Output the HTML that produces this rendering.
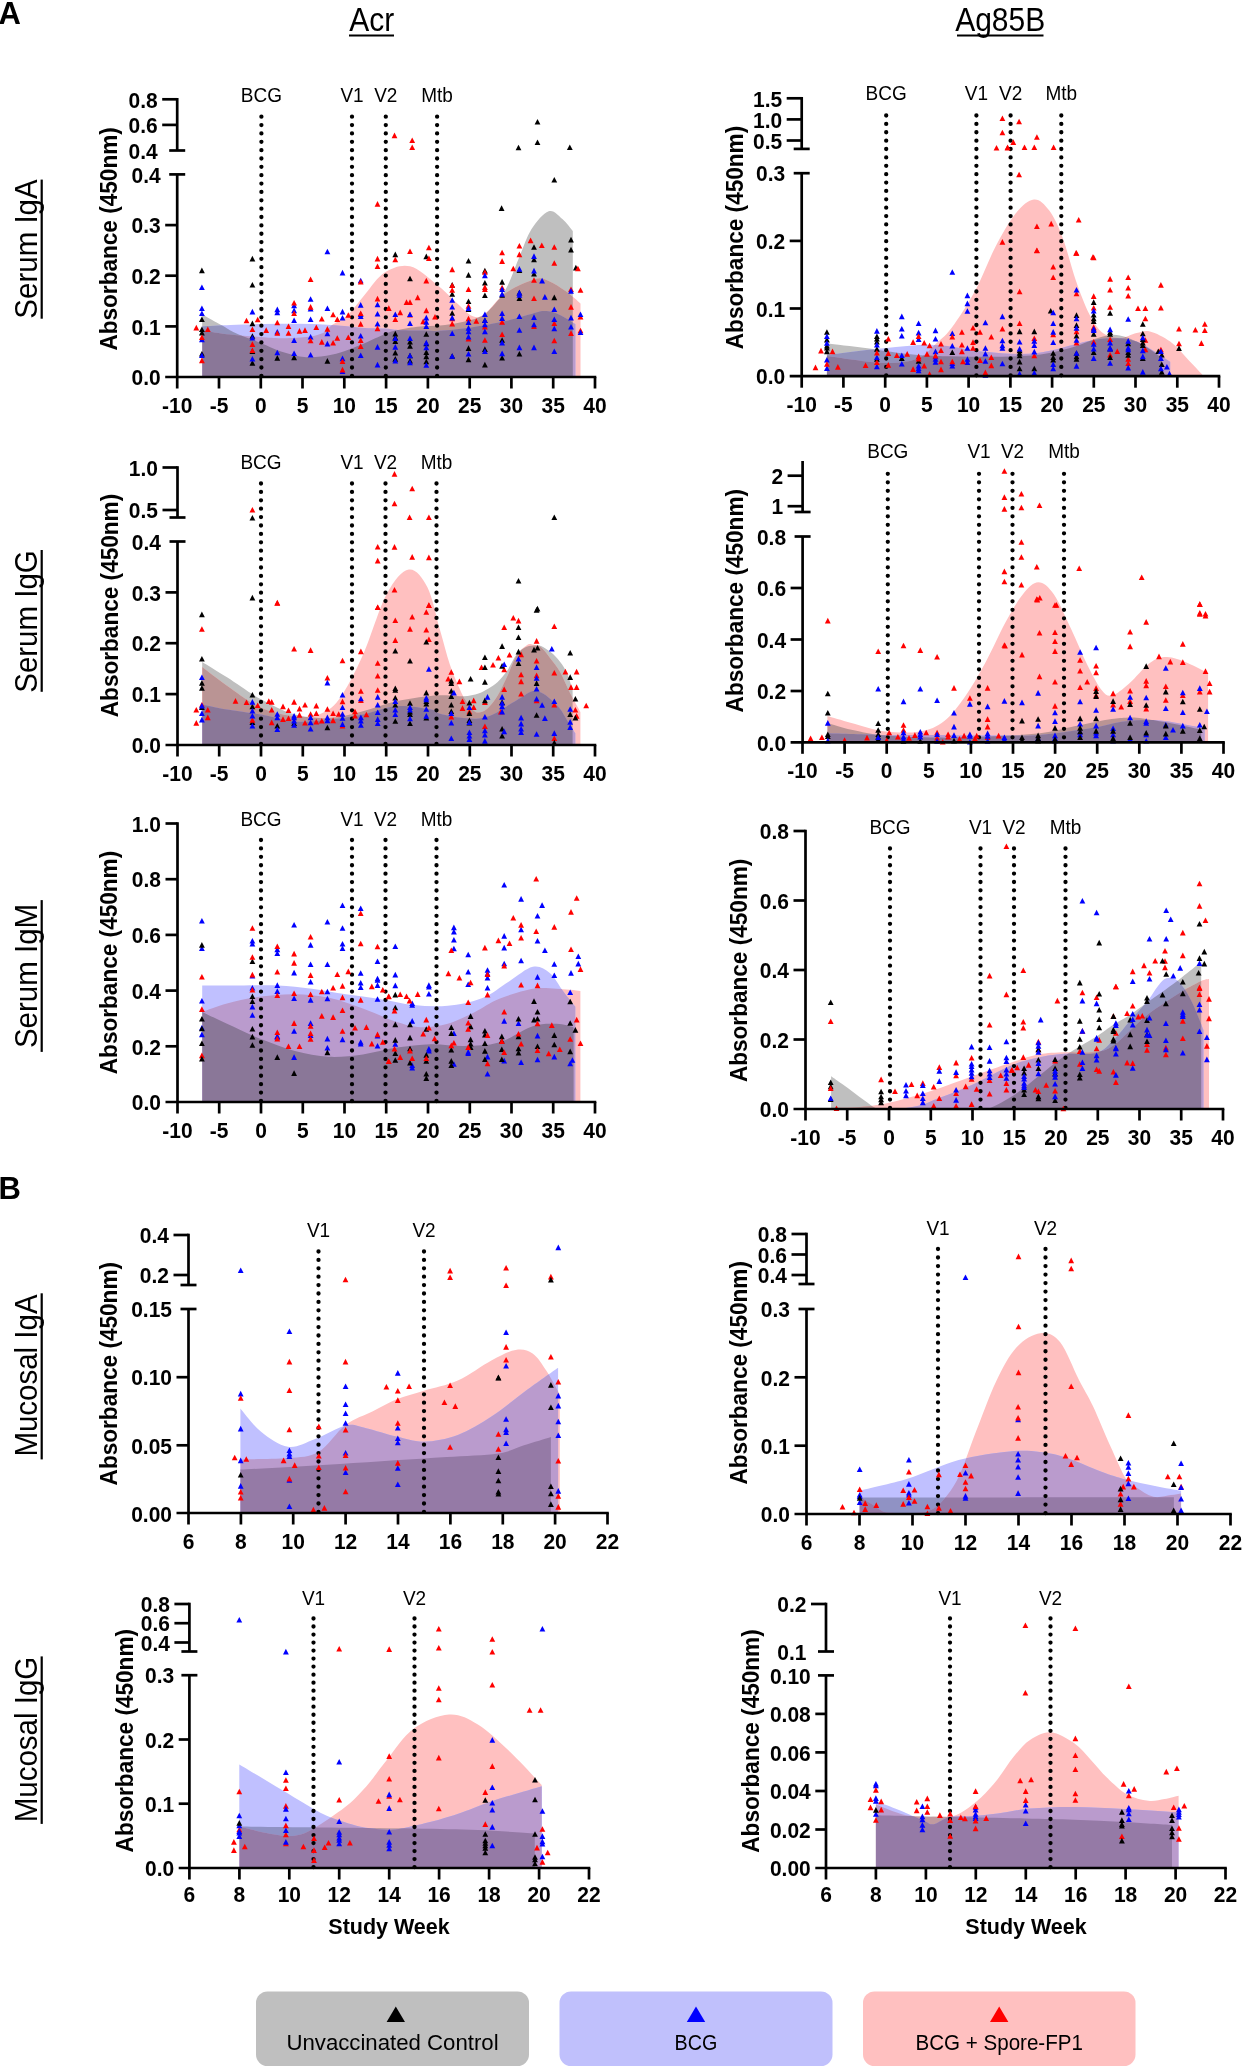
<!DOCTYPE html>
<html><head><meta charset="utf-8"><style>
html,body{margin:0;padding:0;background:#fff;}
svg{display:block;font-family:"Liberation Sans", sans-serif;will-change:transform;}
</style></head><body>
<svg width="1248" height="2072" viewBox="0 0 1248 2072">
<defs><clipPath id="cA1LG"><path d="M202.2,376.0 L202.2,314.4 C205.5,316.2 216.5,322.3 222.1,325.4 C227.7,328.5 229.1,330.0 235.5,332.9 C241.9,335.8 253.2,339.9 260.8,343.0 C268.4,346.1 273.4,349.0 281.0,351.4 C288.6,353.8 297.8,356.7 306.2,357.3 C314.6,357.9 324.4,356.1 331.4,354.8 C338.4,353.6 342.7,351.8 348.3,349.8 C353.9,347.8 359.0,345.6 365.1,343.0 C371.2,340.4 379.5,336.2 385.0,334.0 C390.5,331.8 392.2,331.2 398.0,330.0 C403.8,328.8 413.0,327.2 420.0,326.5 C427.0,325.8 433.3,326.3 440.0,325.6 C446.7,324.9 453.6,323.9 460.0,322.5 C466.4,321.1 473.8,319.4 478.5,317.5 C483.2,315.6 483.9,315.6 488.4,311.0 C492.9,306.4 500.4,298.6 505.6,289.6 C510.8,280.6 515.1,266.9 519.4,256.8 C523.7,246.8 526.5,236.9 531.4,229.3 C536.3,221.7 543.5,212.9 548.7,211.2 C553.9,209.5 558.4,215.7 562.4,219.0 C566.4,222.3 571.1,229.0 572.8,231.0 L572.8,376.0 Z"/></clipPath>
<clipPath id="cA1LB"><path d="M202.2,376.0 L202.2,326.2 C206.9,326.0 220.2,325.3 230.5,324.9 C240.8,324.5 252.9,324.2 264.1,324.0 C275.3,323.8 286.6,323.6 297.8,323.7 C309.0,323.8 320.2,324.2 331.4,324.9 C342.6,325.6 356.2,327.3 365.1,327.9 C374.0,328.5 379.5,328.1 385.0,328.5 C390.5,328.9 392.2,329.6 398.0,330.0 C403.8,330.4 413.0,330.5 420.0,330.6 C427.0,330.7 431.5,331.3 440.0,330.8 C448.5,330.3 460.2,329.1 471.1,327.5 C482.0,325.9 495.6,323.2 505.6,321.0 C515.6,318.8 525.1,315.6 531.4,314.0 C537.7,312.4 539.2,311.2 543.5,311.1 C547.8,311.1 552.0,311.6 557.3,313.7 C562.6,315.8 572.4,322.3 575.4,324.0 L575.4,376.0 Z"/></clipPath>
<clipPath id="cA1LR"><path d="M202.2,376.0 L202.2,330.4 C206.9,331.1 220.7,333.5 230.5,334.6 C240.3,335.7 252.4,336.5 260.8,337.1 C269.2,337.7 273.4,338.3 281.0,338.3 C288.6,338.3 299.2,338.0 306.2,337.1 C313.2,336.2 318.8,334.8 323.0,332.9 C327.2,330.9 327.2,328.5 331.4,325.4 C335.6,322.3 342.7,319.6 348.3,314.4 C353.9,309.2 359.0,301.2 365.1,294.2 C371.2,287.2 377.5,276.9 385.0,272.3 C392.5,267.7 401.4,264.3 410.0,266.3 C418.6,268.3 428.8,278.2 436.7,284.4 C444.6,290.6 451.3,298.1 457.3,303.4 C463.3,308.7 468.3,314.6 472.9,316.3 C477.5,318.0 479.4,317.6 484.9,313.7 C490.3,309.8 497.3,298.8 505.6,293.0 C513.9,287.2 527.7,281.2 534.9,279.2 C542.1,277.2 543.5,279.0 548.7,281.0 C553.9,283.0 560.6,287.6 565.9,291.3 C571.2,295.0 578.1,301.4 580.5,303.4 L580.5,376.0 Z"/></clipPath>
<clipPath id="cA1RG"><path d="M826.9,375.2 L826.9,343.2 C833.6,344.1 852.1,346.3 867.3,348.3 C882.4,350.3 898.2,353.6 917.8,355.0 C937.4,356.4 965.5,356.7 985.1,356.7 C1004.7,356.7 1021.6,356.4 1035.6,355.0 C1049.6,353.6 1058.1,351.4 1069.3,348.3 C1080.5,345.2 1094.5,338.6 1102.9,336.5 C1111.3,334.4 1114.2,334.6 1119.8,335.5 C1125.4,336.4 1131.0,338.9 1136.6,341.6 C1142.2,344.3 1149.2,348.9 1153.4,351.7 C1157.6,354.5 1160.4,357.3 1161.8,358.4 L1161.8,375.2 Z"/></clipPath>
<clipPath id="cA1RB"><path d="M826.9,375.2 L826.9,355.0 C836.4,353.9 866.1,350.0 884.1,348.3 C902.1,346.6 917.8,344.3 934.6,344.9 C951.4,345.5 968.3,350.3 985.1,351.7 C1001.9,353.1 1018.8,355.0 1035.6,353.3 C1052.4,351.6 1073.8,344.1 1086.1,341.6 C1098.4,339.1 1101.3,338.2 1109.7,338.2 C1118.1,338.2 1126.5,337.7 1136.6,341.6 C1146.7,345.5 1164.6,358.4 1170.2,361.8 L1170.2,375.2 Z"/></clipPath>
<clipPath id="cA1RR"><path d="M826.9,375.2 L826.9,356.0 C836.4,357.2 869.0,362.6 884.1,363.0 C899.2,363.4 909.4,361.4 917.8,358.4 C926.2,355.4 929.0,349.9 934.6,344.9 C940.2,339.8 944.8,337.1 951.5,328.1 C958.2,319.1 967.7,304.6 975.0,291.1 C982.3,277.6 988.5,260.2 995.2,247.3 C1001.9,234.4 1008.9,221.7 1015.4,213.7 C1021.9,205.7 1028.3,200.1 1033.9,199.5 C1039.5,198.9 1044.3,204.0 1049.1,210.3 C1053.9,216.6 1058.0,225.4 1062.5,237.2 C1067.0,249.0 1071.5,268.1 1076.0,281.0 C1080.5,293.9 1085.0,305.9 1089.5,314.6 C1094.0,323.3 1097.9,329.2 1102.9,333.1 C1108.0,337.0 1114.2,338.2 1119.8,338.2 C1125.4,338.2 1131.6,334.2 1136.6,333.1 C1141.6,332.0 1144.4,330.1 1150.0,331.5 C1155.6,332.9 1164.0,337.1 1170.2,341.6 C1176.4,346.1 1181.8,352.9 1187.1,358.4 C1192.4,363.9 1199.7,371.8 1202.2,374.5 L1202.2,375.2 Z"/></clipPath>
<clipPath id="cA2LG"><path d="M202.2,744.0 L202.2,661.9 C206.3,664.5 217.2,671.0 227.0,677.2 C236.8,683.4 249.7,693.1 261.0,699.3 C272.3,705.5 283.6,711.5 294.9,714.6 C306.2,717.7 317.6,718.6 328.9,718.0 C340.2,717.4 351.6,714.0 362.9,711.2 C374.2,708.4 385.6,703.5 396.9,701.0 C408.2,698.5 421.9,696.8 430.8,695.9 C439.7,695.0 444.5,695.4 450.0,695.5 C455.5,695.6 459.2,696.6 464.0,696.3 C468.8,696.0 474.5,694.8 478.5,693.5 C482.5,692.2 484.9,690.6 488.1,688.7 C491.3,686.8 494.5,685.0 497.7,681.9 C500.9,678.8 504.1,675.0 507.3,670.4 C510.5,665.8 513.7,657.9 516.9,654.0 C520.1,650.1 523.3,648.2 526.5,646.8 C529.7,645.4 533.8,645.5 536.2,645.4 C538.6,645.2 538.6,644.8 541.0,645.9 C543.4,647.0 547.4,649.5 550.6,652.1 C553.8,654.7 557.3,658.2 560.0,661.7 C562.7,665.2 564.9,668.3 567.0,673.0 C569.1,677.7 571.7,687.2 572.6,690.0 L572.6,744.0 Z"/></clipPath>
<clipPath id="cA2LR"><path d="M202.2,744.0 L202.2,667.0 C206.3,670.1 217.2,678.9 227.0,685.7 C236.8,692.5 249.7,702.7 261.0,707.8 C272.3,712.9 285.3,715.2 294.9,716.3 C304.5,717.4 311.3,717.4 318.7,714.6 C326.1,711.8 331.7,709.2 339.1,699.3 C346.5,689.4 355.0,672.6 362.9,655.1 C370.8,637.6 379.0,608.3 386.7,594.0 C394.4,579.7 402.0,570.6 408.8,569.5 C415.6,568.4 422.2,577.1 427.4,587.2 C432.6,597.3 436.3,617.2 440.0,630.0 C443.7,642.8 446.4,654.1 449.6,663.7 C452.8,673.3 456.6,681.8 459.2,687.7 C461.8,693.6 462.6,695.4 465.0,699.2 C467.4,703.1 471.1,708.6 473.7,710.8 C476.3,713.0 478.0,712.7 480.4,712.2 C482.8,711.7 485.2,710.7 488.1,707.9 C491.0,705.1 494.5,700.7 497.7,695.4 C500.9,690.1 504.1,682.9 507.3,676.2 C510.5,669.5 513.7,660.1 516.9,655.0 C520.1,649.9 523.9,647.2 526.5,645.4 C529.1,643.6 529.9,644.1 532.3,644.4 C534.7,644.7 538.0,644.9 541.0,647.3 C544.0,649.7 547.4,654.7 550.6,658.8 C553.8,662.9 556.8,666.1 560.0,671.8 C563.2,677.5 566.6,686.3 570.0,693.0 C573.4,699.7 578.7,708.8 580.4,712.0 L580.4,744.0 Z"/></clipPath>
<clipPath id="cA2LB"><path d="M202.2,744.0 L202.2,704.4 C206.3,705.2 217.2,707.8 227.0,709.5 C236.8,711.2 249.7,712.6 261.0,714.6 C272.3,716.6 283.6,720.5 294.9,721.4 C306.2,722.2 317.6,720.8 328.9,719.7 C340.2,718.6 351.6,716.9 362.9,714.6 C374.2,712.3 385.6,707.0 396.9,706.1 C408.2,705.2 423.6,708.2 430.8,709.5 C438.0,710.8 435.3,712.4 440.0,713.7 C444.7,715.0 452.8,716.7 459.2,717.5 C465.6,718.3 472.9,719.0 478.5,718.5 C484.1,718.0 488.1,716.7 492.9,714.6 C497.7,712.5 502.5,708.9 507.3,706.0 C512.1,703.1 517.7,699.7 521.7,697.3 C525.7,694.9 528.1,692.3 531.3,691.5 C534.5,690.7 537.8,691.2 541.0,692.5 C544.2,693.8 547.4,696.5 550.6,699.2 C553.8,701.9 557.3,705.4 560.0,708.8 C562.7,712.2 564.2,715.6 566.8,719.7 C569.3,723.8 573.9,731.0 575.3,733.3 L575.3,744.0 Z"/></clipPath>
<clipPath id="cA2RR"><path d="M827.4,741.3 L827.4,716.0 C831.4,717.1 841.7,720.3 851.4,722.9 C861.1,725.5 874.3,730.1 885.7,731.5 C897.1,732.9 910.3,733.2 920.0,731.5 C929.7,729.8 936.6,726.9 944.0,721.2 C951.4,715.5 957.7,706.9 964.6,697.2 C971.5,687.5 978.3,675.5 985.2,662.9 C992.1,650.3 999.5,633.1 1005.8,621.7 C1012.1,610.3 1017.5,600.9 1022.9,594.3 C1028.3,587.7 1033.1,582.3 1038.3,582.3 C1043.5,582.3 1048.4,586.6 1053.8,594.3 C1059.2,602.0 1065.2,616.6 1070.9,628.6 C1076.6,640.6 1082.8,656.0 1088.0,666.3 C1093.2,676.6 1097.8,685.4 1101.8,690.3 C1105.8,695.2 1107.5,696.6 1112.1,695.5 C1116.7,694.4 1122.9,688.9 1129.2,683.5 C1135.5,678.1 1143.5,667.3 1149.8,662.9 C1156.1,658.5 1160.6,657.0 1166.9,657.0 C1173.2,657.0 1180.6,660.2 1187.5,662.9 C1194.4,665.6 1204.7,671.5 1208.1,673.2 L1208.1,741.3 Z"/></clipPath>
<clipPath id="cA2RG"><path d="M827.4,741.3 L827.4,722.9 C831.4,724.0 841.7,727.7 851.4,729.8 C861.1,731.9 871.4,734.3 885.7,735.6 C900.0,736.9 920.1,737.4 937.2,737.6 C954.4,737.8 971.5,737.3 988.6,736.6 C1005.7,735.9 1025.7,734.9 1040.0,733.2 C1054.3,731.5 1062.9,728.6 1074.3,726.3 C1085.7,724.0 1100.0,720.9 1108.6,719.5 C1117.2,718.1 1120.1,717.9 1125.8,717.7 C1131.5,717.5 1134.3,717.2 1142.9,718.4 C1151.5,719.5 1167.5,722.7 1177.2,724.6 C1186.9,726.5 1197.2,728.9 1201.2,729.8 L1201.2,741.3 Z"/></clipPath>
<clipPath id="cA2RB"><path d="M827.4,741.3 L827.4,733.2 C837.1,733.5 867.4,734.6 885.7,734.9 C904.0,735.2 920.1,734.8 937.2,734.9 C954.4,735.0 971.5,735.6 988.6,735.6 C1005.7,735.6 1022.9,736.2 1040.0,734.9 C1057.2,733.6 1077.2,730.3 1091.5,728.0 C1105.8,725.7 1114.4,722.5 1125.8,721.2 C1137.2,720.0 1148.7,719.6 1160.1,720.5 C1171.5,721.4 1187.0,725.0 1194.4,726.3 C1201.8,727.5 1203.0,727.7 1204.7,728.0 L1204.7,741.3 Z"/></clipPath>
<clipPath id="cA3LB"><path d="M202.2,1101.0 L202.2,985.4 C209.2,985.4 231.4,985.4 244.0,985.4 C256.6,985.4 266.6,984.8 277.9,985.4 C289.2,986.0 300.6,987.3 311.9,988.8 C323.2,990.3 334.6,992.6 345.9,994.3 C357.2,996.0 368.6,997.2 379.9,999.0 C391.2,1000.8 402.6,1004.0 413.9,1005.1 C425.2,1006.2 436.5,1006.9 447.8,1005.8 C459.1,1004.7 471.6,1002.4 481.8,998.3 C492.0,994.2 500.5,986.7 509.0,981.4 C517.5,976.1 526.0,968.1 532.8,966.7 C539.6,965.3 544.7,968.8 549.8,972.9 C554.9,977.0 559.1,985.9 563.4,991.5 C567.6,997.1 573.3,1004.2 575.3,1006.8 L575.3,1101.0 Z"/></clipPath>
<clipPath id="cA3LR"><path d="M202.2,1101.0 L202.2,1011.9 C206.3,1010.5 217.2,1005.9 227.0,1003.4 C236.8,1000.9 249.7,998.1 261.0,996.6 C272.3,995.1 283.6,994.1 294.9,994.3 C306.2,994.5 317.6,995.3 328.9,997.7 C340.2,1000.1 351.6,1004.4 362.9,1008.5 C374.2,1012.6 387.3,1019.0 396.9,1022.1 C406.5,1025.2 412.1,1026.9 420.6,1027.2 C429.1,1027.5 438.7,1026.3 447.8,1023.8 C456.9,1021.2 466.5,1016.0 475.0,1011.9 C483.5,1007.8 489.2,1002.9 498.8,999.0 C508.4,995.1 523.2,990.5 532.8,988.8 C542.4,987.1 548.7,988.4 556.6,988.8 C564.5,989.1 576.4,990.5 580.4,990.9 L580.4,1101.0 Z"/></clipPath>
<clipPath id="cA3LG"><path d="M202.2,1101.0 L202.2,1011.9 C206.3,1013.9 217.2,1019.3 227.0,1023.8 C236.8,1028.3 249.7,1034.6 261.0,1039.1 C272.3,1043.6 283.6,1048.0 294.9,1051.0 C306.2,1054.0 317.6,1056.2 328.9,1056.8 C340.2,1057.4 351.6,1055.9 362.9,1054.4 C374.2,1052.9 385.6,1049.3 396.9,1047.6 C408.2,1045.9 419.5,1044.5 430.8,1044.2 C442.1,1043.9 453.5,1046.2 464.8,1045.9 C476.1,1045.6 487.5,1045.8 498.8,1042.5 C510.1,1039.2 523.2,1029.3 532.8,1026.2 C542.4,1023.1 549.8,1023.6 556.6,1023.8 C563.4,1024.0 570.8,1026.6 573.6,1027.2 L573.6,1101.0 Z"/></clipPath>
<clipPath id="cA3RG"><path d="M831.1,1108.0 L831.1,1076.2 C833.0,1077.5 838.5,1081.4 842.2,1084.1 C845.9,1086.8 849.7,1089.5 853.4,1092.2 C857.1,1094.9 860.8,1097.8 864.5,1100.4 C868.2,1103.0 872.3,1106.7 875.7,1108.0 C879.1,1108.0 867.6,1108.0 885.0,1108.0 C902.4,1108.0 962.5,1108.0 980.0,1108.0 C997.5,1108.0 984.2,1108.0 990.0,1108.0 C995.8,1105.7 1006.7,1099.9 1015.0,1094.4 C1023.3,1088.9 1031.7,1081.4 1040.0,1075.0 C1048.3,1068.6 1055.7,1062.2 1065.0,1055.8 C1074.3,1049.4 1087.9,1042.0 1096.0,1036.8 C1104.1,1031.6 1107.6,1028.5 1113.4,1024.8 C1119.2,1021.1 1124.9,1018.3 1130.6,1014.5 C1136.3,1010.7 1142.1,1006.1 1147.8,1002.0 C1153.5,997.9 1159.2,994.2 1165.0,990.0 C1170.8,985.8 1176.3,981.7 1182.3,977.0 C1188.3,972.3 1198.0,964.5 1201.2,962.0 L1201.2,1108.0 Z"/></clipPath>
<clipPath id="cA3RR"><path d="M831.0,1108.0 L831.0,1108.0 C835.8,1107.8 850.3,1107.9 860.0,1107.0 C869.7,1106.1 877.2,1105.5 889.0,1102.8 C900.8,1100.1 917.0,1095.5 931.0,1091.0 C945.0,1086.5 959.8,1080.7 973.0,1076.0 C986.2,1071.3 999.5,1066.5 1010.0,1063.0 C1020.5,1059.5 1027.2,1056.8 1035.8,1055.0 C1044.4,1053.2 1051.7,1052.8 1061.7,1052.3 C1071.7,1051.8 1087.4,1053.1 1096.0,1052.0 C1104.6,1050.9 1107.6,1049.2 1113.4,1045.5 C1119.2,1041.8 1124.9,1035.2 1130.6,1030.0 C1136.3,1024.8 1142.1,1019.1 1147.8,1014.5 C1153.5,1009.9 1159.2,1006.3 1165.0,1002.4 C1170.8,998.5 1176.3,994.8 1182.3,991.2 C1188.3,987.6 1196.8,983.0 1201.2,981.0 C1205.7,979.0 1207.7,979.3 1209.0,979.0 L1209.0,1108.0 Z"/></clipPath>
<clipPath id="cA3RB"><path d="M831.0,1108.0 L831.0,1108.0 C843.5,1108.0 887.9,1108.0 906.0,1107.9 C924.1,1106.2 928.4,1101.7 939.6,1097.8 C950.8,1093.9 961.6,1089.6 973.3,1084.3 C985.0,1079.0 999.6,1070.4 1010.0,1066.0 C1020.4,1061.6 1027.2,1060.0 1035.8,1058.0 C1044.4,1056.0 1051.7,1054.8 1061.7,1054.0 C1071.7,1053.2 1087.4,1055.3 1096.0,1053.0 C1104.6,1050.7 1107.6,1045.5 1113.4,1040.0 C1119.2,1034.5 1124.9,1026.5 1130.6,1020.0 C1136.3,1013.5 1143.2,1006.4 1147.8,1000.7 C1152.4,995.0 1154.9,989.7 1158.0,986.0 C1161.1,982.3 1163.2,979.1 1166.5,978.3 C1169.8,977.5 1173.9,977.4 1178.0,981.0 C1182.1,984.6 1186.7,991.8 1190.9,1000.0 C1195.2,1008.2 1201.4,1025.0 1203.5,1030.0 L1203.5,1108.0 Z"/></clipPath>
<clipPath id="cB1LG"><path d="M240.4,1512.0 L240.4,1469.6 C248.7,1469.2 273.4,1467.9 290.0,1467.0 C306.6,1466.1 322.5,1465.1 340.0,1464.0 C357.5,1462.9 377.2,1461.5 395.0,1460.3 C412.8,1459.1 429.8,1458.2 447.0,1457.0 C464.2,1455.8 485.6,1455.4 498.4,1453.4 C511.2,1451.5 515.2,1448.0 524.0,1445.3 C532.8,1442.6 546.4,1438.4 550.9,1437.0 L550.9,1512.0 Z"/></clipPath>
<clipPath id="cB1LB"><path d="M240.4,1512.0 L240.4,1408.4 C243.8,1412.2 252.9,1425.1 260.8,1431.5 C268.7,1437.9 278.9,1445.5 288.0,1446.8 C297.1,1448.0 305.5,1442.6 315.1,1439.0 C324.7,1435.4 337.2,1427.2 345.7,1425.4 C354.2,1423.6 357.6,1426.3 366.1,1428.2 C374.6,1430.1 387.1,1434.3 396.7,1436.6 C406.3,1438.8 413.7,1442.0 423.9,1441.7 C434.1,1441.4 446.5,1439.1 457.8,1434.9 C469.1,1430.7 480.5,1423.7 491.8,1416.3 C503.1,1408.9 514.8,1398.9 525.8,1390.8 C536.8,1382.7 552.7,1371.5 558.1,1367.7 L558.1,1512.0 Z"/></clipPath>
<clipPath id="cB1LR"><path d="M240.4,1512.0 L240.4,1459.4 C248.3,1459.2 275.0,1459.3 288.0,1458.1 C301.0,1456.9 308.9,1457.5 318.5,1452.0 C328.1,1446.5 336.6,1431.6 345.7,1424.8 C354.8,1418.0 364.4,1415.5 372.9,1411.2 C381.4,1407.0 388.2,1402.7 396.7,1399.3 C405.2,1395.9 413.7,1393.9 423.9,1390.8 C434.1,1387.7 446.5,1385.7 457.8,1380.6 C469.1,1375.5 482.2,1365.3 491.8,1360.2 C501.4,1355.1 508.8,1351.1 515.6,1350.0 C522.4,1348.9 527.5,1350.0 532.6,1353.4 C537.7,1356.8 541.7,1363.6 546.2,1370.4 C550.7,1377.2 557.5,1390.2 559.8,1394.2 L559.8,1512.0 Z"/></clipPath>
<clipPath id="cB1RG"><path d="M859.6,1513.0 L859.6,1497.5 C883.0,1497.5 947.6,1497.4 1000.0,1497.4 C1052.4,1497.4 1144.9,1497.3 1173.9,1497.3 L1173.9,1513.0 Z"/></clipPath>
<clipPath id="cB1RB"><path d="M859.6,1513.0 L859.6,1490.6 C867.6,1488.6 890.9,1483.8 907.4,1478.7 C923.9,1473.6 941.5,1464.5 958.6,1459.9 C975.7,1455.4 996.2,1452.7 1009.8,1451.4 C1023.4,1450.1 1030.5,1450.9 1040.0,1452.0 C1049.5,1453.1 1056.7,1454.6 1066.9,1457.9 C1077.2,1461.2 1091.7,1468.1 1101.5,1471.7 C1111.3,1475.3 1116.9,1477.1 1125.8,1479.5 C1134.7,1481.9 1145.8,1484.1 1155.0,1486.0 C1164.2,1487.9 1176.8,1490.0 1181.1,1490.8 L1181.1,1513.0 Z"/></clipPath>
<clipPath id="cB1RR"><path d="M859.6,1513.0 L859.6,1496.6 C861.8,1498.0 868.5,1502.3 873.0,1505.0 C877.5,1507.7 880.4,1511.2 886.6,1512.5 C892.8,1513.0 903.4,1513.0 910.0,1513.0 C916.6,1512.9 920.8,1513.0 926.0,1512.0 C931.2,1510.2 936.1,1507.8 941.5,1502.0 C946.9,1496.2 952.9,1488.6 958.6,1477.0 C964.3,1465.4 969.4,1448.5 975.6,1432.6 C981.9,1416.7 989.3,1395.6 996.1,1381.4 C1002.9,1367.2 1009.2,1355.3 1016.6,1347.3 C1024.0,1339.3 1033.1,1334.2 1040.3,1333.3 C1047.5,1332.4 1053.5,1334.2 1060.0,1342.0 C1066.5,1349.8 1073.5,1369.3 1079.0,1380.0 C1084.5,1390.7 1087.7,1395.0 1092.9,1406.0 C1098.1,1417.0 1104.7,1433.7 1110.2,1445.8 C1115.7,1457.9 1121.5,1471.7 1125.8,1478.6 C1130.1,1485.5 1131.5,1484.3 1136.1,1487.3 C1140.7,1490.3 1147.7,1495.5 1153.5,1496.8 C1159.3,1498.1 1166.2,1495.7 1170.8,1495.1 C1175.4,1494.5 1179.4,1493.7 1181.1,1493.4 L1181.1,1513.0 Z"/></clipPath>
<clipPath id="cB2LG"><path d="M239.5,1867.0 L239.5,1826.6 C252.4,1826.8 287.9,1827.2 316.9,1827.5 C345.9,1827.8 386.7,1828.1 413.5,1828.5 C440.3,1828.9 457.7,1829.3 477.9,1830.1 C498.1,1830.9 525.3,1832.9 534.8,1833.4 L534.8,1867.0 Z"/></clipPath>
<clipPath id="cB2LR"><path d="M239.3,1867.0 L239.3,1826.6 C243.3,1827.6 255.2,1830.8 263.3,1832.4 C271.4,1834.0 281.1,1835.9 288.0,1836.0 C294.9,1836.1 299.1,1835.2 304.6,1833.2 C310.1,1831.2 315.5,1827.5 321.0,1824.1 C326.5,1820.7 332.1,1816.7 337.6,1812.6 C343.1,1808.5 348.5,1804.6 354.0,1799.4 C359.5,1794.2 365.1,1787.8 370.6,1781.2 C376.1,1774.6 379.9,1768.5 387.0,1759.8 C394.1,1751.0 403.2,1736.2 413.5,1728.7 C423.8,1721.2 438.3,1715.2 449.0,1714.5 C459.7,1713.8 467.7,1718.2 477.9,1724.4 C488.1,1730.7 499.6,1741.9 510.2,1752.0 C520.8,1762.1 536.5,1779.5 541.7,1785.0 L541.7,1867.0 Z"/></clipPath>
<clipPath id="cB2LB"><path d="M239.3,1867.0 L239.3,1764.4 C243.3,1766.8 255.2,1773.8 263.3,1778.7 C271.4,1783.6 279.8,1788.6 288.0,1793.6 C296.2,1798.6 305.6,1804.5 312.8,1808.5 C320.0,1812.5 324.1,1814.8 331.0,1817.5 C337.9,1820.2 347.4,1823.2 354.0,1825.0 C360.6,1826.8 363.8,1827.6 370.6,1828.3 C377.4,1829.0 385.1,1830.5 395.0,1829.4 C404.9,1828.4 418.9,1824.8 430.0,1822.0 C441.1,1819.2 451.1,1816.0 461.8,1812.4 C472.5,1808.8 480.6,1804.9 494.0,1800.5 C507.4,1796.1 533.9,1788.6 541.9,1786.2 L541.9,1867.0 Z"/></clipPath>
<clipPath id="cB2RG"><path d="M875.8,1867.0 L875.8,1815.2 C888.8,1815.5 928.6,1816.5 953.5,1817.0 C978.4,1817.5 1004.9,1818.0 1025.0,1818.5 C1045.1,1819.0 1057.9,1819.1 1074.3,1819.7 C1090.7,1820.3 1107.3,1821.2 1123.6,1822.1 C1139.9,1823.0 1163.9,1824.6 1172.0,1825.1 L1172.0,1867.0 Z"/></clipPath>
<clipPath id="cB2RB"><path d="M875.9,1867.0 L875.9,1801.3 C879.9,1802.8 891.6,1807.0 899.6,1810.3 C907.6,1813.6 918.4,1818.6 924.1,1820.9 C929.8,1823.2 929.5,1824.9 933.9,1824.2 C938.2,1823.5 943.7,1818.2 950.2,1816.8 C956.7,1815.4 965.2,1816.5 973.1,1816.0 C981.0,1815.5 988.1,1814.8 997.6,1813.6 C1007.1,1812.4 1017.2,1809.7 1030.0,1808.6 C1042.8,1807.5 1058.7,1806.9 1074.3,1807.0 C1089.9,1807.1 1106.2,1808.1 1123.6,1809.0 C1141.0,1809.9 1169.4,1811.8 1178.6,1812.3 L1178.6,1867.0 Z"/></clipPath>
<clipPath id="cB2RR"><path d="M875.9,1867.0 L875.9,1804.6 C879.9,1806.1 892.9,1811.6 899.6,1813.6 C906.3,1815.6 909.1,1816.0 915.9,1816.5 C922.7,1817.0 934.1,1816.9 940.4,1816.8 C946.7,1816.7 949.4,1817.1 953.5,1816.0 C957.6,1814.9 960.3,1813.4 964.9,1810.3 C969.5,1807.2 975.8,1802.4 981.3,1797.2 C986.8,1792.0 992.1,1786.0 997.6,1779.2 C1003.1,1772.4 1008.6,1762.8 1014.0,1756.3 C1019.4,1749.8 1023.9,1744.0 1030.0,1740.0 C1036.1,1736.0 1043.2,1731.8 1050.6,1732.3 C1058.0,1732.8 1067.6,1738.7 1074.3,1743.3 C1081.0,1747.9 1085.2,1754.0 1090.7,1759.7 C1096.2,1765.5 1101.1,1772.0 1107.1,1777.8 C1113.1,1783.5 1119.9,1790.4 1126.8,1794.2 C1133.7,1798.0 1141.9,1800.0 1148.2,1800.8 C1154.5,1801.6 1159.5,1799.9 1164.6,1799.1 C1169.7,1798.3 1176.3,1796.3 1178.6,1795.8 L1178.6,1867.0 Z"/></clipPath></defs>
<text transform="translate(-1.5,24.4) scale(1,1.000)" font-size="31.0" text-anchor="start" font-weight="bold">A</text>
<text transform="translate(-1.5,1199.2) scale(1,1.000)" font-size="31.0" text-anchor="start" font-weight="bold">B</text>
<text transform="translate(371.8,30.8) scale(1,1.080)" font-size="30.0" text-anchor="middle">Acr</text>
<rect x="349" y="34.5" width="45" height="2"/>
<text transform="translate(1000.2,30.8) scale(1,1.080)" font-size="30.0" text-anchor="middle">Ag85B</text>
<rect x="957" y="34.5" width="86.5" height="2"/>
<text transform="translate(389.0,1933.5) scale(1,1.050)" font-size="21.5" text-anchor="middle" font-weight="bold">Study Week</text>
<text transform="translate(1026.0,1933.5) scale(1,1.050)" font-size="21.5" text-anchor="middle" font-weight="bold">Study Week</text>
<text transform="translate(37,249.0) rotate(-90) scale(1,1.06)" font-size="29.5" text-anchor="middle">Serum IgA</text>
<rect x="40.6" y="179.6" width="2.2" height="139.1"/>
<text transform="translate(37,621.5) rotate(-90) scale(1,1.06)" font-size="29.5" text-anchor="middle">Serum IgG</text>
<rect x="40.6" y="550.0" width="2.2" height="141.8"/>
<text transform="translate(37,976.0) rotate(-90) scale(1,1.06)" font-size="29.5" text-anchor="middle">Serum IgM</text>
<rect x="40.6" y="900.1" width="2.2" height="151.8"/>
<text transform="translate(37,1375.5) rotate(-90) scale(1,1.06)" font-size="29.5" text-anchor="middle">Mucosal IgA</text>
<rect x="40.6" y="1293.3" width="2.2" height="166.1"/>
<text transform="translate(37,1739.5) rotate(-90) scale(1,1.06)" font-size="29.5" text-anchor="middle">Mucosal IgG</text>
<rect x="40.6" y="1656.4" width="2.2" height="167.5"/>
<rect x="256.0" y="1991.5" width="273.0" height="74.5" rx="11.5" fill="#bfbfbf"/>
<path d="M395.8,2006.5l9.2,15.5h-18.4z" fill="#000"/>
<text transform="translate(392.5,2050) scale(1.000,1)" font-size="22.2" text-anchor="middle">Unvaccinated Control</text>
<rect x="559.5" y="1991.5" width="273.0" height="74.5" rx="11.5" fill="#c0c0fc"/>
<path d="M696.0,2006.5l9.2,15.5h-18.4z" fill="#0000ff"/>
<text transform="translate(696.0,2050) scale(0.890,1)" font-size="22.2" text-anchor="middle">BCG</text>
<rect x="863.0" y="1991.5" width="272.5" height="74.5" rx="11.5" fill="#ffc0c0"/>
<path d="M999.2,2006.5l9.2,15.5h-18.4z" fill="#ff0000"/>
<text transform="translate(999.2,2050) scale(0.927,1)" font-size="22.2" text-anchor="middle">BCG + Spore-FP1</text>
<path d="M202.2,376.0 L202.2,314.4 C205.5,316.2 216.5,322.3 222.1,325.4 C227.7,328.5 229.1,330.0 235.5,332.9 C241.9,335.8 253.2,339.9 260.8,343.0 C268.4,346.1 273.4,349.0 281.0,351.4 C288.6,353.8 297.8,356.7 306.2,357.3 C314.6,357.9 324.4,356.1 331.4,354.8 C338.4,353.6 342.7,351.8 348.3,349.8 C353.9,347.8 359.0,345.6 365.1,343.0 C371.2,340.4 379.5,336.2 385.0,334.0 C390.5,331.8 392.2,331.2 398.0,330.0 C403.8,328.8 413.0,327.2 420.0,326.5 C427.0,325.8 433.3,326.3 440.0,325.6 C446.7,324.9 453.6,323.9 460.0,322.5 C466.4,321.1 473.8,319.4 478.5,317.5 C483.2,315.6 483.9,315.6 488.4,311.0 C492.9,306.4 500.4,298.6 505.6,289.6 C510.8,280.6 515.1,266.9 519.4,256.8 C523.7,246.8 526.5,236.9 531.4,229.3 C536.3,221.7 543.5,212.9 548.7,211.2 C553.9,209.5 558.4,215.7 562.4,219.0 C566.4,222.3 571.1,229.0 572.8,231.0 L572.8,376.0 Z" fill="#bfbfbf"/>
<path d="M202.2,376.0 L202.2,330.4 C206.9,331.1 220.7,333.5 230.5,334.6 C240.3,335.7 252.4,336.5 260.8,337.1 C269.2,337.7 273.4,338.3 281.0,338.3 C288.6,338.3 299.2,338.0 306.2,337.1 C313.2,336.2 318.8,334.8 323.0,332.9 C327.2,330.9 327.2,328.5 331.4,325.4 C335.6,322.3 342.7,319.6 348.3,314.4 C353.9,309.2 359.0,301.2 365.1,294.2 C371.2,287.2 377.5,276.9 385.0,272.3 C392.5,267.7 401.4,264.3 410.0,266.3 C418.6,268.3 428.8,278.2 436.7,284.4 C444.6,290.6 451.3,298.1 457.3,303.4 C463.3,308.7 468.3,314.6 472.9,316.3 C477.5,318.0 479.4,317.6 484.9,313.7 C490.3,309.8 497.3,298.8 505.6,293.0 C513.9,287.2 527.7,281.2 534.9,279.2 C542.1,277.2 543.5,279.0 548.7,281.0 C553.9,283.0 560.6,287.6 565.9,291.3 C571.2,295.0 578.1,301.4 580.5,303.4 L580.5,376.0 Z" fill="#ffc0c0"/>
<path d="M202.2,376.0 L202.2,326.2 C206.9,326.0 220.2,325.3 230.5,324.9 C240.8,324.5 252.9,324.2 264.1,324.0 C275.3,323.8 286.6,323.6 297.8,323.7 C309.0,323.8 320.2,324.2 331.4,324.9 C342.6,325.6 356.2,327.3 365.1,327.9 C374.0,328.5 379.5,328.1 385.0,328.5 C390.5,328.9 392.2,329.6 398.0,330.0 C403.8,330.4 413.0,330.5 420.0,330.6 C427.0,330.7 431.5,331.3 440.0,330.8 C448.5,330.3 460.2,329.1 471.1,327.5 C482.0,325.9 495.6,323.2 505.6,321.0 C515.6,318.8 525.1,315.6 531.4,314.0 C537.7,312.4 539.2,311.2 543.5,311.1 C547.8,311.1 552.0,311.6 557.3,313.7 C562.6,315.8 572.4,322.3 575.4,324.0 L575.4,376.0 Z" fill="#c0c0ff"/>
<path d="M202.2,376.0 L202.2,314.4 C205.5,316.2 216.5,322.3 222.1,325.4 C227.7,328.5 229.1,330.0 235.5,332.9 C241.9,335.8 253.2,339.9 260.8,343.0 C268.4,346.1 273.4,349.0 281.0,351.4 C288.6,353.8 297.8,356.7 306.2,357.3 C314.6,357.9 324.4,356.1 331.4,354.8 C338.4,353.6 342.7,351.8 348.3,349.8 C353.9,347.8 359.0,345.6 365.1,343.0 C371.2,340.4 379.5,336.2 385.0,334.0 C390.5,331.8 392.2,331.2 398.0,330.0 C403.8,328.8 413.0,327.2 420.0,326.5 C427.0,325.8 433.3,326.3 440.0,325.6 C446.7,324.9 453.6,323.9 460.0,322.5 C466.4,321.1 473.8,319.4 478.5,317.5 C483.2,315.6 483.9,315.6 488.4,311.0 C492.9,306.4 500.4,298.6 505.6,289.6 C510.8,280.6 515.1,266.9 519.4,256.8 C523.7,246.8 526.5,236.9 531.4,229.3 C536.3,221.7 543.5,212.9 548.7,211.2 C553.9,209.5 558.4,215.7 562.4,219.0 C566.4,222.3 571.1,229.0 572.8,231.0 L572.8,376.0 Z" fill="#ba9494" clip-path="url(#cA1LR)"/>
<path d="M202.2,376.0 L202.2,314.4 C205.5,316.2 216.5,322.3 222.1,325.4 C227.7,328.5 229.1,330.0 235.5,332.9 C241.9,335.8 253.2,339.9 260.8,343.0 C268.4,346.1 273.4,349.0 281.0,351.4 C288.6,353.8 297.8,356.7 306.2,357.3 C314.6,357.9 324.4,356.1 331.4,354.8 C338.4,353.6 342.7,351.8 348.3,349.8 C353.9,347.8 359.0,345.6 365.1,343.0 C371.2,340.4 379.5,336.2 385.0,334.0 C390.5,331.8 392.2,331.2 398.0,330.0 C403.8,328.8 413.0,327.2 420.0,326.5 C427.0,325.8 433.3,326.3 440.0,325.6 C446.7,324.9 453.6,323.9 460.0,322.5 C466.4,321.1 473.8,319.4 478.5,317.5 C483.2,315.6 483.9,315.6 488.4,311.0 C492.9,306.4 500.4,298.6 505.6,289.6 C510.8,280.6 515.1,266.9 519.4,256.8 C523.7,246.8 526.5,236.9 531.4,229.3 C536.3,221.7 543.5,212.9 548.7,211.2 C553.9,209.5 558.4,215.7 562.4,219.0 C566.4,222.3 571.1,229.0 572.8,231.0 L572.8,376.0 Z" fill="#9292ba" clip-path="url(#cA1LB)"/>
<path d="M202.2,376.0 L202.2,330.4 C206.9,331.1 220.7,333.5 230.5,334.6 C240.3,335.7 252.4,336.5 260.8,337.1 C269.2,337.7 273.4,338.3 281.0,338.3 C288.6,338.3 299.2,338.0 306.2,337.1 C313.2,336.2 318.8,334.8 323.0,332.9 C327.2,330.9 327.2,328.5 331.4,325.4 C335.6,322.3 342.7,319.6 348.3,314.4 C353.9,309.2 359.0,301.2 365.1,294.2 C371.2,287.2 377.5,276.9 385.0,272.3 C392.5,267.7 401.4,264.3 410.0,266.3 C418.6,268.3 428.8,278.2 436.7,284.4 C444.6,290.6 451.3,298.1 457.3,303.4 C463.3,308.7 468.3,314.6 472.9,316.3 C477.5,318.0 479.4,317.6 484.9,313.7 C490.3,309.8 497.3,298.8 505.6,293.0 C513.9,287.2 527.7,281.2 534.9,279.2 C542.1,277.2 543.5,279.0 548.7,281.0 C553.9,283.0 560.6,287.6 565.9,291.3 C571.2,295.0 578.1,301.4 580.5,303.4 L580.5,376.0 Z" fill="#ba9bcd" clip-path="url(#cA1LB)"/>
<g clip-path="url(#cA1LR)"><path d="M202.2,376.0 L202.2,314.4 C205.5,316.2 216.5,322.3 222.1,325.4 C227.7,328.5 229.1,330.0 235.5,332.9 C241.9,335.8 253.2,339.9 260.8,343.0 C268.4,346.1 273.4,349.0 281.0,351.4 C288.6,353.8 297.8,356.7 306.2,357.3 C314.6,357.9 324.4,356.1 331.4,354.8 C338.4,353.6 342.7,351.8 348.3,349.8 C353.9,347.8 359.0,345.6 365.1,343.0 C371.2,340.4 379.5,336.2 385.0,334.0 C390.5,331.8 392.2,331.2 398.0,330.0 C403.8,328.8 413.0,327.2 420.0,326.5 C427.0,325.8 433.3,326.3 440.0,325.6 C446.7,324.9 453.6,323.9 460.0,322.5 C466.4,321.1 473.8,319.4 478.5,317.5 C483.2,315.6 483.9,315.6 488.4,311.0 C492.9,306.4 500.4,298.6 505.6,289.6 C510.8,280.6 515.1,266.9 519.4,256.8 C523.7,246.8 526.5,236.9 531.4,229.3 C536.3,221.7 543.5,212.9 548.7,211.2 C553.9,209.5 558.4,215.7 562.4,219.0 C566.4,222.3 571.1,229.0 572.8,231.0 L572.8,376.0 Z" fill="#8a7798" clip-path="url(#cA1LB)"/></g>
<line x1="261.4" y1="116.7" x2="261.4" y2="377.0" stroke="#000" stroke-width="4.3" stroke-linecap="round" stroke-dasharray="0 8.36"/>
<text transform="translate(261.4,101.5) scale(1,1.080)" font-size="19.0" text-anchor="middle">BCG</text>
<line x1="352.0" y1="116.7" x2="352.0" y2="377.0" stroke="#000" stroke-width="4.3" stroke-linecap="round" stroke-dasharray="0 8.36"/>
<text transform="translate(352.0,101.5) scale(1,1.080)" font-size="19.0" text-anchor="middle">V1</text>
<line x1="385.8" y1="116.7" x2="385.8" y2="377.0" stroke="#000" stroke-width="4.3" stroke-linecap="round" stroke-dasharray="0 8.36"/>
<text transform="translate(385.8,101.5) scale(1,1.080)" font-size="19.0" text-anchor="middle">V2</text>
<line x1="437.1" y1="116.7" x2="437.1" y2="377.0" stroke="#000" stroke-width="4.3" stroke-linecap="round" stroke-dasharray="0 8.36"/>
<text transform="translate(437.1,101.5) scale(1,1.080)" font-size="19.0" text-anchor="middle">Mtb</text>
<path d="M201.9,267.6l2.9,5.6h-5.8z" fill="#000000"/>
<path d="M201.9,316.4l2.9,5.6h-5.8z" fill="#000000"/>
<path d="M201.9,326.5l2.9,5.6h-5.8z" fill="#000000"/>
<path d="M201.9,329.8l2.9,5.6h-5.8z" fill="#000000"/>
<path d="M201.9,350.9l2.9,5.6h-5.8z" fill="#000000"/>
<path d="M252.4,255.8l2.9,5.6h-5.8z" fill="#000000"/>
<path d="M252.4,281.9l2.9,5.6h-5.8z" fill="#000000"/>
<path d="M252.4,320.6l2.9,5.6h-5.8z" fill="#000000"/>
<path d="M252.4,333.2l2.9,5.6h-5.8z" fill="#000000"/>
<path d="M252.4,348.3l2.9,5.6h-5.8z" fill="#000000"/>
<path d="M252.4,360.1l2.9,5.6h-5.8z" fill="#000000"/>
<path d="M277.3,355.1l2.9,5.6h-5.8z" fill="#000000"/>
<path d="M294.1,354.6l2.9,5.6h-5.8z" fill="#000000"/>
<path d="M327.4,358.1l2.9,5.6h-5.8z" fill="#000000"/>
<path d="M201.9,284.4l2.9,5.6h-5.8z" fill="#0000ff"/>
<path d="M201.9,305.4l2.9,5.6h-5.8z" fill="#0000ff"/>
<path d="M201.9,310.5l2.9,5.6h-5.8z" fill="#0000ff"/>
<path d="M201.9,336.6l2.9,5.6h-5.8z" fill="#0000ff"/>
<path d="M201.9,352.5l2.9,5.6h-5.8z" fill="#0000ff"/>
<path d="M252.4,308.8l2.9,5.6h-5.8z" fill="#0000ff"/>
<path d="M252.4,334.9l2.9,5.6h-5.8z" fill="#0000ff"/>
<path d="M252.4,355.9l2.9,5.6h-5.8z" fill="#0000ff"/>
<path d="M277.3,306.6l2.9,5.6h-5.8z" fill="#0000ff"/>
<path d="M277.3,309.6l2.9,5.6h-5.8z" fill="#0000ff"/>
<path d="M277.3,329.0l2.9,5.6h-5.8z" fill="#0000ff"/>
<path d="M277.3,349.7l2.9,5.6h-5.8z" fill="#0000ff"/>
<path d="M294.1,302.6l2.9,5.6h-5.8z" fill="#0000ff"/>
<path d="M294.1,307.6l2.9,5.6h-5.8z" fill="#0000ff"/>
<path d="M294.1,317.5l2.9,5.6h-5.8z" fill="#0000ff"/>
<path d="M294.1,337.4l2.9,5.6h-5.8z" fill="#0000ff"/>
<path d="M294.1,350.5l2.9,5.6h-5.8z" fill="#0000ff"/>
<path d="M310.6,296.2l2.9,5.6h-5.8z" fill="#0000ff"/>
<path d="M310.6,305.8l2.9,5.6h-5.8z" fill="#0000ff"/>
<path d="M310.6,316.4l2.9,5.6h-5.8z" fill="#0000ff"/>
<path d="M310.6,334.0l2.9,5.6h-5.8z" fill="#0000ff"/>
<path d="M310.6,352.0l2.9,5.6h-5.8z" fill="#0000ff"/>
<path d="M327.4,248.7l2.9,5.6h-5.8z" fill="#0000ff"/>
<path d="M327.4,305.4l2.9,5.6h-5.8z" fill="#0000ff"/>
<path d="M327.4,330.7l2.9,5.6h-5.8z" fill="#0000ff"/>
<path d="M327.4,340.8l2.9,5.6h-5.8z" fill="#0000ff"/>
<path d="M342.5,269.8l2.9,5.6h-5.8z" fill="#0000ff"/>
<path d="M342.5,308.8l2.9,5.6h-5.8z" fill="#0000ff"/>
<path d="M342.5,315.0l2.9,5.6h-5.8z" fill="#0000ff"/>
<path d="M342.5,355.6l2.9,5.6h-5.8z" fill="#0000ff"/>
<path d="M342.5,368.5l2.9,5.6h-5.8z" fill="#0000ff"/>
<path d="M360.7,277.7l2.9,5.6h-5.8z" fill="#0000ff"/>
<path d="M360.7,302.1l2.9,5.6h-5.8z" fill="#0000ff"/>
<path d="M360.7,311.3l2.9,5.6h-5.8z" fill="#0000ff"/>
<path d="M360.7,313.3l2.9,5.6h-5.8z" fill="#0000ff"/>
<path d="M360.7,332.9l2.9,5.6h-5.8z" fill="#0000ff"/>
<path d="M360.7,352.5l2.9,5.6h-5.8z" fill="#0000ff"/>
<path d="M377.5,301.7l2.9,5.6h-5.8z" fill="#0000ff"/>
<path d="M377.5,311.0l2.9,5.6h-5.8z" fill="#0000ff"/>
<path d="M377.5,320.9l2.9,5.6h-5.8z" fill="#0000ff"/>
<path d="M377.5,344.1l2.9,5.6h-5.8z" fill="#0000ff"/>
<path d="M377.5,361.8l2.9,5.6h-5.8z" fill="#0000ff"/>
<path d="M196.3,324.8l2.9,5.6h-5.8z" fill="#ff0000"/>
<path d="M207.8,326.5l2.9,5.6h-5.8z" fill="#ff0000"/>
<path d="M201.9,334.5l2.9,5.6h-5.8z" fill="#ff0000"/>
<path d="M201.9,357.6l2.9,5.6h-5.8z" fill="#ff0000"/>
<path d="M246.5,317.7l2.9,5.6h-5.8z" fill="#ff0000"/>
<path d="M257.7,316.7l2.9,5.6h-5.8z" fill="#ff0000"/>
<path d="M252.4,326.5l2.9,5.6h-5.8z" fill="#ff0000"/>
<path d="M252.4,341.3l2.9,5.6h-5.8z" fill="#ff0000"/>
<path d="M252.4,347.5l2.9,5.6h-5.8z" fill="#ff0000"/>
<path d="M266.2,327.3l2.9,5.6h-5.8z" fill="#ff0000"/>
<path d="M277.3,319.7l2.9,5.6h-5.8z" fill="#ff0000"/>
<path d="M277.3,330.2l2.9,5.6h-5.8z" fill="#ff0000"/>
<path d="M288.5,323.4l2.9,5.6h-5.8z" fill="#ff0000"/>
<path d="M288.5,330.2l2.9,5.6h-5.8z" fill="#ff0000"/>
<path d="M294.1,299.9l2.9,5.6h-5.8z" fill="#ff0000"/>
<path d="M294.1,310.5l2.9,5.6h-5.8z" fill="#ff0000"/>
<path d="M299.5,328.1l2.9,5.6h-5.8z" fill="#ff0000"/>
<path d="M305.0,327.3l2.9,5.6h-5.8z" fill="#ff0000"/>
<path d="M310.6,276.5l2.9,5.6h-5.8z" fill="#ff0000"/>
<path d="M310.6,304.1l2.9,5.6h-5.8z" fill="#ff0000"/>
<path d="M310.6,337.7l2.9,5.6h-5.8z" fill="#ff0000"/>
<path d="M316.3,324.4l2.9,5.6h-5.8z" fill="#ff0000"/>
<path d="M321.8,316.0l2.9,5.6h-5.8z" fill="#ff0000"/>
<path d="M321.8,339.1l2.9,5.6h-5.8z" fill="#ff0000"/>
<path d="M327.4,326.1l2.9,5.6h-5.8z" fill="#ff0000"/>
<path d="M333.1,311.7l2.9,5.6h-5.8z" fill="#ff0000"/>
<path d="M333.1,339.9l2.9,5.6h-5.8z" fill="#ff0000"/>
<path d="M337.3,316.4l2.9,5.6h-5.8z" fill="#ff0000"/>
<path d="M337.3,335.2l2.9,5.6h-5.8z" fill="#ff0000"/>
<path d="M348.3,312.2l2.9,5.6h-5.8z" fill="#ff0000"/>
<path d="M348.3,334.5l2.9,5.6h-5.8z" fill="#ff0000"/>
<path d="M342.5,358.4l2.9,5.6h-5.8z" fill="#ff0000"/>
<path d="M342.5,366.8l2.9,5.6h-5.8z" fill="#ff0000"/>
<path d="M360.7,279.0l2.9,5.6h-5.8z" fill="#ff0000"/>
<path d="M360.7,310.5l2.9,5.6h-5.8z" fill="#ff0000"/>
<path d="M360.7,321.1l2.9,5.6h-5.8z" fill="#ff0000"/>
<path d="M360.7,337.4l2.9,5.6h-5.8z" fill="#ff0000"/>
<path d="M360.7,343.3l2.9,5.6h-5.8z" fill="#ff0000"/>
<path d="M377.5,201.1l2.9,5.6h-5.8z" fill="#ff0000"/>
<path d="M377.5,255.8l2.9,5.6h-5.8z" fill="#ff0000"/>
<path d="M377.5,263.4l2.9,5.6h-5.8z" fill="#ff0000"/>
<path d="M377.5,295.8l2.9,5.6h-5.8z" fill="#ff0000"/>
<path d="M377.5,325.6l2.9,5.6h-5.8z" fill="#ff0000"/>
<path d="M394.5,132.6l2.9,5.6h-5.8z" fill="#ff0000"/>
<path d="M412.2,137.5l2.9,5.6h-5.8z" fill="#ff0000"/>
<path d="M412.2,144.4l2.9,5.6h-5.8z" fill="#ff0000"/>
<path d="M537.5,118.9l2.9,5.6h-5.8z" fill="#000000"/>
<path d="M537.5,139.5l2.9,5.6h-5.8z" fill="#000000"/>
<path d="M518.5,144.7l2.9,5.6h-5.8z" fill="#000000"/>
<path d="M569.8,144.4l2.9,5.6h-5.8z" fill="#000000"/>
<path d="M554.3,176.9l2.9,5.6h-5.8z" fill="#000000"/>
<path d="M501.6,205.3l2.9,5.6h-5.8z" fill="#000000"/>
<path d="M395.3,251.6l2.9,5.6h-5.8z" fill="#000000"/>
<path d="M395.3,330.8l2.9,5.6h-5.8z" fill="#000000"/>
<path d="M395.3,334.6l2.9,5.6h-5.8z" fill="#000000"/>
<path d="M395.3,338.4l2.9,5.6h-5.8z" fill="#000000"/>
<path d="M395.3,349.8l2.9,5.6h-5.8z" fill="#000000"/>
<path d="M395.3,356.1l2.9,5.6h-5.8z" fill="#000000"/>
<path d="M410.0,275.7l2.9,5.6h-5.8z" fill="#000000"/>
<path d="M410.0,338.9l2.9,5.6h-5.8z" fill="#000000"/>
<path d="M410.0,343.2l2.9,5.6h-5.8z" fill="#000000"/>
<path d="M410.0,352.7l2.9,5.6h-5.8z" fill="#000000"/>
<path d="M410.0,357.9l2.9,5.6h-5.8z" fill="#000000"/>
<path d="M426.3,253.6l2.9,5.6h-5.8z" fill="#000000"/>
<path d="M426.3,331.2l2.9,5.6h-5.8z" fill="#000000"/>
<path d="M426.3,340.6l2.9,5.6h-5.8z" fill="#000000"/>
<path d="M426.3,349.3l2.9,5.6h-5.8z" fill="#000000"/>
<path d="M426.3,353.6l2.9,5.6h-5.8z" fill="#000000"/>
<path d="M426.3,358.7l2.9,5.6h-5.8z" fill="#000000"/>
<path d="M452.2,282.1l2.9,5.6h-5.8z" fill="#000000"/>
<path d="M452.2,291.2l2.9,5.6h-5.8z" fill="#000000"/>
<path d="M452.2,310.2l2.9,5.6h-5.8z" fill="#000000"/>
<path d="M452.2,353.2l2.9,5.6h-5.8z" fill="#000000"/>
<path d="M468.5,258.0l2.9,5.6h-5.8z" fill="#000000"/>
<path d="M468.5,272.1l2.9,5.6h-5.8z" fill="#000000"/>
<path d="M468.5,298.4l2.9,5.6h-5.8z" fill="#000000"/>
<path d="M468.5,306.5l2.9,5.6h-5.8z" fill="#000000"/>
<path d="M468.5,345.3l2.9,5.6h-5.8z" fill="#000000"/>
<path d="M468.5,356.7l2.9,5.6h-5.8z" fill="#000000"/>
<path d="M484.9,267.8l2.9,5.6h-5.8z" fill="#000000"/>
<path d="M484.9,280.0l2.9,5.6h-5.8z" fill="#000000"/>
<path d="M484.9,292.4l2.9,5.6h-5.8z" fill="#000000"/>
<path d="M484.9,317.4l2.9,5.6h-5.8z" fill="#000000"/>
<path d="M484.9,346.3l2.9,5.6h-5.8z" fill="#000000"/>
<path d="M484.9,361.8l2.9,5.6h-5.8z" fill="#000000"/>
<path d="M502.1,279.1l2.9,5.6h-5.8z" fill="#000000"/>
<path d="M502.1,292.1l2.9,5.6h-5.8z" fill="#000000"/>
<path d="M502.1,337.2l2.9,5.6h-5.8z" fill="#000000"/>
<path d="M502.1,354.9l2.9,5.6h-5.8z" fill="#000000"/>
<path d="M519.4,267.4l2.9,5.6h-5.8z" fill="#000000"/>
<path d="M519.4,289.8l2.9,5.6h-5.8z" fill="#000000"/>
<path d="M519.4,295.3l2.9,5.6h-5.8z" fill="#000000"/>
<path d="M519.4,351.0l2.9,5.6h-5.8z" fill="#000000"/>
<path d="M534.0,244.2l2.9,5.6h-5.8z" fill="#000000"/>
<path d="M534.0,256.6l2.9,5.6h-5.8z" fill="#000000"/>
<path d="M534.0,270.9l2.9,5.6h-5.8z" fill="#000000"/>
<path d="M554.3,294.6l2.9,5.6h-5.8z" fill="#000000"/>
<path d="M571.0,236.8l2.9,5.6h-5.8z" fill="#000000"/>
<path d="M571.0,246.8l2.9,5.6h-5.8z" fill="#000000"/>
<path d="M575.9,264.8l2.9,5.6h-5.8z" fill="#000000"/>
<path d="M395.3,256.7l2.9,5.6h-5.8z" fill="#ff0000"/>
<path d="M395.3,316.5l2.9,5.6h-5.8z" fill="#ff0000"/>
<path d="M388.8,305.3l2.9,5.6h-5.8z" fill="#ff0000"/>
<path d="M400.2,309.6l2.9,5.6h-5.8z" fill="#ff0000"/>
<path d="M410.0,248.5l2.9,5.6h-5.8z" fill="#ff0000"/>
<path d="M410.0,299.3l2.9,5.6h-5.8z" fill="#ff0000"/>
<path d="M410.0,311.9l2.9,5.6h-5.8z" fill="#ff0000"/>
<path d="M406.5,299.3l2.9,5.6h-5.8z" fill="#ff0000"/>
<path d="M417.7,294.6l2.9,5.6h-5.8z" fill="#ff0000"/>
<path d="M426.3,277.8l2.9,5.6h-5.8z" fill="#ff0000"/>
<path d="M426.3,307.6l2.9,5.6h-5.8z" fill="#ff0000"/>
<path d="M428.9,244.7l2.9,5.6h-5.8z" fill="#ff0000"/>
<path d="M428.9,255.4l2.9,5.6h-5.8z" fill="#ff0000"/>
<path d="M423.2,318.6l2.9,5.6h-5.8z" fill="#ff0000"/>
<path d="M435.0,313.9l2.9,5.6h-5.8z" fill="#ff0000"/>
<path d="M452.2,266.6l2.9,5.6h-5.8z" fill="#ff0000"/>
<path d="M452.2,282.4l2.9,5.6h-5.8z" fill="#ff0000"/>
<path d="M452.2,287.2l2.9,5.6h-5.8z" fill="#ff0000"/>
<path d="M452.2,315.7l2.9,5.6h-5.8z" fill="#ff0000"/>
<path d="M452.2,320.8l2.9,5.6h-5.8z" fill="#ff0000"/>
<path d="M468.5,286.4l2.9,5.6h-5.8z" fill="#ff0000"/>
<path d="M468.5,303.1l2.9,5.6h-5.8z" fill="#ff0000"/>
<path d="M468.5,315.7l2.9,5.6h-5.8z" fill="#ff0000"/>
<path d="M468.5,319.5l2.9,5.6h-5.8z" fill="#ff0000"/>
<path d="M468.5,336.0l2.9,5.6h-5.8z" fill="#ff0000"/>
<path d="M476.3,318.2l2.9,5.6h-5.8z" fill="#ff0000"/>
<path d="M484.9,269.2l2.9,5.6h-5.8z" fill="#ff0000"/>
<path d="M484.9,284.3l2.9,5.6h-5.8z" fill="#ff0000"/>
<path d="M484.9,286.4l2.9,5.6h-5.8z" fill="#ff0000"/>
<path d="M484.9,323.9l2.9,5.6h-5.8z" fill="#ff0000"/>
<path d="M484.9,337.2l2.9,5.6h-5.8z" fill="#ff0000"/>
<path d="M502.1,249.7l2.9,5.6h-5.8z" fill="#ff0000"/>
<path d="M502.1,258.3l2.9,5.6h-5.8z" fill="#ff0000"/>
<path d="M502.1,284.7l2.9,5.6h-5.8z" fill="#ff0000"/>
<path d="M502.1,319.1l2.9,5.6h-5.8z" fill="#ff0000"/>
<path d="M502.1,331.5l2.9,5.6h-5.8z" fill="#ff0000"/>
<path d="M513.3,265.7l2.9,5.6h-5.8z" fill="#ff0000"/>
<path d="M519.4,243.0l2.9,5.6h-5.8z" fill="#ff0000"/>
<path d="M519.4,251.6l2.9,5.6h-5.8z" fill="#ff0000"/>
<path d="M534.0,277.2l2.9,5.6h-5.8z" fill="#ff0000"/>
<path d="M534.0,295.5l2.9,5.6h-5.8z" fill="#ff0000"/>
<path d="M534.0,323.4l2.9,5.6h-5.8z" fill="#ff0000"/>
<path d="M530.6,237.6l2.9,5.6h-5.8z" fill="#ff0000"/>
<path d="M541.8,242.5l2.9,5.6h-5.8z" fill="#ff0000"/>
<path d="M554.3,244.2l2.9,5.6h-5.8z" fill="#ff0000"/>
<path d="M554.3,260.2l2.9,5.6h-5.8z" fill="#ff0000"/>
<path d="M554.3,320.5l2.9,5.6h-5.8z" fill="#ff0000"/>
<path d="M554.3,337.7l2.9,5.6h-5.8z" fill="#ff0000"/>
<path d="M571.0,286.4l2.9,5.6h-5.8z" fill="#ff0000"/>
<path d="M571.0,304.1l2.9,5.6h-5.8z" fill="#ff0000"/>
<path d="M571.0,330.3l2.9,5.6h-5.8z" fill="#ff0000"/>
<path d="M577.9,265.7l2.9,5.6h-5.8z" fill="#ff0000"/>
<path d="M580.5,287.2l2.9,5.6h-5.8z" fill="#ff0000"/>
<path d="M580.5,313.9l2.9,5.6h-5.8z" fill="#ff0000"/>
<path d="M580.5,327.7l2.9,5.6h-5.8z" fill="#ff0000"/>
<path d="M395.3,311.4l2.9,5.6h-5.8z" fill="#0000ff"/>
<path d="M395.3,335.5l2.9,5.6h-5.8z" fill="#0000ff"/>
<path d="M395.3,344.1l2.9,5.6h-5.8z" fill="#0000ff"/>
<path d="M395.3,357.9l2.9,5.6h-5.8z" fill="#0000ff"/>
<path d="M410.0,311.4l2.9,5.6h-5.8z" fill="#0000ff"/>
<path d="M410.0,320.5l2.9,5.6h-5.8z" fill="#0000ff"/>
<path d="M410.0,335.5l2.9,5.6h-5.8z" fill="#0000ff"/>
<path d="M410.0,352.7l2.9,5.6h-5.8z" fill="#0000ff"/>
<path d="M410.0,359.6l2.9,5.6h-5.8z" fill="#0000ff"/>
<path d="M426.3,314.8l2.9,5.6h-5.8z" fill="#0000ff"/>
<path d="M426.3,319.1l2.9,5.6h-5.8z" fill="#0000ff"/>
<path d="M426.3,323.4l2.9,5.6h-5.8z" fill="#0000ff"/>
<path d="M426.3,339.8l2.9,5.6h-5.8z" fill="#0000ff"/>
<path d="M426.3,344.6l2.9,5.6h-5.8z" fill="#0000ff"/>
<path d="M426.3,362.2l2.9,5.6h-5.8z" fill="#0000ff"/>
<path d="M452.2,297.2l2.9,5.6h-5.8z" fill="#0000ff"/>
<path d="M452.2,303.9l2.9,5.6h-5.8z" fill="#0000ff"/>
<path d="M452.2,314.8l2.9,5.6h-5.8z" fill="#0000ff"/>
<path d="M452.2,330.5l2.9,5.6h-5.8z" fill="#0000ff"/>
<path d="M452.2,353.2l2.9,5.6h-5.8z" fill="#0000ff"/>
<path d="M468.5,305.3l2.9,5.6h-5.8z" fill="#0000ff"/>
<path d="M468.5,319.5l2.9,5.6h-5.8z" fill="#0000ff"/>
<path d="M468.5,325.1l2.9,5.6h-5.8z" fill="#0000ff"/>
<path d="M468.5,328.6l2.9,5.6h-5.8z" fill="#0000ff"/>
<path d="M468.5,333.8l2.9,5.6h-5.8z" fill="#0000ff"/>
<path d="M468.5,351.0l2.9,5.6h-5.8z" fill="#0000ff"/>
<path d="M484.9,272.6l2.9,5.6h-5.8z" fill="#0000ff"/>
<path d="M484.9,311.4l2.9,5.6h-5.8z" fill="#0000ff"/>
<path d="M484.9,317.4l2.9,5.6h-5.8z" fill="#0000ff"/>
<path d="M484.9,321.7l2.9,5.6h-5.8z" fill="#0000ff"/>
<path d="M484.9,328.6l2.9,5.6h-5.8z" fill="#0000ff"/>
<path d="M484.9,348.4l2.9,5.6h-5.8z" fill="#0000ff"/>
<path d="M502.1,286.4l2.9,5.6h-5.8z" fill="#0000ff"/>
<path d="M502.1,291.2l2.9,5.6h-5.8z" fill="#0000ff"/>
<path d="M502.1,310.5l2.9,5.6h-5.8z" fill="#0000ff"/>
<path d="M502.1,315.3l2.9,5.6h-5.8z" fill="#0000ff"/>
<path d="M502.1,339.8l2.9,5.6h-5.8z" fill="#0000ff"/>
<path d="M502.1,350.6l2.9,5.6h-5.8z" fill="#0000ff"/>
<path d="M519.4,266.1l2.9,5.6h-5.8z" fill="#0000ff"/>
<path d="M519.4,289.8l2.9,5.6h-5.8z" fill="#0000ff"/>
<path d="M519.4,292.1l2.9,5.6h-5.8z" fill="#0000ff"/>
<path d="M519.4,313.4l2.9,5.6h-5.8z" fill="#0000ff"/>
<path d="M519.4,327.2l2.9,5.6h-5.8z" fill="#0000ff"/>
<path d="M519.4,344.6l2.9,5.6h-5.8z" fill="#0000ff"/>
<path d="M534.0,253.3l2.9,5.6h-5.8z" fill="#0000ff"/>
<path d="M534.0,267.8l2.9,5.6h-5.8z" fill="#0000ff"/>
<path d="M534.0,314.3l2.9,5.6h-5.8z" fill="#0000ff"/>
<path d="M534.0,321.7l2.9,5.6h-5.8z" fill="#0000ff"/>
<path d="M534.0,344.6l2.9,5.6h-5.8z" fill="#0000ff"/>
<path d="M542.1,277.8l2.9,5.6h-5.8z" fill="#0000ff"/>
<path d="M544.9,294.1l2.9,5.6h-5.8z" fill="#0000ff"/>
<path d="M554.3,306.5l2.9,5.6h-5.8z" fill="#0000ff"/>
<path d="M554.3,316.5l2.9,5.6h-5.8z" fill="#0000ff"/>
<path d="M554.3,325.7l2.9,5.6h-5.8z" fill="#0000ff"/>
<path d="M554.3,348.4l2.9,5.6h-5.8z" fill="#0000ff"/>
<path d="M571.0,288.1l2.9,5.6h-5.8z" fill="#0000ff"/>
<path d="M571.0,314.8l2.9,5.6h-5.8z" fill="#0000ff"/>
<path d="M571.0,323.9l2.9,5.6h-5.8z" fill="#0000ff"/>
<path d="M580.5,311.4l2.9,5.6h-5.8z" fill="#0000ff"/>
<path d="M580.5,329.4l2.9,5.6h-5.8z" fill="#0000ff"/>
<g stroke="#000" stroke-width="2.7" fill="none">
<path d="M165.2,377.0H596.3"/>
<path d="M177.2,377.0V388.5"/>
<path d="M219.0,377.0V388.5"/>
<path d="M260.8,377.0V388.5"/>
<path d="M302.5,377.0V388.5"/>
<path d="M344.3,377.0V388.5"/>
<path d="M386.1,377.0V388.5"/>
<path d="M427.9,377.0V388.5"/>
<path d="M469.7,377.0V388.5"/>
<path d="M511.4,377.0V388.5"/>
<path d="M553.2,377.0V388.5"/>
<path d="M595.0,377.0V388.5"/>
<path d="M177.2,377.0V174.4"/>
<path d="M165.2,326.4H177.2"/>
<path d="M165.2,275.7H177.2"/>
<path d="M165.2,225.1H177.2"/>
<path d="M169.2,174.4H185.2"/>
<path d="M177.2,150.5V98.0"/>
<path d="M169.2,150.5H185.2"/>
<path d="M162.2,124.9H177.2"/>
<path d="M162.2,99.3H177.2"/>
</g>
<text transform="translate(160.7,385.2) scale(1,1.090)" font-size="21.0" text-anchor="end" font-weight="bold">0.0</text>
<text transform="translate(160.7,334.5) scale(1,1.090)" font-size="21.0" text-anchor="end" font-weight="bold">0.1</text>
<text transform="translate(160.7,283.9) scale(1,1.090)" font-size="21.0" text-anchor="end" font-weight="bold">0.2</text>
<text transform="translate(160.7,233.2) scale(1,1.090)" font-size="21.0" text-anchor="end" font-weight="bold">0.3</text>
<text transform="translate(160.7,182.6) scale(1,1.090)" font-size="21.0" text-anchor="end" font-weight="bold">0.4</text>
<text transform="translate(157.7,158.7) scale(1,1.090)" font-size="21.0" text-anchor="end" font-weight="bold">0.4</text>
<text transform="translate(157.7,133.1) scale(1,1.090)" font-size="21.0" text-anchor="end" font-weight="bold">0.6</text>
<text transform="translate(157.7,107.5) scale(1,1.090)" font-size="21.0" text-anchor="end" font-weight="bold">0.8</text>
<text transform="translate(177.2,412.8) scale(1,1.090)" font-size="21.0" text-anchor="middle" font-weight="bold">-10</text>
<text transform="translate(219.0,412.8) scale(1,1.090)" font-size="21.0" text-anchor="middle" font-weight="bold">-5</text>
<text transform="translate(260.8,412.8) scale(1,1.090)" font-size="21.0" text-anchor="middle" font-weight="bold">0</text>
<text transform="translate(302.5,412.8) scale(1,1.090)" font-size="21.0" text-anchor="middle" font-weight="bold">5</text>
<text transform="translate(344.3,412.8) scale(1,1.090)" font-size="21.0" text-anchor="middle" font-weight="bold">10</text>
<text transform="translate(386.1,412.8) scale(1,1.090)" font-size="21.0" text-anchor="middle" font-weight="bold">15</text>
<text transform="translate(427.9,412.8) scale(1,1.090)" font-size="21.0" text-anchor="middle" font-weight="bold">20</text>
<text transform="translate(469.7,412.8) scale(1,1.090)" font-size="21.0" text-anchor="middle" font-weight="bold">25</text>
<text transform="translate(511.4,412.8) scale(1,1.090)" font-size="21.0" text-anchor="middle" font-weight="bold">30</text>
<text transform="translate(553.2,412.8) scale(1,1.090)" font-size="21.0" text-anchor="middle" font-weight="bold">35</text>
<text transform="translate(595.0,412.8) scale(1,1.090)" font-size="21.0" text-anchor="middle" font-weight="bold">40</text>
<text transform="translate(117.2,238.9) rotate(-90) scale(1,1.035)" font-size="22.6" font-weight="bold" text-anchor="middle">Absorbance (450nm)</text>
<path d="M826.9,375.2 L826.9,343.2 C833.6,344.1 852.1,346.3 867.3,348.3 C882.4,350.3 898.2,353.6 917.8,355.0 C937.4,356.4 965.5,356.7 985.1,356.7 C1004.7,356.7 1021.6,356.4 1035.6,355.0 C1049.6,353.6 1058.1,351.4 1069.3,348.3 C1080.5,345.2 1094.5,338.6 1102.9,336.5 C1111.3,334.4 1114.2,334.6 1119.8,335.5 C1125.4,336.4 1131.0,338.9 1136.6,341.6 C1142.2,344.3 1149.2,348.9 1153.4,351.7 C1157.6,354.5 1160.4,357.3 1161.8,358.4 L1161.8,375.2 Z" fill="#bfbfbf"/>
<path d="M826.9,375.2 L826.9,356.0 C836.4,357.2 869.0,362.6 884.1,363.0 C899.2,363.4 909.4,361.4 917.8,358.4 C926.2,355.4 929.0,349.9 934.6,344.9 C940.2,339.8 944.8,337.1 951.5,328.1 C958.2,319.1 967.7,304.6 975.0,291.1 C982.3,277.6 988.5,260.2 995.2,247.3 C1001.9,234.4 1008.9,221.7 1015.4,213.7 C1021.9,205.7 1028.3,200.1 1033.9,199.5 C1039.5,198.9 1044.3,204.0 1049.1,210.3 C1053.9,216.6 1058.0,225.4 1062.5,237.2 C1067.0,249.0 1071.5,268.1 1076.0,281.0 C1080.5,293.9 1085.0,305.9 1089.5,314.6 C1094.0,323.3 1097.9,329.2 1102.9,333.1 C1108.0,337.0 1114.2,338.2 1119.8,338.2 C1125.4,338.2 1131.6,334.2 1136.6,333.1 C1141.6,332.0 1144.4,330.1 1150.0,331.5 C1155.6,332.9 1164.0,337.1 1170.2,341.6 C1176.4,346.1 1181.8,352.9 1187.1,358.4 C1192.4,363.9 1199.7,371.8 1202.2,374.5 L1202.2,375.2 Z" fill="#ffc0c0"/>
<path d="M826.9,375.2 L826.9,355.0 C836.4,353.9 866.1,350.0 884.1,348.3 C902.1,346.6 917.8,344.3 934.6,344.9 C951.4,345.5 968.3,350.3 985.1,351.7 C1001.9,353.1 1018.8,355.0 1035.6,353.3 C1052.4,351.6 1073.8,344.1 1086.1,341.6 C1098.4,339.1 1101.3,338.2 1109.7,338.2 C1118.1,338.2 1126.5,337.7 1136.6,341.6 C1146.7,345.5 1164.6,358.4 1170.2,361.8 L1170.2,375.2 Z" fill="#c0c0ff"/>
<path d="M826.9,375.2 L826.9,343.2 C833.6,344.1 852.1,346.3 867.3,348.3 C882.4,350.3 898.2,353.6 917.8,355.0 C937.4,356.4 965.5,356.7 985.1,356.7 C1004.7,356.7 1021.6,356.4 1035.6,355.0 C1049.6,353.6 1058.1,351.4 1069.3,348.3 C1080.5,345.2 1094.5,338.6 1102.9,336.5 C1111.3,334.4 1114.2,334.6 1119.8,335.5 C1125.4,336.4 1131.0,338.9 1136.6,341.6 C1142.2,344.3 1149.2,348.9 1153.4,351.7 C1157.6,354.5 1160.4,357.3 1161.8,358.4 L1161.8,375.2 Z" fill="#ba9494" clip-path="url(#cA1RR)"/>
<path d="M826.9,375.2 L826.9,343.2 C833.6,344.1 852.1,346.3 867.3,348.3 C882.4,350.3 898.2,353.6 917.8,355.0 C937.4,356.4 965.5,356.7 985.1,356.7 C1004.7,356.7 1021.6,356.4 1035.6,355.0 C1049.6,353.6 1058.1,351.4 1069.3,348.3 C1080.5,345.2 1094.5,338.6 1102.9,336.5 C1111.3,334.4 1114.2,334.6 1119.8,335.5 C1125.4,336.4 1131.0,338.9 1136.6,341.6 C1142.2,344.3 1149.2,348.9 1153.4,351.7 C1157.6,354.5 1160.4,357.3 1161.8,358.4 L1161.8,375.2 Z" fill="#9292ba" clip-path="url(#cA1RB)"/>
<path d="M826.9,375.2 L826.9,356.0 C836.4,357.2 869.0,362.6 884.1,363.0 C899.2,363.4 909.4,361.4 917.8,358.4 C926.2,355.4 929.0,349.9 934.6,344.9 C940.2,339.8 944.8,337.1 951.5,328.1 C958.2,319.1 967.7,304.6 975.0,291.1 C982.3,277.6 988.5,260.2 995.2,247.3 C1001.9,234.4 1008.9,221.7 1015.4,213.7 C1021.9,205.7 1028.3,200.1 1033.9,199.5 C1039.5,198.9 1044.3,204.0 1049.1,210.3 C1053.9,216.6 1058.0,225.4 1062.5,237.2 C1067.0,249.0 1071.5,268.1 1076.0,281.0 C1080.5,293.9 1085.0,305.9 1089.5,314.6 C1094.0,323.3 1097.9,329.2 1102.9,333.1 C1108.0,337.0 1114.2,338.2 1119.8,338.2 C1125.4,338.2 1131.6,334.2 1136.6,333.1 C1141.6,332.0 1144.4,330.1 1150.0,331.5 C1155.6,332.9 1164.0,337.1 1170.2,341.6 C1176.4,346.1 1181.8,352.9 1187.1,358.4 C1192.4,363.9 1199.7,371.8 1202.2,374.5 L1202.2,375.2 Z" fill="#ba9bcd" clip-path="url(#cA1RB)"/>
<g clip-path="url(#cA1RR)"><path d="M826.9,375.2 L826.9,343.2 C833.6,344.1 852.1,346.3 867.3,348.3 C882.4,350.3 898.2,353.6 917.8,355.0 C937.4,356.4 965.5,356.7 985.1,356.7 C1004.7,356.7 1021.6,356.4 1035.6,355.0 C1049.6,353.6 1058.1,351.4 1069.3,348.3 C1080.5,345.2 1094.5,338.6 1102.9,336.5 C1111.3,334.4 1114.2,334.6 1119.8,335.5 C1125.4,336.4 1131.0,338.9 1136.6,341.6 C1142.2,344.3 1149.2,348.9 1153.4,351.7 C1157.6,354.5 1160.4,357.3 1161.8,358.4 L1161.8,375.2 Z" fill="#8a7798" clip-path="url(#cA1RB)"/></g>
<line x1="886.2" y1="115.5" x2="886.2" y2="376.2" stroke="#000" stroke-width="4.3" stroke-linecap="round" stroke-dasharray="0 8.38"/>
<text transform="translate(886.2,99.5) scale(1,1.080)" font-size="19.0" text-anchor="middle">BCG</text>
<line x1="976.4" y1="115.5" x2="976.4" y2="376.2" stroke="#000" stroke-width="4.3" stroke-linecap="round" stroke-dasharray="0 8.38"/>
<text transform="translate(976.4,99.5) scale(1,1.080)" font-size="19.0" text-anchor="middle">V1</text>
<line x1="1010.6" y1="115.5" x2="1010.6" y2="376.2" stroke="#000" stroke-width="4.3" stroke-linecap="round" stroke-dasharray="0 8.38"/>
<text transform="translate(1010.6,99.5) scale(1,1.080)" font-size="19.0" text-anchor="middle">V2</text>
<line x1="1061.3" y1="115.5" x2="1061.3" y2="376.2" stroke="#000" stroke-width="4.3" stroke-linecap="round" stroke-dasharray="0 8.38"/>
<text transform="translate(1061.3,99.5) scale(1,1.080)" font-size="19.0" text-anchor="middle">Mtb</text>
<path d="M826.9,329.2l2.9,5.6h-5.8z" fill="#000000"/>
<path d="M826.9,336.8l2.9,5.6h-5.8z" fill="#000000"/>
<path d="M826.9,343.0l2.9,5.6h-5.8z" fill="#000000"/>
<path d="M826.9,344.9l2.9,5.6h-5.8z" fill="#000000"/>
<path d="M826.9,348.6l2.9,5.6h-5.8z" fill="#000000"/>
<path d="M876.9,333.5l2.9,5.6h-5.8z" fill="#000000"/>
<path d="M876.9,336.0l2.9,5.6h-5.8z" fill="#000000"/>
<path d="M876.9,339.0l2.9,5.6h-5.8z" fill="#000000"/>
<path d="M876.9,346.1l2.9,5.6h-5.8z" fill="#000000"/>
<path d="M876.9,356.2l2.9,5.6h-5.8z" fill="#000000"/>
<path d="M901.8,355.3l2.9,5.6h-5.8z" fill="#000000"/>
<path d="M918.6,358.2l2.9,5.6h-5.8z" fill="#000000"/>
<path d="M952.3,349.4l2.9,5.6h-5.8z" fill="#000000"/>
<path d="M826.9,333.5l2.9,5.6h-5.8z" fill="#0000ff"/>
<path d="M826.9,340.2l2.9,5.6h-5.8z" fill="#0000ff"/>
<path d="M826.9,357.0l2.9,5.6h-5.8z" fill="#0000ff"/>
<path d="M826.9,365.4l2.9,5.6h-5.8z" fill="#0000ff"/>
<path d="M876.9,328.1l2.9,5.6h-5.8z" fill="#0000ff"/>
<path d="M876.9,341.9l2.9,5.6h-5.8z" fill="#0000ff"/>
<path d="M876.9,354.5l2.9,5.6h-5.8z" fill="#0000ff"/>
<path d="M876.9,363.7l2.9,5.6h-5.8z" fill="#0000ff"/>
<path d="M901.8,313.6l2.9,5.6h-5.8z" fill="#0000ff"/>
<path d="M901.8,325.9l2.9,5.6h-5.8z" fill="#0000ff"/>
<path d="M901.8,333.0l2.9,5.6h-5.8z" fill="#0000ff"/>
<path d="M901.8,352.5l2.9,5.6h-5.8z" fill="#0000ff"/>
<path d="M901.8,360.9l2.9,5.6h-5.8z" fill="#0000ff"/>
<path d="M918.6,320.5l2.9,5.6h-5.8z" fill="#0000ff"/>
<path d="M918.6,329.8l2.9,5.6h-5.8z" fill="#0000ff"/>
<path d="M918.6,336.5l2.9,5.6h-5.8z" fill="#0000ff"/>
<path d="M918.6,362.9l2.9,5.6h-5.8z" fill="#0000ff"/>
<path d="M918.6,365.4l2.9,5.6h-5.8z" fill="#0000ff"/>
<path d="M918.6,367.6l2.9,5.6h-5.8z" fill="#0000ff"/>
<path d="M935.5,327.6l2.9,5.6h-5.8z" fill="#0000ff"/>
<path d="M935.5,336.0l2.9,5.6h-5.8z" fill="#0000ff"/>
<path d="M935.5,348.6l2.9,5.6h-5.8z" fill="#0000ff"/>
<path d="M935.5,353.6l2.9,5.6h-5.8z" fill="#0000ff"/>
<path d="M935.5,356.2l2.9,5.6h-5.8z" fill="#0000ff"/>
<path d="M935.5,359.2l2.9,5.6h-5.8z" fill="#0000ff"/>
<path d="M952.3,269.2l2.9,5.6h-5.8z" fill="#0000ff"/>
<path d="M952.3,330.4l2.9,5.6h-5.8z" fill="#0000ff"/>
<path d="M952.3,343.0l2.9,5.6h-5.8z" fill="#0000ff"/>
<path d="M952.3,360.4l2.9,5.6h-5.8z" fill="#0000ff"/>
<path d="M952.3,362.9l2.9,5.6h-5.8z" fill="#0000ff"/>
<path d="M967.4,292.6l2.9,5.6h-5.8z" fill="#0000ff"/>
<path d="M967.4,300.6l2.9,5.6h-5.8z" fill="#0000ff"/>
<path d="M967.4,308.2l2.9,5.6h-5.8z" fill="#0000ff"/>
<path d="M967.4,345.2l2.9,5.6h-5.8z" fill="#0000ff"/>
<path d="M967.4,356.2l2.9,5.6h-5.8z" fill="#0000ff"/>
<path d="M967.4,359.5l2.9,5.6h-5.8z" fill="#0000ff"/>
<path d="M985.4,319.7l2.9,5.6h-5.8z" fill="#0000ff"/>
<path d="M985.4,345.2l2.9,5.6h-5.8z" fill="#0000ff"/>
<path d="M985.4,350.8l2.9,5.6h-5.8z" fill="#0000ff"/>
<path d="M985.4,358.2l2.9,5.6h-5.8z" fill="#0000ff"/>
<path d="M985.4,372.2l2.9,5.6h-5.8z" fill="#0000ff"/>
<path d="M1002.4,313.6l2.9,5.6h-5.8z" fill="#0000ff"/>
<path d="M1002.4,337.7l2.9,5.6h-5.8z" fill="#0000ff"/>
<path d="M1002.4,342.7l2.9,5.6h-5.8z" fill="#0000ff"/>
<path d="M1002.4,345.2l2.9,5.6h-5.8z" fill="#0000ff"/>
<path d="M1002.4,360.7l2.9,5.6h-5.8z" fill="#0000ff"/>
<path d="M821.0,347.8l2.9,5.6h-5.8z" fill="#ff0000"/>
<path d="M832.5,348.6l2.9,5.6h-5.8z" fill="#ff0000"/>
<path d="M826.9,361.2l2.9,5.6h-5.8z" fill="#ff0000"/>
<path d="M815.5,364.6l2.9,5.6h-5.8z" fill="#ff0000"/>
<path d="M837.9,364.1l2.9,5.6h-5.8z" fill="#ff0000"/>
<path d="M865.6,362.4l2.9,5.6h-5.8z" fill="#ff0000"/>
<path d="M876.9,349.8l2.9,5.6h-5.8z" fill="#ff0000"/>
<path d="M876.9,359.5l2.9,5.6h-5.8z" fill="#ff0000"/>
<path d="M888.3,336.0l2.9,5.6h-5.8z" fill="#ff0000"/>
<path d="M888.3,350.3l2.9,5.6h-5.8z" fill="#ff0000"/>
<path d="M888.3,362.1l2.9,5.6h-5.8z" fill="#ff0000"/>
<path d="M896.8,352.5l2.9,5.6h-5.8z" fill="#ff0000"/>
<path d="M907.2,351.1l2.9,5.6h-5.8z" fill="#ff0000"/>
<path d="M918.6,333.5l2.9,5.6h-5.8z" fill="#ff0000"/>
<path d="M918.6,353.6l2.9,5.6h-5.8z" fill="#ff0000"/>
<path d="M918.6,355.8l2.9,5.6h-5.8z" fill="#ff0000"/>
<path d="M913.1,339.3l2.9,5.6h-5.8z" fill="#ff0000"/>
<path d="M913.1,366.3l2.9,5.6h-5.8z" fill="#ff0000"/>
<path d="M924.2,339.9l2.9,5.6h-5.8z" fill="#ff0000"/>
<path d="M924.2,362.9l2.9,5.6h-5.8z" fill="#ff0000"/>
<path d="M929.6,342.7l2.9,5.6h-5.8z" fill="#ff0000"/>
<path d="M929.6,371.3l2.9,5.6h-5.8z" fill="#ff0000"/>
<path d="M927.0,351.1l2.9,5.6h-5.8z" fill="#ff0000"/>
<path d="M935.5,352.8l2.9,5.6h-5.8z" fill="#ff0000"/>
<path d="M941.0,341.0l2.9,5.6h-5.8z" fill="#ff0000"/>
<path d="M941.0,347.4l2.9,5.6h-5.8z" fill="#ff0000"/>
<path d="M941.0,358.7l2.9,5.6h-5.8z" fill="#ff0000"/>
<path d="M941.0,366.6l2.9,5.6h-5.8z" fill="#ff0000"/>
<path d="M952.3,334.0l2.9,5.6h-5.8z" fill="#ff0000"/>
<path d="M952.3,358.7l2.9,5.6h-5.8z" fill="#ff0000"/>
<path d="M961.9,329.2l2.9,5.6h-5.8z" fill="#ff0000"/>
<path d="M961.9,341.9l2.9,5.6h-5.8z" fill="#ff0000"/>
<path d="M961.9,348.6l2.9,5.6h-5.8z" fill="#ff0000"/>
<path d="M962.9,358.7l2.9,5.6h-5.8z" fill="#ff0000"/>
<path d="M973.0,325.0l2.9,5.6h-5.8z" fill="#ff0000"/>
<path d="M973.0,339.3l2.9,5.6h-5.8z" fill="#ff0000"/>
<path d="M973.0,345.2l2.9,5.6h-5.8z" fill="#ff0000"/>
<path d="M980.0,329.2l2.9,5.6h-5.8z" fill="#ff0000"/>
<path d="M980.0,357.5l2.9,5.6h-5.8z" fill="#ff0000"/>
<path d="M985.4,369.6l2.9,5.6h-5.8z" fill="#ff0000"/>
<path d="M991.3,334.0l2.9,5.6h-5.8z" fill="#ff0000"/>
<path d="M991.3,354.5l2.9,5.6h-5.8z" fill="#ff0000"/>
<path d="M991.3,362.6l2.9,5.6h-5.8z" fill="#ff0000"/>
<path d="M1002.4,325.9l2.9,5.6h-5.8z" fill="#ff0000"/>
<path d="M1002.4,115.4l2.9,5.6h-5.8z" fill="#ff0000"/>
<path d="M1002.4,129.7l2.9,5.6h-5.8z" fill="#ff0000"/>
<path d="M1002.4,239.1l2.9,5.6h-5.8z" fill="#ff0000"/>
<path d="M996.5,144.9l2.9,5.6h-5.8z" fill="#ff0000"/>
<path d="M1007.5,144.9l2.9,5.6h-5.8z" fill="#ff0000"/>
<path d="M1019.1,118.7l2.9,5.6h-5.8z" fill="#ff0000"/>
<path d="M1019.1,171.7l2.9,5.6h-5.8z" fill="#ff0000"/>
<path d="M1036.9,134.2l2.9,5.6h-5.8z" fill="#ff0000"/>
<path d="M1036.9,223.4l2.9,5.6h-5.8z" fill="#ff0000"/>
<path d="M1036.9,247.5l2.9,5.6h-5.8z" fill="#ff0000"/>
<path d="M1013.3,139.3l2.9,5.6h-5.8z" fill="#ff0000"/>
<path d="M1007.6,144.5l2.9,5.6h-5.8z" fill="#ff0000"/>
<path d="M1024.5,144.5l2.9,5.6h-5.8z" fill="#ff0000"/>
<path d="M1034.3,144.5l2.9,5.6h-5.8z" fill="#ff0000"/>
<path d="M1053.6,144.5l2.9,5.6h-5.8z" fill="#ff0000"/>
<path d="M1051.2,220.8l2.9,5.6h-5.8z" fill="#ff0000"/>
<path d="M1078.7,216.9l2.9,5.6h-5.8z" fill="#ff0000"/>
<path d="M1076.1,250.1l2.9,5.6h-5.8z" fill="#ff0000"/>
<path d="M1092.9,254.2l2.9,5.6h-5.8z" fill="#ff0000"/>
<path d="M1019.6,288.7l2.9,5.6h-5.8z" fill="#ff0000"/>
<path d="M1019.6,320.5l2.9,5.6h-5.8z" fill="#ff0000"/>
<path d="M1034.3,335.5l2.9,5.6h-5.8z" fill="#ff0000"/>
<path d="M1034.3,352.7l2.9,5.6h-5.8z" fill="#ff0000"/>
<path d="M1036.9,247.7l2.9,5.6h-5.8z" fill="#ff0000"/>
<path d="M1053.2,264.0l2.9,5.6h-5.8z" fill="#ff0000"/>
<path d="M1053.2,274.4l2.9,5.6h-5.8z" fill="#ff0000"/>
<path d="M1053.2,331.6l2.9,5.6h-5.8z" fill="#ff0000"/>
<path d="M1076.5,250.2l2.9,5.6h-5.8z" fill="#ff0000"/>
<path d="M1076.5,290.7l2.9,5.6h-5.8z" fill="#ff0000"/>
<path d="M1076.5,328.6l2.9,5.6h-5.8z" fill="#ff0000"/>
<path d="M1076.5,339.8l2.9,5.6h-5.8z" fill="#ff0000"/>
<path d="M1093.7,254.6l2.9,5.6h-5.8z" fill="#ff0000"/>
<path d="M1093.7,293.3l2.9,5.6h-5.8z" fill="#ff0000"/>
<path d="M1093.7,305.0l2.9,5.6h-5.8z" fill="#ff0000"/>
<path d="M1093.7,324.3l2.9,5.6h-5.8z" fill="#ff0000"/>
<path d="M1093.7,326.0l2.9,5.6h-5.8z" fill="#ff0000"/>
<path d="M1093.7,339.0l2.9,5.6h-5.8z" fill="#ff0000"/>
<path d="M1110.1,276.1l2.9,5.6h-5.8z" fill="#ff0000"/>
<path d="M1110.1,286.9l2.9,5.6h-5.8z" fill="#ff0000"/>
<path d="M1110.1,304.2l2.9,5.6h-5.8z" fill="#ff0000"/>
<path d="M1110.1,336.4l2.9,5.6h-5.8z" fill="#ff0000"/>
<path d="M1110.1,351.9l2.9,5.6h-5.8z" fill="#ff0000"/>
<path d="M1117.3,348.4l2.9,5.6h-5.8z" fill="#ff0000"/>
<path d="M1128.2,274.4l2.9,5.6h-5.8z" fill="#ff0000"/>
<path d="M1128.2,285.0l2.9,5.6h-5.8z" fill="#ff0000"/>
<path d="M1128.2,293.0l2.9,5.6h-5.8z" fill="#ff0000"/>
<path d="M1128.2,356.2l2.9,5.6h-5.8z" fill="#ff0000"/>
<path d="M1128.2,360.5l2.9,5.6h-5.8z" fill="#ff0000"/>
<path d="M1138.0,305.4l2.9,5.6h-5.8z" fill="#ff0000"/>
<path d="M1145.4,305.4l2.9,5.6h-5.8z" fill="#ff0000"/>
<path d="M1145.4,315.7l2.9,5.6h-5.8z" fill="#ff0000"/>
<path d="M1145.4,337.2l2.9,5.6h-5.8z" fill="#ff0000"/>
<path d="M1145.4,346.7l2.9,5.6h-5.8z" fill="#ff0000"/>
<path d="M1160.9,282.1l2.9,5.6h-5.8z" fill="#ff0000"/>
<path d="M1160.9,305.0l2.9,5.6h-5.8z" fill="#ff0000"/>
<path d="M1160.9,346.7l2.9,5.6h-5.8z" fill="#ff0000"/>
<path d="M1179.0,326.0l2.9,5.6h-5.8z" fill="#ff0000"/>
<path d="M1179.0,340.7l2.9,5.6h-5.8z" fill="#ff0000"/>
<path d="M1195.4,326.9l2.9,5.6h-5.8z" fill="#ff0000"/>
<path d="M1204.8,321.2l2.9,5.6h-5.8z" fill="#ff0000"/>
<path d="M1204.8,327.4l2.9,5.6h-5.8z" fill="#ff0000"/>
<path d="M1201.4,340.3l2.9,5.6h-5.8z" fill="#ff0000"/>
<path d="M1019.6,328.6l2.9,5.6h-5.8z" fill="#000000"/>
<path d="M1019.6,347.6l2.9,5.6h-5.8z" fill="#000000"/>
<path d="M1019.6,350.2l2.9,5.6h-5.8z" fill="#000000"/>
<path d="M1019.6,352.7l2.9,5.6h-5.8z" fill="#000000"/>
<path d="M1019.6,358.8l2.9,5.6h-5.8z" fill="#000000"/>
<path d="M1019.6,365.7l2.9,5.6h-5.8z" fill="#000000"/>
<path d="M1034.3,328.6l2.9,5.6h-5.8z" fill="#000000"/>
<path d="M1034.3,365.7l2.9,5.6h-5.8z" fill="#000000"/>
<path d="M1050.7,308.0l2.9,5.6h-5.8z" fill="#000000"/>
<path d="M1053.2,350.2l2.9,5.6h-5.8z" fill="#000000"/>
<path d="M1053.2,354.5l2.9,5.6h-5.8z" fill="#000000"/>
<path d="M1053.2,357.0l2.9,5.6h-5.8z" fill="#000000"/>
<path d="M1076.5,312.3l2.9,5.6h-5.8z" fill="#000000"/>
<path d="M1076.5,322.3l2.9,5.6h-5.8z" fill="#000000"/>
<path d="M1076.5,332.9l2.9,5.6h-5.8z" fill="#000000"/>
<path d="M1076.5,350.2l2.9,5.6h-5.8z" fill="#000000"/>
<path d="M1076.5,353.6l2.9,5.6h-5.8z" fill="#000000"/>
<path d="M1076.5,356.2l2.9,5.6h-5.8z" fill="#000000"/>
<path d="M1093.7,299.3l2.9,5.6h-5.8z" fill="#000000"/>
<path d="M1093.7,311.9l2.9,5.6h-5.8z" fill="#000000"/>
<path d="M1093.7,315.7l2.9,5.6h-5.8z" fill="#000000"/>
<path d="M1093.7,318.3l2.9,5.6h-5.8z" fill="#000000"/>
<path d="M1093.7,331.2l2.9,5.6h-5.8z" fill="#000000"/>
<path d="M1093.7,349.3l2.9,5.6h-5.8z" fill="#000000"/>
<path d="M1110.1,310.2l2.9,5.6h-5.8z" fill="#000000"/>
<path d="M1110.1,329.5l2.9,5.6h-5.8z" fill="#000000"/>
<path d="M1110.1,331.2l2.9,5.6h-5.8z" fill="#000000"/>
<path d="M1110.1,345.9l2.9,5.6h-5.8z" fill="#000000"/>
<path d="M1110.1,354.5l2.9,5.6h-5.8z" fill="#000000"/>
<path d="M1128.2,340.7l2.9,5.6h-5.8z" fill="#000000"/>
<path d="M1128.2,349.3l2.9,5.6h-5.8z" fill="#000000"/>
<path d="M1128.2,352.2l2.9,5.6h-5.8z" fill="#000000"/>
<path d="M1142.8,321.2l2.9,5.6h-5.8z" fill="#000000"/>
<path d="M1142.8,330.7l2.9,5.6h-5.8z" fill="#000000"/>
<path d="M1142.8,336.4l2.9,5.6h-5.8z" fill="#000000"/>
<path d="M1142.8,339.8l2.9,5.6h-5.8z" fill="#000000"/>
<path d="M1142.8,342.4l2.9,5.6h-5.8z" fill="#000000"/>
<path d="M1142.8,355.3l2.9,5.6h-5.8z" fill="#000000"/>
<path d="M1158.3,348.4l2.9,5.6h-5.8z" fill="#000000"/>
<path d="M1161.8,351.9l2.9,5.6h-5.8z" fill="#000000"/>
<path d="M1161.8,361.4l2.9,5.6h-5.8z" fill="#000000"/>
<path d="M1161.8,369.1l2.9,5.6h-5.8z" fill="#000000"/>
<path d="M1179.0,345.3l2.9,5.6h-5.8z" fill="#000000"/>
<path d="M1019.6,339.0l2.9,5.6h-5.8z" fill="#0000ff"/>
<path d="M1019.6,345.9l2.9,5.6h-5.8z" fill="#0000ff"/>
<path d="M1019.6,370.8l2.9,5.6h-5.8z" fill="#0000ff"/>
<path d="M1034.3,338.1l2.9,5.6h-5.8z" fill="#0000ff"/>
<path d="M1034.3,342.4l2.9,5.6h-5.8z" fill="#0000ff"/>
<path d="M1034.3,348.8l2.9,5.6h-5.8z" fill="#0000ff"/>
<path d="M1034.3,370.0l2.9,5.6h-5.8z" fill="#0000ff"/>
<path d="M1053.2,309.7l2.9,5.6h-5.8z" fill="#0000ff"/>
<path d="M1053.2,320.5l2.9,5.6h-5.8z" fill="#0000ff"/>
<path d="M1053.2,329.1l2.9,5.6h-5.8z" fill="#0000ff"/>
<path d="M1053.2,339.5l2.9,5.6h-5.8z" fill="#0000ff"/>
<path d="M1053.2,361.4l2.9,5.6h-5.8z" fill="#0000ff"/>
<path d="M1053.2,365.7l2.9,5.6h-5.8z" fill="#0000ff"/>
<path d="M1076.5,286.9l2.9,5.6h-5.8z" fill="#0000ff"/>
<path d="M1076.5,315.7l2.9,5.6h-5.8z" fill="#0000ff"/>
<path d="M1076.5,325.2l2.9,5.6h-5.8z" fill="#0000ff"/>
<path d="M1076.5,337.2l2.9,5.6h-5.8z" fill="#0000ff"/>
<path d="M1076.5,350.2l2.9,5.6h-5.8z" fill="#0000ff"/>
<path d="M1076.5,363.1l2.9,5.6h-5.8z" fill="#0000ff"/>
<path d="M1093.7,308.0l2.9,5.6h-5.8z" fill="#0000ff"/>
<path d="M1093.7,326.0l2.9,5.6h-5.8z" fill="#0000ff"/>
<path d="M1093.7,327.4l2.9,5.6h-5.8z" fill="#0000ff"/>
<path d="M1093.7,341.2l2.9,5.6h-5.8z" fill="#0000ff"/>
<path d="M1093.7,345.9l2.9,5.6h-5.8z" fill="#0000ff"/>
<path d="M1093.7,355.3l2.9,5.6h-5.8z" fill="#0000ff"/>
<path d="M1110.1,326.6l2.9,5.6h-5.8z" fill="#0000ff"/>
<path d="M1110.1,339.8l2.9,5.6h-5.8z" fill="#0000ff"/>
<path d="M1110.1,345.0l2.9,5.6h-5.8z" fill="#0000ff"/>
<path d="M1110.1,345.9l2.9,5.6h-5.8z" fill="#0000ff"/>
<path d="M1110.1,360.2l2.9,5.6h-5.8z" fill="#0000ff"/>
<path d="M1128.2,316.2l2.9,5.6h-5.8z" fill="#0000ff"/>
<path d="M1128.2,338.1l2.9,5.6h-5.8z" fill="#0000ff"/>
<path d="M1128.2,345.0l2.9,5.6h-5.8z" fill="#0000ff"/>
<path d="M1128.2,346.7l2.9,5.6h-5.8z" fill="#0000ff"/>
<path d="M1128.2,364.8l2.9,5.6h-5.8z" fill="#0000ff"/>
<path d="M1142.8,334.7l2.9,5.6h-5.8z" fill="#0000ff"/>
<path d="M1142.8,347.6l2.9,5.6h-5.8z" fill="#0000ff"/>
<path d="M1142.8,353.6l2.9,5.6h-5.8z" fill="#0000ff"/>
<path d="M1142.8,369.1l2.9,5.6h-5.8z" fill="#0000ff"/>
<path d="M1160.9,348.4l2.9,5.6h-5.8z" fill="#0000ff"/>
<path d="M1160.9,355.3l2.9,5.6h-5.8z" fill="#0000ff"/>
<path d="M1160.9,365.7l2.9,5.6h-5.8z" fill="#0000ff"/>
<path d="M1166.9,363.9l2.9,5.6h-5.8z" fill="#0000ff"/>
<path d="M1169.5,370.8l2.9,5.6h-5.8z" fill="#0000ff"/>
<g stroke="#000" stroke-width="2.7" fill="none">
<path d="M789.7,376.2H1220.3"/>
<path d="M801.7,376.2V387.7"/>
<path d="M843.4,376.2V387.7"/>
<path d="M885.2,376.2V387.7"/>
<path d="M926.9,376.2V387.7"/>
<path d="M968.6,376.2V387.7"/>
<path d="M1010.4,376.2V387.7"/>
<path d="M1052.1,376.2V387.7"/>
<path d="M1093.8,376.2V387.7"/>
<path d="M1135.5,376.2V387.7"/>
<path d="M1177.3,376.2V387.7"/>
<path d="M1219.0,376.2V387.7"/>
<path d="M801.7,376.2V173.2"/>
<path d="M789.7,308.5H801.7"/>
<path d="M789.7,240.9H801.7"/>
<path d="M793.7,173.2H809.7"/>
<path d="M801.7,148.9V97.0"/>
<path d="M793.7,148.9H809.7"/>
<path d="M786.7,140.5H801.7"/>
<path d="M786.7,119.4H801.7"/>
<path d="M786.7,98.3H801.7"/>
</g>
<text transform="translate(785.2,384.4) scale(1,1.090)" font-size="21.0" text-anchor="end" font-weight="bold">0.0</text>
<text transform="translate(785.2,316.7) scale(1,1.090)" font-size="21.0" text-anchor="end" font-weight="bold">0.1</text>
<text transform="translate(785.2,249.0) scale(1,1.090)" font-size="21.0" text-anchor="end" font-weight="bold">0.2</text>
<text transform="translate(785.2,181.4) scale(1,1.090)" font-size="21.0" text-anchor="end" font-weight="bold">0.3</text>
<text transform="translate(782.2,148.7) scale(1,1.090)" font-size="21.0" text-anchor="end" font-weight="bold">0.5</text>
<text transform="translate(782.2,127.6) scale(1,1.090)" font-size="21.0" text-anchor="end" font-weight="bold">1.0</text>
<text transform="translate(782.2,106.5) scale(1,1.090)" font-size="21.0" text-anchor="end" font-weight="bold">1.5</text>
<text transform="translate(801.7,412.0) scale(1,1.090)" font-size="21.0" text-anchor="middle" font-weight="bold">-10</text>
<text transform="translate(843.4,412.0) scale(1,1.090)" font-size="21.0" text-anchor="middle" font-weight="bold">-5</text>
<text transform="translate(885.2,412.0) scale(1,1.090)" font-size="21.0" text-anchor="middle" font-weight="bold">0</text>
<text transform="translate(926.9,412.0) scale(1,1.090)" font-size="21.0" text-anchor="middle" font-weight="bold">5</text>
<text transform="translate(968.6,412.0) scale(1,1.090)" font-size="21.0" text-anchor="middle" font-weight="bold">10</text>
<text transform="translate(1010.4,412.0) scale(1,1.090)" font-size="21.0" text-anchor="middle" font-weight="bold">15</text>
<text transform="translate(1052.1,412.0) scale(1,1.090)" font-size="21.0" text-anchor="middle" font-weight="bold">20</text>
<text transform="translate(1093.8,412.0) scale(1,1.090)" font-size="21.0" text-anchor="middle" font-weight="bold">25</text>
<text transform="translate(1135.5,412.0) scale(1,1.090)" font-size="21.0" text-anchor="middle" font-weight="bold">30</text>
<text transform="translate(1177.3,412.0) scale(1,1.090)" font-size="21.0" text-anchor="middle" font-weight="bold">35</text>
<text transform="translate(1219.0,412.0) scale(1,1.090)" font-size="21.0" text-anchor="middle" font-weight="bold">40</text>
<text transform="translate(743.0,237.5) rotate(-90) scale(1,1.035)" font-size="22.6" font-weight="bold" text-anchor="middle">Absorbance (450nm)</text>
<path d="M202.2,744.0 L202.2,661.9 C206.3,664.5 217.2,671.0 227.0,677.2 C236.8,683.4 249.7,693.1 261.0,699.3 C272.3,705.5 283.6,711.5 294.9,714.6 C306.2,717.7 317.6,718.6 328.9,718.0 C340.2,717.4 351.6,714.0 362.9,711.2 C374.2,708.4 385.6,703.5 396.9,701.0 C408.2,698.5 421.9,696.8 430.8,695.9 C439.7,695.0 444.5,695.4 450.0,695.5 C455.5,695.6 459.2,696.6 464.0,696.3 C468.8,696.0 474.5,694.8 478.5,693.5 C482.5,692.2 484.9,690.6 488.1,688.7 C491.3,686.8 494.5,685.0 497.7,681.9 C500.9,678.8 504.1,675.0 507.3,670.4 C510.5,665.8 513.7,657.9 516.9,654.0 C520.1,650.1 523.3,648.2 526.5,646.8 C529.7,645.4 533.8,645.5 536.2,645.4 C538.6,645.2 538.6,644.8 541.0,645.9 C543.4,647.0 547.4,649.5 550.6,652.1 C553.8,654.7 557.3,658.2 560.0,661.7 C562.7,665.2 564.9,668.3 567.0,673.0 C569.1,677.7 571.7,687.2 572.6,690.0 L572.6,744.0 Z" fill="#bfbfbf"/>
<path d="M202.2,744.0 L202.2,667.0 C206.3,670.1 217.2,678.9 227.0,685.7 C236.8,692.5 249.7,702.7 261.0,707.8 C272.3,712.9 285.3,715.2 294.9,716.3 C304.5,717.4 311.3,717.4 318.7,714.6 C326.1,711.8 331.7,709.2 339.1,699.3 C346.5,689.4 355.0,672.6 362.9,655.1 C370.8,637.6 379.0,608.3 386.7,594.0 C394.4,579.7 402.0,570.6 408.8,569.5 C415.6,568.4 422.2,577.1 427.4,587.2 C432.6,597.3 436.3,617.2 440.0,630.0 C443.7,642.8 446.4,654.1 449.6,663.7 C452.8,673.3 456.6,681.8 459.2,687.7 C461.8,693.6 462.6,695.4 465.0,699.2 C467.4,703.1 471.1,708.6 473.7,710.8 C476.3,713.0 478.0,712.7 480.4,712.2 C482.8,711.7 485.2,710.7 488.1,707.9 C491.0,705.1 494.5,700.7 497.7,695.4 C500.9,690.1 504.1,682.9 507.3,676.2 C510.5,669.5 513.7,660.1 516.9,655.0 C520.1,649.9 523.9,647.2 526.5,645.4 C529.1,643.6 529.9,644.1 532.3,644.4 C534.7,644.7 538.0,644.9 541.0,647.3 C544.0,649.7 547.4,654.7 550.6,658.8 C553.8,662.9 556.8,666.1 560.0,671.8 C563.2,677.5 566.6,686.3 570.0,693.0 C573.4,699.7 578.7,708.8 580.4,712.0 L580.4,744.0 Z" fill="#ffc0c0"/>
<path d="M202.2,744.0 L202.2,704.4 C206.3,705.2 217.2,707.8 227.0,709.5 C236.8,711.2 249.7,712.6 261.0,714.6 C272.3,716.6 283.6,720.5 294.9,721.4 C306.2,722.2 317.6,720.8 328.9,719.7 C340.2,718.6 351.6,716.9 362.9,714.6 C374.2,712.3 385.6,707.0 396.9,706.1 C408.2,705.2 423.6,708.2 430.8,709.5 C438.0,710.8 435.3,712.4 440.0,713.7 C444.7,715.0 452.8,716.7 459.2,717.5 C465.6,718.3 472.9,719.0 478.5,718.5 C484.1,718.0 488.1,716.7 492.9,714.6 C497.7,712.5 502.5,708.9 507.3,706.0 C512.1,703.1 517.7,699.7 521.7,697.3 C525.7,694.9 528.1,692.3 531.3,691.5 C534.5,690.7 537.8,691.2 541.0,692.5 C544.2,693.8 547.4,696.5 550.6,699.2 C553.8,701.9 557.3,705.4 560.0,708.8 C562.7,712.2 564.2,715.6 566.8,719.7 C569.3,723.8 573.9,731.0 575.3,733.3 L575.3,744.0 Z" fill="#c0c0ff"/>
<path d="M202.2,744.0 L202.2,661.9 C206.3,664.5 217.2,671.0 227.0,677.2 C236.8,683.4 249.7,693.1 261.0,699.3 C272.3,705.5 283.6,711.5 294.9,714.6 C306.2,717.7 317.6,718.6 328.9,718.0 C340.2,717.4 351.6,714.0 362.9,711.2 C374.2,708.4 385.6,703.5 396.9,701.0 C408.2,698.5 421.9,696.8 430.8,695.9 C439.7,695.0 444.5,695.4 450.0,695.5 C455.5,695.6 459.2,696.6 464.0,696.3 C468.8,696.0 474.5,694.8 478.5,693.5 C482.5,692.2 484.9,690.6 488.1,688.7 C491.3,686.8 494.5,685.0 497.7,681.9 C500.9,678.8 504.1,675.0 507.3,670.4 C510.5,665.8 513.7,657.9 516.9,654.0 C520.1,650.1 523.3,648.2 526.5,646.8 C529.7,645.4 533.8,645.5 536.2,645.4 C538.6,645.2 538.6,644.8 541.0,645.9 C543.4,647.0 547.4,649.5 550.6,652.1 C553.8,654.7 557.3,658.2 560.0,661.7 C562.7,665.2 564.9,668.3 567.0,673.0 C569.1,677.7 571.7,687.2 572.6,690.0 L572.6,744.0 Z" fill="#ba9494" clip-path="url(#cA2LR)"/>
<path d="M202.2,744.0 L202.2,661.9 C206.3,664.5 217.2,671.0 227.0,677.2 C236.8,683.4 249.7,693.1 261.0,699.3 C272.3,705.5 283.6,711.5 294.9,714.6 C306.2,717.7 317.6,718.6 328.9,718.0 C340.2,717.4 351.6,714.0 362.9,711.2 C374.2,708.4 385.6,703.5 396.9,701.0 C408.2,698.5 421.9,696.8 430.8,695.9 C439.7,695.0 444.5,695.4 450.0,695.5 C455.5,695.6 459.2,696.6 464.0,696.3 C468.8,696.0 474.5,694.8 478.5,693.5 C482.5,692.2 484.9,690.6 488.1,688.7 C491.3,686.8 494.5,685.0 497.7,681.9 C500.9,678.8 504.1,675.0 507.3,670.4 C510.5,665.8 513.7,657.9 516.9,654.0 C520.1,650.1 523.3,648.2 526.5,646.8 C529.7,645.4 533.8,645.5 536.2,645.4 C538.6,645.2 538.6,644.8 541.0,645.9 C543.4,647.0 547.4,649.5 550.6,652.1 C553.8,654.7 557.3,658.2 560.0,661.7 C562.7,665.2 564.9,668.3 567.0,673.0 C569.1,677.7 571.7,687.2 572.6,690.0 L572.6,744.0 Z" fill="#9292ba" clip-path="url(#cA2LB)"/>
<path d="M202.2,744.0 L202.2,667.0 C206.3,670.1 217.2,678.9 227.0,685.7 C236.8,692.5 249.7,702.7 261.0,707.8 C272.3,712.9 285.3,715.2 294.9,716.3 C304.5,717.4 311.3,717.4 318.7,714.6 C326.1,711.8 331.7,709.2 339.1,699.3 C346.5,689.4 355.0,672.6 362.9,655.1 C370.8,637.6 379.0,608.3 386.7,594.0 C394.4,579.7 402.0,570.6 408.8,569.5 C415.6,568.4 422.2,577.1 427.4,587.2 C432.6,597.3 436.3,617.2 440.0,630.0 C443.7,642.8 446.4,654.1 449.6,663.7 C452.8,673.3 456.6,681.8 459.2,687.7 C461.8,693.6 462.6,695.4 465.0,699.2 C467.4,703.1 471.1,708.6 473.7,710.8 C476.3,713.0 478.0,712.7 480.4,712.2 C482.8,711.7 485.2,710.7 488.1,707.9 C491.0,705.1 494.5,700.7 497.7,695.4 C500.9,690.1 504.1,682.9 507.3,676.2 C510.5,669.5 513.7,660.1 516.9,655.0 C520.1,649.9 523.9,647.2 526.5,645.4 C529.1,643.6 529.9,644.1 532.3,644.4 C534.7,644.7 538.0,644.9 541.0,647.3 C544.0,649.7 547.4,654.7 550.6,658.8 C553.8,662.9 556.8,666.1 560.0,671.8 C563.2,677.5 566.6,686.3 570.0,693.0 C573.4,699.7 578.7,708.8 580.4,712.0 L580.4,744.0 Z" fill="#ba9bcd" clip-path="url(#cA2LB)"/>
<g clip-path="url(#cA2LR)"><path d="M202.2,744.0 L202.2,661.9 C206.3,664.5 217.2,671.0 227.0,677.2 C236.8,683.4 249.7,693.1 261.0,699.3 C272.3,705.5 283.6,711.5 294.9,714.6 C306.2,717.7 317.6,718.6 328.9,718.0 C340.2,717.4 351.6,714.0 362.9,711.2 C374.2,708.4 385.6,703.5 396.9,701.0 C408.2,698.5 421.9,696.8 430.8,695.9 C439.7,695.0 444.5,695.4 450.0,695.5 C455.5,695.6 459.2,696.6 464.0,696.3 C468.8,696.0 474.5,694.8 478.5,693.5 C482.5,692.2 484.9,690.6 488.1,688.7 C491.3,686.8 494.5,685.0 497.7,681.9 C500.9,678.8 504.1,675.0 507.3,670.4 C510.5,665.8 513.7,657.9 516.9,654.0 C520.1,650.1 523.3,648.2 526.5,646.8 C529.7,645.4 533.8,645.5 536.2,645.4 C538.6,645.2 538.6,644.8 541.0,645.9 C543.4,647.0 547.4,649.5 550.6,652.1 C553.8,654.7 557.3,658.2 560.0,661.7 C562.7,665.2 564.9,668.3 567.0,673.0 C569.1,677.7 571.7,687.2 572.6,690.0 L572.6,744.0 Z" fill="#8a7798" clip-path="url(#cA2LB)"/></g>
<line x1="261.0" y1="483.5" x2="261.0" y2="745.0" stroke="#000" stroke-width="4.3" stroke-linecap="round" stroke-dasharray="0 8.40"/>
<text transform="translate(261.0,469.0) scale(1,1.080)" font-size="19.0" text-anchor="middle">BCG</text>
<line x1="352.0" y1="483.5" x2="352.0" y2="745.0" stroke="#000" stroke-width="4.3" stroke-linecap="round" stroke-dasharray="0 8.40"/>
<text transform="translate(352.0,469.0) scale(1,1.080)" font-size="19.0" text-anchor="middle">V1</text>
<line x1="385.5" y1="483.5" x2="385.5" y2="745.0" stroke="#000" stroke-width="4.3" stroke-linecap="round" stroke-dasharray="0 8.40"/>
<text transform="translate(385.5,469.0) scale(1,1.080)" font-size="19.0" text-anchor="middle">V2</text>
<line x1="436.5" y1="483.5" x2="436.5" y2="745.0" stroke="#000" stroke-width="4.3" stroke-linecap="round" stroke-dasharray="0 8.40"/>
<text transform="translate(436.5,469.0) scale(1,1.080)" font-size="19.0" text-anchor="middle">Mtb</text>
<path d="M252.4,506.9l2.9,5.6h-5.8z" fill="#ff0000"/>
<path d="M377.7,544.0l2.9,5.6h-5.8z" fill="#ff0000"/>
<path d="M377.7,557.8l2.9,5.6h-5.8z" fill="#ff0000"/>
<path d="M377.7,604.5l2.9,5.6h-5.8z" fill="#ff0000"/>
<path d="M277.3,599.8l2.9,5.6h-5.8z" fill="#ff0000"/>
<path d="M252.4,514.9l2.9,5.6h-5.8z" fill="#000000"/>
<path d="M252.4,594.8l2.9,5.6h-5.8z" fill="#000000"/>
<path d="M201.9,611.6l2.9,5.6h-5.8z" fill="#000000"/>
<path d="M201.9,656.0l2.9,5.6h-5.8z" fill="#000000"/>
<path d="M201.9,680.1l2.9,5.6h-5.8z" fill="#000000"/>
<path d="M201.9,685.1l2.9,5.6h-5.8z" fill="#000000"/>
<path d="M201.9,704.5l2.9,5.6h-5.8z" fill="#000000"/>
<path d="M252.4,691.9l2.9,5.6h-5.8z" fill="#000000"/>
<path d="M252.4,703.6l2.9,5.6h-5.8z" fill="#000000"/>
<path d="M252.4,719.3l2.9,5.6h-5.8z" fill="#000000"/>
<path d="M277.3,723.0l2.9,5.6h-5.8z" fill="#000000"/>
<path d="M294.1,720.5l2.9,5.6h-5.8z" fill="#000000"/>
<path d="M327.4,724.7l2.9,5.6h-5.8z" fill="#000000"/>
<path d="M201.9,626.2l2.9,5.6h-5.8z" fill="#ff0000"/>
<path d="M201.9,702.0l2.9,5.6h-5.8z" fill="#ff0000"/>
<path d="M196.3,707.0l2.9,5.6h-5.8z" fill="#ff0000"/>
<path d="M196.3,720.1l2.9,5.6h-5.8z" fill="#ff0000"/>
<path d="M207.8,707.0l2.9,5.6h-5.8z" fill="#ff0000"/>
<path d="M207.8,714.6l2.9,5.6h-5.8z" fill="#ff0000"/>
<path d="M252.4,717.1l2.9,5.6h-5.8z" fill="#ff0000"/>
<path d="M246.5,699.4l2.9,5.6h-5.8z" fill="#ff0000"/>
<path d="M235.5,698.1l2.9,5.6h-5.8z" fill="#ff0000"/>
<path d="M257.7,702.5l2.9,5.6h-5.8z" fill="#ff0000"/>
<path d="M271.7,699.1l2.9,5.6h-5.8z" fill="#ff0000"/>
<path d="M271.7,707.0l2.9,5.6h-5.8z" fill="#ff0000"/>
<path d="M271.7,719.6l2.9,5.6h-5.8z" fill="#ff0000"/>
<path d="M268.8,698.3l2.9,5.6h-5.8z" fill="#ff0000"/>
<path d="M277.3,600.2l2.9,5.6h-5.8z" fill="#ff0000"/>
<path d="M283.0,703.6l2.9,5.6h-5.8z" fill="#ff0000"/>
<path d="M283.0,716.3l2.9,5.6h-5.8z" fill="#ff0000"/>
<path d="M288.5,707.4l2.9,5.6h-5.8z" fill="#ff0000"/>
<path d="M288.5,715.4l2.9,5.6h-5.8z" fill="#ff0000"/>
<path d="M294.1,645.9l2.9,5.6h-5.8z" fill="#ff0000"/>
<path d="M294.1,699.1l2.9,5.6h-5.8z" fill="#ff0000"/>
<path d="M299.5,705.8l2.9,5.6h-5.8z" fill="#ff0000"/>
<path d="M299.5,712.1l2.9,5.6h-5.8z" fill="#ff0000"/>
<path d="M305.0,702.0l2.9,5.6h-5.8z" fill="#ff0000"/>
<path d="M305.0,720.0l2.9,5.6h-5.8z" fill="#ff0000"/>
<path d="M310.6,647.3l2.9,5.6h-5.8z" fill="#ff0000"/>
<path d="M310.6,711.2l2.9,5.6h-5.8z" fill="#ff0000"/>
<path d="M316.3,702.8l2.9,5.6h-5.8z" fill="#ff0000"/>
<path d="M316.3,710.4l2.9,5.6h-5.8z" fill="#ff0000"/>
<path d="M316.3,718.8l2.9,5.6h-5.8z" fill="#ff0000"/>
<path d="M321.8,718.0l2.9,5.6h-5.8z" fill="#ff0000"/>
<path d="M327.4,675.0l2.9,5.6h-5.8z" fill="#ff0000"/>
<path d="M327.4,706.2l2.9,5.6h-5.8z" fill="#ff0000"/>
<path d="M333.1,710.4l2.9,5.6h-5.8z" fill="#ff0000"/>
<path d="M333.1,717.6l2.9,5.6h-5.8z" fill="#ff0000"/>
<path d="M338.7,711.2l2.9,5.6h-5.8z" fill="#ff0000"/>
<path d="M342.5,657.7l2.9,5.6h-5.8z" fill="#ff0000"/>
<path d="M342.5,698.6l2.9,5.6h-5.8z" fill="#ff0000"/>
<path d="M342.5,723.0l2.9,5.6h-5.8z" fill="#ff0000"/>
<path d="M355.0,708.7l2.9,5.6h-5.8z" fill="#ff0000"/>
<path d="M355.0,712.9l2.9,5.6h-5.8z" fill="#ff0000"/>
<path d="M360.9,648.6l2.9,5.6h-5.8z" fill="#ff0000"/>
<path d="M360.9,688.2l2.9,5.6h-5.8z" fill="#ff0000"/>
<path d="M360.9,697.4l2.9,5.6h-5.8z" fill="#ff0000"/>
<path d="M366.4,711.7l2.9,5.6h-5.8z" fill="#ff0000"/>
<path d="M377.7,604.4l2.9,5.6h-5.8z" fill="#ff0000"/>
<path d="M377.7,660.2l2.9,5.6h-5.8z" fill="#ff0000"/>
<path d="M377.7,672.9l2.9,5.6h-5.8z" fill="#ff0000"/>
<path d="M377.7,687.2l2.9,5.6h-5.8z" fill="#ff0000"/>
<path d="M201.9,674.5l2.9,5.6h-5.8z" fill="#0000ff"/>
<path d="M201.9,702.8l2.9,5.6h-5.8z" fill="#0000ff"/>
<path d="M201.9,710.4l2.9,5.6h-5.8z" fill="#0000ff"/>
<path d="M201.9,716.8l2.9,5.6h-5.8z" fill="#0000ff"/>
<path d="M252.4,699.1l2.9,5.6h-5.8z" fill="#0000ff"/>
<path d="M252.4,707.9l2.9,5.6h-5.8z" fill="#0000ff"/>
<path d="M252.4,712.9l2.9,5.6h-5.8z" fill="#0000ff"/>
<path d="M252.4,723.0l2.9,5.6h-5.8z" fill="#0000ff"/>
<path d="M277.3,711.2l2.9,5.6h-5.8z" fill="#0000ff"/>
<path d="M277.3,714.6l2.9,5.6h-5.8z" fill="#0000ff"/>
<path d="M277.3,726.4l2.9,5.6h-5.8z" fill="#0000ff"/>
<path d="M294.1,712.9l2.9,5.6h-5.8z" fill="#0000ff"/>
<path d="M294.1,714.6l2.9,5.6h-5.8z" fill="#0000ff"/>
<path d="M294.1,718.0l2.9,5.6h-5.8z" fill="#0000ff"/>
<path d="M294.1,722.2l2.9,5.6h-5.8z" fill="#0000ff"/>
<path d="M310.6,714.6l2.9,5.6h-5.8z" fill="#0000ff"/>
<path d="M310.6,719.6l2.9,5.6h-5.8z" fill="#0000ff"/>
<path d="M310.6,726.0l2.9,5.6h-5.8z" fill="#0000ff"/>
<path d="M327.4,679.8l2.9,5.6h-5.8z" fill="#0000ff"/>
<path d="M327.4,714.6l2.9,5.6h-5.8z" fill="#0000ff"/>
<path d="M327.4,717.6l2.9,5.6h-5.8z" fill="#0000ff"/>
<path d="M342.5,691.9l2.9,5.6h-5.8z" fill="#0000ff"/>
<path d="M342.5,704.5l2.9,5.6h-5.8z" fill="#0000ff"/>
<path d="M342.5,711.2l2.9,5.6h-5.8z" fill="#0000ff"/>
<path d="M342.5,715.1l2.9,5.6h-5.8z" fill="#0000ff"/>
<path d="M342.5,721.3l2.9,5.6h-5.8z" fill="#0000ff"/>
<path d="M360.9,695.7l2.9,5.6h-5.8z" fill="#0000ff"/>
<path d="M360.9,714.6l2.9,5.6h-5.8z" fill="#0000ff"/>
<path d="M360.9,718.0l2.9,5.6h-5.8z" fill="#0000ff"/>
<path d="M360.9,722.2l2.9,5.6h-5.8z" fill="#0000ff"/>
<path d="M377.7,694.1l2.9,5.6h-5.8z" fill="#0000ff"/>
<path d="M377.7,702.0l2.9,5.6h-5.8z" fill="#0000ff"/>
<path d="M377.7,709.5l2.9,5.6h-5.8z" fill="#0000ff"/>
<path d="M377.7,716.3l2.9,5.6h-5.8z" fill="#0000ff"/>
<path d="M377.7,720.5l2.9,5.6h-5.8z" fill="#0000ff"/>
<path d="M394.5,471.1l2.9,5.6h-5.8z" fill="#ff0000"/>
<path d="M394.5,500.7l2.9,5.6h-5.8z" fill="#ff0000"/>
<path d="M394.5,544.1l2.9,5.6h-5.8z" fill="#ff0000"/>
<path d="M394.5,586.9l2.9,5.6h-5.8z" fill="#ff0000"/>
<path d="M412.2,485.7l2.9,5.6h-5.8z" fill="#ff0000"/>
<path d="M412.2,554.1l2.9,5.6h-5.8z" fill="#ff0000"/>
<path d="M409.6,514.5l2.9,5.6h-5.8z" fill="#ff0000"/>
<path d="M428.9,514.5l2.9,5.6h-5.8z" fill="#ff0000"/>
<path d="M428.9,554.6l2.9,5.6h-5.8z" fill="#ff0000"/>
<path d="M428.9,602.4l2.9,5.6h-5.8z" fill="#ff0000"/>
<path d="M554.3,514.5l2.9,5.6h-5.8z" fill="#000000"/>
<path d="M518.5,577.9l2.9,5.6h-5.8z" fill="#000000"/>
<path d="M537.5,605.8l2.9,5.6h-5.8z" fill="#000000"/>
<path d="M395.3,617.5l2.9,5.6h-5.8z" fill="#ff0000"/>
<path d="M395.3,637.3l2.9,5.6h-5.8z" fill="#ff0000"/>
<path d="M412.2,614.0l2.9,5.6h-5.8z" fill="#ff0000"/>
<path d="M410.0,626.1l2.9,5.6h-5.8z" fill="#ff0000"/>
<path d="M428.9,602.3l2.9,5.6h-5.8z" fill="#ff0000"/>
<path d="M428.9,636.4l2.9,5.6h-5.8z" fill="#ff0000"/>
<path d="M426.3,609.2l2.9,5.6h-5.8z" fill="#ff0000"/>
<path d="M426.3,626.9l2.9,5.6h-5.8z" fill="#ff0000"/>
<path d="M451.3,669.2l2.9,5.6h-5.8z" fill="#ff0000"/>
<path d="M451.3,713.9l2.9,5.6h-5.8z" fill="#ff0000"/>
<path d="M448.2,676.0l2.9,5.6h-5.8z" fill="#ff0000"/>
<path d="M459.4,678.6l2.9,5.6h-5.8z" fill="#ff0000"/>
<path d="M462.5,698.4l2.9,5.6h-5.8z" fill="#ff0000"/>
<path d="M462.5,705.3l2.9,5.6h-5.8z" fill="#ff0000"/>
<path d="M473.7,697.6l2.9,5.6h-5.8z" fill="#ff0000"/>
<path d="M473.7,704.5l2.9,5.6h-5.8z" fill="#ff0000"/>
<path d="M469.4,708.8l2.9,5.6h-5.8z" fill="#ff0000"/>
<path d="M481.5,664.5l2.9,5.6h-5.8z" fill="#ff0000"/>
<path d="M484.9,699.3l2.9,5.6h-5.8z" fill="#ff0000"/>
<path d="M484.9,723.4l2.9,5.6h-5.8z" fill="#ff0000"/>
<path d="M493.0,661.9l2.9,5.6h-5.8z" fill="#ff0000"/>
<path d="M498.4,655.0l2.9,5.6h-5.8z" fill="#ff0000"/>
<path d="M504.2,624.4l2.9,5.6h-5.8z" fill="#ff0000"/>
<path d="M504.2,666.6l2.9,5.6h-5.8z" fill="#ff0000"/>
<path d="M504.2,686.4l2.9,5.6h-5.8z" fill="#ff0000"/>
<path d="M500.8,708.8l2.9,5.6h-5.8z" fill="#ff0000"/>
<path d="M509.5,651.9l2.9,5.6h-5.8z" fill="#ff0000"/>
<path d="M513.3,614.9l2.9,5.6h-5.8z" fill="#ff0000"/>
<path d="M518.5,617.8l2.9,5.6h-5.8z" fill="#ff0000"/>
<path d="M521.1,651.6l2.9,5.6h-5.8z" fill="#ff0000"/>
<path d="M521.1,671.7l2.9,5.6h-5.8z" fill="#ff0000"/>
<path d="M521.1,678.6l2.9,5.6h-5.8z" fill="#ff0000"/>
<path d="M521.1,691.0l2.9,5.6h-5.8z" fill="#ff0000"/>
<path d="M536.6,638.1l2.9,5.6h-5.8z" fill="#ff0000"/>
<path d="M536.6,658.0l2.9,5.6h-5.8z" fill="#ff0000"/>
<path d="M536.6,672.6l2.9,5.6h-5.8z" fill="#ff0000"/>
<path d="M536.6,697.6l2.9,5.6h-5.8z" fill="#ff0000"/>
<path d="M554.3,623.5l2.9,5.6h-5.8z" fill="#ff0000"/>
<path d="M554.3,670.0l2.9,5.6h-5.8z" fill="#ff0000"/>
<path d="M554.3,701.9l2.9,5.6h-5.8z" fill="#ff0000"/>
<path d="M554.3,735.5l2.9,5.6h-5.8z" fill="#ff0000"/>
<path d="M565.4,668.8l2.9,5.6h-5.8z" fill="#ff0000"/>
<path d="M576.6,668.8l2.9,5.6h-5.8z" fill="#ff0000"/>
<path d="M576.6,684.3l2.9,5.6h-5.8z" fill="#ff0000"/>
<path d="M576.6,713.1l2.9,5.6h-5.8z" fill="#ff0000"/>
<path d="M571.0,684.3l2.9,5.6h-5.8z" fill="#ff0000"/>
<path d="M575.4,707.0l2.9,5.6h-5.8z" fill="#ff0000"/>
<path d="M586.2,702.7l2.9,5.6h-5.8z" fill="#ff0000"/>
<path d="M395.3,648.0l2.9,5.6h-5.8z" fill="#000000"/>
<path d="M395.3,685.5l2.9,5.6h-5.8z" fill="#000000"/>
<path d="M395.3,687.2l2.9,5.6h-5.8z" fill="#000000"/>
<path d="M395.3,695.0l2.9,5.6h-5.8z" fill="#000000"/>
<path d="M395.3,701.9l2.9,5.6h-5.8z" fill="#000000"/>
<path d="M395.3,718.2l2.9,5.6h-5.8z" fill="#000000"/>
<path d="M410.0,658.0l2.9,5.6h-5.8z" fill="#000000"/>
<path d="M410.0,700.2l2.9,5.6h-5.8z" fill="#000000"/>
<path d="M410.0,708.8l2.9,5.6h-5.8z" fill="#000000"/>
<path d="M410.0,711.4l2.9,5.6h-5.8z" fill="#000000"/>
<path d="M410.0,720.5l2.9,5.6h-5.8z" fill="#000000"/>
<path d="M426.3,639.0l2.9,5.6h-5.8z" fill="#000000"/>
<path d="M426.3,689.8l2.9,5.6h-5.8z" fill="#000000"/>
<path d="M426.3,698.4l2.9,5.6h-5.8z" fill="#000000"/>
<path d="M426.3,701.0l2.9,5.6h-5.8z" fill="#000000"/>
<path d="M426.3,714.8l2.9,5.6h-5.8z" fill="#000000"/>
<path d="M451.3,677.8l2.9,5.6h-5.8z" fill="#000000"/>
<path d="M451.3,680.3l2.9,5.6h-5.8z" fill="#000000"/>
<path d="M451.3,688.1l2.9,5.6h-5.8z" fill="#000000"/>
<path d="M451.3,693.3l2.9,5.6h-5.8z" fill="#000000"/>
<path d="M451.3,701.9l2.9,5.6h-5.8z" fill="#000000"/>
<path d="M451.3,708.4l2.9,5.6h-5.8z" fill="#000000"/>
<path d="M470.6,676.0l2.9,5.6h-5.8z" fill="#000000"/>
<path d="M469.4,699.8l2.9,5.6h-5.8z" fill="#000000"/>
<path d="M469.4,710.5l2.9,5.6h-5.8z" fill="#000000"/>
<path d="M469.4,717.4l2.9,5.6h-5.8z" fill="#000000"/>
<path d="M469.4,720.0l2.9,5.6h-5.8z" fill="#000000"/>
<path d="M484.9,654.5l2.9,5.6h-5.8z" fill="#000000"/>
<path d="M484.9,664.5l2.9,5.6h-5.8z" fill="#000000"/>
<path d="M484.9,679.1l2.9,5.6h-5.8z" fill="#000000"/>
<path d="M484.9,697.6l2.9,5.6h-5.8z" fill="#000000"/>
<path d="M502.1,643.3l2.9,5.6h-5.8z" fill="#000000"/>
<path d="M502.1,663.1l2.9,5.6h-5.8z" fill="#000000"/>
<path d="M502.1,699.3l2.9,5.6h-5.8z" fill="#000000"/>
<path d="M502.1,726.0l2.9,5.6h-5.8z" fill="#000000"/>
<path d="M502.1,732.9l2.9,5.6h-5.8z" fill="#000000"/>
<path d="M518.5,624.4l2.9,5.6h-5.8z" fill="#000000"/>
<path d="M518.5,634.4l2.9,5.6h-5.8z" fill="#000000"/>
<path d="M518.5,648.8l2.9,5.6h-5.8z" fill="#000000"/>
<path d="M518.5,660.5l2.9,5.6h-5.8z" fill="#000000"/>
<path d="M536.6,607.1l2.9,5.6h-5.8z" fill="#000000"/>
<path d="M536.6,680.3l2.9,5.6h-5.8z" fill="#000000"/>
<path d="M536.6,712.2l2.9,5.6h-5.8z" fill="#000000"/>
<path d="M534.0,646.8l2.9,5.6h-5.8z" fill="#000000"/>
<path d="M537.5,645.0l2.9,5.6h-5.8z" fill="#000000"/>
<path d="M554.3,739.8l2.9,5.6h-5.8z" fill="#000000"/>
<path d="M570.2,649.9l2.9,5.6h-5.8z" fill="#000000"/>
<path d="M570.2,674.3l2.9,5.6h-5.8z" fill="#000000"/>
<path d="M570.2,711.4l2.9,5.6h-5.8z" fill="#000000"/>
<path d="M575.4,695.9l2.9,5.6h-5.8z" fill="#000000"/>
<path d="M575.4,714.8l2.9,5.6h-5.8z" fill="#000000"/>
<path d="M395.3,698.4l2.9,5.6h-5.8z" fill="#0000ff"/>
<path d="M395.3,707.0l2.9,5.6h-5.8z" fill="#0000ff"/>
<path d="M395.3,711.4l2.9,5.6h-5.8z" fill="#0000ff"/>
<path d="M410.0,704.5l2.9,5.6h-5.8z" fill="#0000ff"/>
<path d="M410.0,707.0l2.9,5.6h-5.8z" fill="#0000ff"/>
<path d="M410.0,715.7l2.9,5.6h-5.8z" fill="#0000ff"/>
<path d="M428.9,666.2l2.9,5.6h-5.8z" fill="#0000ff"/>
<path d="M426.3,695.0l2.9,5.6h-5.8z" fill="#0000ff"/>
<path d="M426.3,696.7l2.9,5.6h-5.8z" fill="#0000ff"/>
<path d="M426.3,706.2l2.9,5.6h-5.8z" fill="#0000ff"/>
<path d="M426.3,713.1l2.9,5.6h-5.8z" fill="#0000ff"/>
<path d="M453.9,689.8l2.9,5.6h-5.8z" fill="#0000ff"/>
<path d="M451.3,710.5l2.9,5.6h-5.8z" fill="#0000ff"/>
<path d="M451.3,720.0l2.9,5.6h-5.8z" fill="#0000ff"/>
<path d="M451.3,735.5l2.9,5.6h-5.8z" fill="#0000ff"/>
<path d="M469.4,704.5l2.9,5.6h-5.8z" fill="#0000ff"/>
<path d="M469.4,719.5l2.9,5.6h-5.8z" fill="#0000ff"/>
<path d="M469.4,729.4l2.9,5.6h-5.8z" fill="#0000ff"/>
<path d="M469.4,732.9l2.9,5.6h-5.8z" fill="#0000ff"/>
<path d="M469.4,736.3l2.9,5.6h-5.8z" fill="#0000ff"/>
<path d="M487.5,694.1l2.9,5.6h-5.8z" fill="#0000ff"/>
<path d="M484.9,713.9l2.9,5.6h-5.8z" fill="#0000ff"/>
<path d="M484.9,727.7l2.9,5.6h-5.8z" fill="#0000ff"/>
<path d="M484.9,732.0l2.9,5.6h-5.8z" fill="#0000ff"/>
<path d="M484.9,738.1l2.9,5.6h-5.8z" fill="#0000ff"/>
<path d="M504.2,661.4l2.9,5.6h-5.8z" fill="#0000ff"/>
<path d="M504.2,728.6l2.9,5.6h-5.8z" fill="#0000ff"/>
<path d="M502.1,694.1l2.9,5.6h-5.8z" fill="#0000ff"/>
<path d="M502.1,700.2l2.9,5.6h-5.8z" fill="#0000ff"/>
<path d="M502.1,703.6l2.9,5.6h-5.8z" fill="#0000ff"/>
<path d="M502.1,708.8l2.9,5.6h-5.8z" fill="#0000ff"/>
<path d="M518.5,655.9l2.9,5.6h-5.8z" fill="#0000ff"/>
<path d="M521.1,714.8l2.9,5.6h-5.8z" fill="#0000ff"/>
<path d="M521.1,720.8l2.9,5.6h-5.8z" fill="#0000ff"/>
<path d="M521.1,726.0l2.9,5.6h-5.8z" fill="#0000ff"/>
<path d="M521.1,729.4l2.9,5.6h-5.8z" fill="#0000ff"/>
<path d="M536.6,664.5l2.9,5.6h-5.8z" fill="#0000ff"/>
<path d="M536.6,675.2l2.9,5.6h-5.8z" fill="#0000ff"/>
<path d="M536.6,686.0l2.9,5.6h-5.8z" fill="#0000ff"/>
<path d="M536.6,695.9l2.9,5.6h-5.8z" fill="#0000ff"/>
<path d="M536.6,731.2l2.9,5.6h-5.8z" fill="#0000ff"/>
<path d="M542.1,702.2l2.9,5.6h-5.8z" fill="#0000ff"/>
<path d="M544.9,715.3l2.9,5.6h-5.8z" fill="#0000ff"/>
<path d="M551.8,645.9l2.9,5.6h-5.8z" fill="#0000ff"/>
<path d="M554.3,698.4l2.9,5.6h-5.8z" fill="#0000ff"/>
<path d="M554.3,730.3l2.9,5.6h-5.8z" fill="#0000ff"/>
<path d="M570.2,706.2l2.9,5.6h-5.8z" fill="#0000ff"/>
<path d="M570.2,719.1l2.9,5.6h-5.8z" fill="#0000ff"/>
<path d="M570.2,724.3l2.9,5.6h-5.8z" fill="#0000ff"/>
<g stroke="#000" stroke-width="2.7" fill="none">
<path d="M165.5,745.0H596.3"/>
<path d="M177.5,745.0V756.5"/>
<path d="M219.2,745.0V756.5"/>
<path d="M261.0,745.0V756.5"/>
<path d="M302.8,745.0V756.5"/>
<path d="M344.5,745.0V756.5"/>
<path d="M386.2,745.0V756.5"/>
<path d="M428.0,745.0V756.5"/>
<path d="M469.8,745.0V756.5"/>
<path d="M511.5,745.0V756.5"/>
<path d="M553.2,745.0V756.5"/>
<path d="M595.0,745.0V756.5"/>
<path d="M177.5,745.0V541.5"/>
<path d="M165.5,694.1H177.5"/>
<path d="M165.5,643.2H177.5"/>
<path d="M165.5,592.4H177.5"/>
<path d="M169.5,541.5H185.5"/>
<path d="M177.5,517.5V466.2"/>
<path d="M169.5,517.5H185.5"/>
<path d="M162.5,510.0H177.5"/>
<path d="M162.5,467.5H177.5"/>
</g>
<text transform="translate(161.0,753.2) scale(1,1.090)" font-size="21.0" text-anchor="end" font-weight="bold">0.0</text>
<text transform="translate(161.0,702.3) scale(1,1.090)" font-size="21.0" text-anchor="end" font-weight="bold">0.1</text>
<text transform="translate(161.0,651.4) scale(1,1.090)" font-size="21.0" text-anchor="end" font-weight="bold">0.2</text>
<text transform="translate(161.0,600.5) scale(1,1.090)" font-size="21.0" text-anchor="end" font-weight="bold">0.3</text>
<text transform="translate(161.0,549.7) scale(1,1.090)" font-size="21.0" text-anchor="end" font-weight="bold">0.4</text>
<text transform="translate(158.0,518.2) scale(1,1.090)" font-size="21.0" text-anchor="end" font-weight="bold">0.5</text>
<text transform="translate(158.0,475.7) scale(1,1.090)" font-size="21.0" text-anchor="end" font-weight="bold">1.0</text>
<text transform="translate(177.5,780.8) scale(1,1.090)" font-size="21.0" text-anchor="middle" font-weight="bold">-10</text>
<text transform="translate(219.2,780.8) scale(1,1.090)" font-size="21.0" text-anchor="middle" font-weight="bold">-5</text>
<text transform="translate(261.0,780.8) scale(1,1.090)" font-size="21.0" text-anchor="middle" font-weight="bold">0</text>
<text transform="translate(302.8,780.8) scale(1,1.090)" font-size="21.0" text-anchor="middle" font-weight="bold">5</text>
<text transform="translate(344.5,780.8) scale(1,1.090)" font-size="21.0" text-anchor="middle" font-weight="bold">10</text>
<text transform="translate(386.2,780.8) scale(1,1.090)" font-size="21.0" text-anchor="middle" font-weight="bold">15</text>
<text transform="translate(428.0,780.8) scale(1,1.090)" font-size="21.0" text-anchor="middle" font-weight="bold">20</text>
<text transform="translate(469.8,780.8) scale(1,1.090)" font-size="21.0" text-anchor="middle" font-weight="bold">25</text>
<text transform="translate(511.5,780.8) scale(1,1.090)" font-size="21.0" text-anchor="middle" font-weight="bold">30</text>
<text transform="translate(553.2,780.8) scale(1,1.090)" font-size="21.0" text-anchor="middle" font-weight="bold">35</text>
<text transform="translate(595.0,780.8) scale(1,1.090)" font-size="21.0" text-anchor="middle" font-weight="bold">40</text>
<text transform="translate(117.5,605.5) rotate(-90) scale(1,1.035)" font-size="22.6" font-weight="bold" text-anchor="middle">Absorbance (450nm)</text>
<path d="M827.4,741.3 L827.4,722.9 C831.4,724.0 841.7,727.7 851.4,729.8 C861.1,731.9 871.4,734.3 885.7,735.6 C900.0,736.9 920.1,737.4 937.2,737.6 C954.4,737.8 971.5,737.3 988.6,736.6 C1005.7,735.9 1025.7,734.9 1040.0,733.2 C1054.3,731.5 1062.9,728.6 1074.3,726.3 C1085.7,724.0 1100.0,720.9 1108.6,719.5 C1117.2,718.1 1120.1,717.9 1125.8,717.7 C1131.5,717.5 1134.3,717.2 1142.9,718.4 C1151.5,719.5 1167.5,722.7 1177.2,724.6 C1186.9,726.5 1197.2,728.9 1201.2,729.8 L1201.2,741.3 Z" fill="#bfbfbf"/>
<path d="M827.4,741.3 L827.4,716.0 C831.4,717.1 841.7,720.3 851.4,722.9 C861.1,725.5 874.3,730.1 885.7,731.5 C897.1,732.9 910.3,733.2 920.0,731.5 C929.7,729.8 936.6,726.9 944.0,721.2 C951.4,715.5 957.7,706.9 964.6,697.2 C971.5,687.5 978.3,675.5 985.2,662.9 C992.1,650.3 999.5,633.1 1005.8,621.7 C1012.1,610.3 1017.5,600.9 1022.9,594.3 C1028.3,587.7 1033.1,582.3 1038.3,582.3 C1043.5,582.3 1048.4,586.6 1053.8,594.3 C1059.2,602.0 1065.2,616.6 1070.9,628.6 C1076.6,640.6 1082.8,656.0 1088.0,666.3 C1093.2,676.6 1097.8,685.4 1101.8,690.3 C1105.8,695.2 1107.5,696.6 1112.1,695.5 C1116.7,694.4 1122.9,688.9 1129.2,683.5 C1135.5,678.1 1143.5,667.3 1149.8,662.9 C1156.1,658.5 1160.6,657.0 1166.9,657.0 C1173.2,657.0 1180.6,660.2 1187.5,662.9 C1194.4,665.6 1204.7,671.5 1208.1,673.2 L1208.1,741.3 Z" fill="#ffc0c0"/>
<path d="M827.4,741.3 L827.4,733.2 C837.1,733.5 867.4,734.6 885.7,734.9 C904.0,735.2 920.1,734.8 937.2,734.9 C954.4,735.0 971.5,735.6 988.6,735.6 C1005.7,735.6 1022.9,736.2 1040.0,734.9 C1057.2,733.6 1077.2,730.3 1091.5,728.0 C1105.8,725.7 1114.4,722.5 1125.8,721.2 C1137.2,720.0 1148.7,719.6 1160.1,720.5 C1171.5,721.4 1187.0,725.0 1194.4,726.3 C1201.8,727.5 1203.0,727.7 1204.7,728.0 L1204.7,741.3 Z" fill="#c0c0ff"/>
<path d="M827.4,741.3 L827.4,722.9 C831.4,724.0 841.7,727.7 851.4,729.8 C861.1,731.9 871.4,734.3 885.7,735.6 C900.0,736.9 920.1,737.4 937.2,737.6 C954.4,737.8 971.5,737.3 988.6,736.6 C1005.7,735.9 1025.7,734.9 1040.0,733.2 C1054.3,731.5 1062.9,728.6 1074.3,726.3 C1085.7,724.0 1100.0,720.9 1108.6,719.5 C1117.2,718.1 1120.1,717.9 1125.8,717.7 C1131.5,717.5 1134.3,717.2 1142.9,718.4 C1151.5,719.5 1167.5,722.7 1177.2,724.6 C1186.9,726.5 1197.2,728.9 1201.2,729.8 L1201.2,741.3 Z" fill="#ba9494" clip-path="url(#cA2RR)"/>
<path d="M827.4,741.3 L827.4,722.9 C831.4,724.0 841.7,727.7 851.4,729.8 C861.1,731.9 871.4,734.3 885.7,735.6 C900.0,736.9 920.1,737.4 937.2,737.6 C954.4,737.8 971.5,737.3 988.6,736.6 C1005.7,735.9 1025.7,734.9 1040.0,733.2 C1054.3,731.5 1062.9,728.6 1074.3,726.3 C1085.7,724.0 1100.0,720.9 1108.6,719.5 C1117.2,718.1 1120.1,717.9 1125.8,717.7 C1131.5,717.5 1134.3,717.2 1142.9,718.4 C1151.5,719.5 1167.5,722.7 1177.2,724.6 C1186.9,726.5 1197.2,728.9 1201.2,729.8 L1201.2,741.3 Z" fill="#9292ba" clip-path="url(#cA2RB)"/>
<path d="M827.4,741.3 L827.4,716.0 C831.4,717.1 841.7,720.3 851.4,722.9 C861.1,725.5 874.3,730.1 885.7,731.5 C897.1,732.9 910.3,733.2 920.0,731.5 C929.7,729.8 936.6,726.9 944.0,721.2 C951.4,715.5 957.7,706.9 964.6,697.2 C971.5,687.5 978.3,675.5 985.2,662.9 C992.1,650.3 999.5,633.1 1005.8,621.7 C1012.1,610.3 1017.5,600.9 1022.9,594.3 C1028.3,587.7 1033.1,582.3 1038.3,582.3 C1043.5,582.3 1048.4,586.6 1053.8,594.3 C1059.2,602.0 1065.2,616.6 1070.9,628.6 C1076.6,640.6 1082.8,656.0 1088.0,666.3 C1093.2,676.6 1097.8,685.4 1101.8,690.3 C1105.8,695.2 1107.5,696.6 1112.1,695.5 C1116.7,694.4 1122.9,688.9 1129.2,683.5 C1135.5,678.1 1143.5,667.3 1149.8,662.9 C1156.1,658.5 1160.6,657.0 1166.9,657.0 C1173.2,657.0 1180.6,660.2 1187.5,662.9 C1194.4,665.6 1204.7,671.5 1208.1,673.2 L1208.1,741.3 Z" fill="#ba9bcd" clip-path="url(#cA2RB)"/>
<g clip-path="url(#cA2RR)"><path d="M827.4,741.3 L827.4,722.9 C831.4,724.0 841.7,727.7 851.4,729.8 C861.1,731.9 871.4,734.3 885.7,735.6 C900.0,736.9 920.1,737.4 937.2,737.6 C954.4,737.8 971.5,737.3 988.6,736.6 C1005.7,735.9 1025.7,734.9 1040.0,733.2 C1054.3,731.5 1062.9,728.6 1074.3,726.3 C1085.7,724.0 1100.0,720.9 1108.6,719.5 C1117.2,718.1 1120.1,717.9 1125.8,717.7 C1131.5,717.5 1134.3,717.2 1142.9,718.4 C1151.5,719.5 1167.5,722.7 1177.2,724.6 C1186.9,726.5 1197.2,728.9 1201.2,729.8 L1201.2,741.3 Z" fill="#8a7798" clip-path="url(#cA2RB)"/></g>
<line x1="887.8" y1="473.8" x2="887.8" y2="742.3" stroke="#000" stroke-width="4.3" stroke-linecap="round" stroke-dasharray="0 8.50"/>
<text transform="translate(887.8,458.2) scale(1,1.080)" font-size="19.0" text-anchor="middle">BCG</text>
<line x1="979.0" y1="473.8" x2="979.0" y2="742.3" stroke="#000" stroke-width="4.3" stroke-linecap="round" stroke-dasharray="0 8.50"/>
<text transform="translate(979.0,458.2) scale(1,1.080)" font-size="19.0" text-anchor="middle">V1</text>
<line x1="1012.5" y1="473.8" x2="1012.5" y2="742.3" stroke="#000" stroke-width="4.3" stroke-linecap="round" stroke-dasharray="0 8.50"/>
<text transform="translate(1012.5,458.2) scale(1,1.080)" font-size="19.0" text-anchor="middle">V2</text>
<line x1="1064.0" y1="473.8" x2="1064.0" y2="742.3" stroke="#000" stroke-width="4.3" stroke-linecap="round" stroke-dasharray="0 8.50"/>
<text transform="translate(1064.0,458.2) scale(1,1.080)" font-size="19.0" text-anchor="middle">Mtb</text>
<path d="M1004.4,468.2l2.9,5.6h-5.8z" fill="#ff0000"/>
<path d="M1004.4,494.3l2.9,5.6h-5.8z" fill="#ff0000"/>
<path d="M1004.4,506.1l2.9,5.6h-5.8z" fill="#ff0000"/>
<path d="M1004.4,568.6l2.9,5.6h-5.8z" fill="#ff0000"/>
<path d="M1004.4,578.7l2.9,5.6h-5.8z" fill="#ff0000"/>
<path d="M827.8,617.8l2.9,5.6h-5.8z" fill="#ff0000"/>
<path d="M810.6,735.6l2.9,5.6h-5.8z" fill="#ff0000"/>
<path d="M821.9,734.4l2.9,5.6h-5.8z" fill="#ff0000"/>
<path d="M844.6,737.3l2.9,5.6h-5.8z" fill="#ff0000"/>
<path d="M878.2,648.5l2.9,5.6h-5.8z" fill="#ff0000"/>
<path d="M867.0,734.8l2.9,5.6h-5.8z" fill="#ff0000"/>
<path d="M886.7,737.3l2.9,5.6h-5.8z" fill="#ff0000"/>
<path d="M889.2,729.7l2.9,5.6h-5.8z" fill="#ff0000"/>
<path d="M903.5,642.7l2.9,5.6h-5.8z" fill="#ff0000"/>
<path d="M903.5,722.2l2.9,5.6h-5.8z" fill="#ff0000"/>
<path d="M903.5,727.2l2.9,5.6h-5.8z" fill="#ff0000"/>
<path d="M897.9,733.9l2.9,5.6h-5.8z" fill="#ff0000"/>
<path d="M909.0,735.1l2.9,5.6h-5.8z" fill="#ff0000"/>
<path d="M914.9,732.3l2.9,5.6h-5.8z" fill="#ff0000"/>
<path d="M920.3,647.3l2.9,5.6h-5.8z" fill="#ff0000"/>
<path d="M926.2,729.7l2.9,5.6h-5.8z" fill="#ff0000"/>
<path d="M937.1,654.0l2.9,5.6h-5.8z" fill="#ff0000"/>
<path d="M937.1,729.7l2.9,5.6h-5.8z" fill="#ff0000"/>
<path d="M937.1,734.8l2.9,5.6h-5.8z" fill="#ff0000"/>
<path d="M942.7,739.0l2.9,5.6h-5.8z" fill="#ff0000"/>
<path d="M948.1,731.4l2.9,5.6h-5.8z" fill="#ff0000"/>
<path d="M948.1,733.9l2.9,5.6h-5.8z" fill="#ff0000"/>
<path d="M954.0,685.1l2.9,5.6h-5.8z" fill="#ff0000"/>
<path d="M959.5,736.1l2.9,5.6h-5.8z" fill="#ff0000"/>
<path d="M964.1,732.8l2.9,5.6h-5.8z" fill="#ff0000"/>
<path d="M969.9,695.2l2.9,5.6h-5.8z" fill="#ff0000"/>
<path d="M975.0,735.6l2.9,5.6h-5.8z" fill="#ff0000"/>
<path d="M976.7,732.8l2.9,5.6h-5.8z" fill="#ff0000"/>
<path d="M987.6,685.1l2.9,5.6h-5.8z" fill="#ff0000"/>
<path d="M987.6,716.3l2.9,5.6h-5.8z" fill="#ff0000"/>
<path d="M987.6,723.8l2.9,5.6h-5.8z" fill="#ff0000"/>
<path d="M987.6,734.4l2.9,5.6h-5.8z" fill="#ff0000"/>
<path d="M998.6,732.8l2.9,5.6h-5.8z" fill="#ff0000"/>
<path d="M1004.4,642.2l2.9,5.6h-5.8z" fill="#ff0000"/>
<path d="M827.8,690.7l2.9,5.6h-5.8z" fill="#000000"/>
<path d="M827.8,709.9l2.9,5.6h-5.8z" fill="#000000"/>
<path d="M827.8,731.4l2.9,5.6h-5.8z" fill="#000000"/>
<path d="M827.8,733.4l2.9,5.6h-5.8z" fill="#000000"/>
<path d="M878.2,720.5l2.9,5.6h-5.8z" fill="#000000"/>
<path d="M878.2,727.2l2.9,5.6h-5.8z" fill="#000000"/>
<path d="M878.2,731.4l2.9,5.6h-5.8z" fill="#000000"/>
<path d="M878.2,733.9l2.9,5.6h-5.8z" fill="#000000"/>
<path d="M878.2,736.5l2.9,5.6h-5.8z" fill="#000000"/>
<path d="M903.5,738.1l2.9,5.6h-5.8z" fill="#000000"/>
<path d="M920.3,738.1l2.9,5.6h-5.8z" fill="#000000"/>
<path d="M954.0,737.8l2.9,5.6h-5.8z" fill="#000000"/>
<path d="M827.8,720.1l2.9,5.6h-5.8z" fill="#0000ff"/>
<path d="M827.8,737.8l2.9,5.6h-5.8z" fill="#0000ff"/>
<path d="M878.2,686.0l2.9,5.6h-5.8z" fill="#0000ff"/>
<path d="M878.2,734.4l2.9,5.6h-5.8z" fill="#0000ff"/>
<path d="M903.5,698.6l2.9,5.6h-5.8z" fill="#0000ff"/>
<path d="M903.5,729.7l2.9,5.6h-5.8z" fill="#0000ff"/>
<path d="M903.5,733.9l2.9,5.6h-5.8z" fill="#0000ff"/>
<path d="M903.5,736.5l2.9,5.6h-5.8z" fill="#0000ff"/>
<path d="M920.3,686.0l2.9,5.6h-5.8z" fill="#0000ff"/>
<path d="M920.3,728.9l2.9,5.6h-5.8z" fill="#0000ff"/>
<path d="M920.3,731.4l2.9,5.6h-5.8z" fill="#0000ff"/>
<path d="M920.3,733.9l2.9,5.6h-5.8z" fill="#0000ff"/>
<path d="M937.1,697.4l2.9,5.6h-5.8z" fill="#0000ff"/>
<path d="M937.1,731.4l2.9,5.6h-5.8z" fill="#0000ff"/>
<path d="M937.1,738.1l2.9,5.6h-5.8z" fill="#0000ff"/>
<path d="M954.0,709.9l2.9,5.6h-5.8z" fill="#0000ff"/>
<path d="M954.0,723.8l2.9,5.6h-5.8z" fill="#0000ff"/>
<path d="M954.0,732.3l2.9,5.6h-5.8z" fill="#0000ff"/>
<path d="M969.9,701.1l2.9,5.6h-5.8z" fill="#0000ff"/>
<path d="M969.9,731.4l2.9,5.6h-5.8z" fill="#0000ff"/>
<path d="M969.9,733.1l2.9,5.6h-5.8z" fill="#0000ff"/>
<path d="M969.9,739.0l2.9,5.6h-5.8z" fill="#0000ff"/>
<path d="M987.6,703.6l2.9,5.6h-5.8z" fill="#0000ff"/>
<path d="M987.6,730.6l2.9,5.6h-5.8z" fill="#0000ff"/>
<path d="M987.6,733.1l2.9,5.6h-5.8z" fill="#0000ff"/>
<path d="M987.6,738.1l2.9,5.6h-5.8z" fill="#0000ff"/>
<path d="M1004.4,698.1l2.9,5.6h-5.8z" fill="#0000ff"/>
<path d="M1004.4,734.4l2.9,5.6h-5.8z" fill="#0000ff"/>
<path d="M1004.4,736.5l2.9,5.6h-5.8z" fill="#0000ff"/>
<path d="M1021.4,490.9l2.9,5.6h-5.8z" fill="#ff0000"/>
<path d="M1021.4,504.7l2.9,5.6h-5.8z" fill="#ff0000"/>
<path d="M1021.4,539.2l2.9,5.6h-5.8z" fill="#ff0000"/>
<path d="M1021.4,554.2l2.9,5.6h-5.8z" fill="#ff0000"/>
<path d="M1021.4,581.9l2.9,5.6h-5.8z" fill="#ff0000"/>
<path d="M1039.5,502.5l2.9,5.6h-5.8z" fill="#ff0000"/>
<path d="M1036.8,564.0l2.9,5.6h-5.8z" fill="#ff0000"/>
<path d="M1036.8,596.2l2.9,5.6h-5.8z" fill="#ff0000"/>
<path d="M1079.2,565.4l2.9,5.6h-5.8z" fill="#ff0000"/>
<path d="M1141.7,574.4l2.9,5.6h-5.8z" fill="#ff0000"/>
<path d="M1039.8,594.9l2.9,5.6h-5.8z" fill="#ff0000"/>
<path d="M1056.5,602.1l2.9,5.6h-5.8z" fill="#ff0000"/>
<path d="M1199.8,601.2l2.9,5.6h-5.8z" fill="#ff0000"/>
<path d="M1199.8,610.1l2.9,5.6h-5.8z" fill="#ff0000"/>
<path d="M1205.5,611.0l2.9,5.6h-5.8z" fill="#ff0000"/>
<path d="M1022.0,651.8l2.9,5.6h-5.8z" fill="#ff0000"/>
<path d="M1005.0,642.9l2.9,5.6h-5.8z" fill="#ff0000"/>
<path d="M1037.2,596.8l2.9,5.6h-5.8z" fill="#ff0000"/>
<path d="M1039.5,629.9l2.9,5.6h-5.8z" fill="#ff0000"/>
<path d="M1039.5,673.6l2.9,5.6h-5.8z" fill="#ff0000"/>
<path d="M1055.0,602.2l2.9,5.6h-5.8z" fill="#ff0000"/>
<path d="M1055.0,629.5l2.9,5.6h-5.8z" fill="#ff0000"/>
<path d="M1055.0,638.4l2.9,5.6h-5.8z" fill="#ff0000"/>
<path d="M1055.0,648.3l2.9,5.6h-5.8z" fill="#ff0000"/>
<path d="M1055.0,679.0l2.9,5.6h-5.8z" fill="#ff0000"/>
<path d="M1055.0,703.1l2.9,5.6h-5.8z" fill="#ff0000"/>
<path d="M1080.1,657.2l2.9,5.6h-5.8z" fill="#ff0000"/>
<path d="M1080.1,667.9l2.9,5.6h-5.8z" fill="#ff0000"/>
<path d="M1080.1,684.4l2.9,5.6h-5.8z" fill="#ff0000"/>
<path d="M1087.2,679.0l2.9,5.6h-5.8z" fill="#ff0000"/>
<path d="M1096.1,662.9l2.9,5.6h-5.8z" fill="#ff0000"/>
<path d="M1096.1,669.7l2.9,5.6h-5.8z" fill="#ff0000"/>
<path d="M1096.1,685.3l2.9,5.6h-5.8z" fill="#ff0000"/>
<path d="M1096.1,692.4l2.9,5.6h-5.8z" fill="#ff0000"/>
<path d="M1113.1,690.6l2.9,5.6h-5.8z" fill="#ff0000"/>
<path d="M1113.1,701.9l2.9,5.6h-5.8z" fill="#ff0000"/>
<path d="M1121.2,704.0l2.9,5.6h-5.8z" fill="#ff0000"/>
<path d="M1130.1,629.0l2.9,5.6h-5.8z" fill="#ff0000"/>
<path d="M1130.1,643.6l2.9,5.6h-5.8z" fill="#ff0000"/>
<path d="M1130.1,687.9l2.9,5.6h-5.8z" fill="#ff0000"/>
<path d="M1130.1,698.3l2.9,5.6h-5.8z" fill="#ff0000"/>
<path d="M1146.2,619.1l2.9,5.6h-5.8z" fill="#ff0000"/>
<path d="M1146.2,678.1l2.9,5.6h-5.8z" fill="#ff0000"/>
<path d="M1146.2,682.6l2.9,5.6h-5.8z" fill="#ff0000"/>
<path d="M1146.2,705.8l2.9,5.6h-5.8z" fill="#ff0000"/>
<path d="M1159.0,653.6l2.9,5.6h-5.8z" fill="#ff0000"/>
<path d="M1170.3,658.8l2.9,5.6h-5.8z" fill="#ff0000"/>
<path d="M1165.8,683.5l2.9,5.6h-5.8z" fill="#ff0000"/>
<path d="M1165.8,697.2l2.9,5.6h-5.8z" fill="#ff0000"/>
<path d="M1182.8,641.1l2.9,5.6h-5.8z" fill="#ff0000"/>
<path d="M1182.8,659.3l2.9,5.6h-5.8z" fill="#ff0000"/>
<path d="M1182.8,692.4l2.9,5.6h-5.8z" fill="#ff0000"/>
<path d="M1199.8,601.3l2.9,5.6h-5.8z" fill="#ff0000"/>
<path d="M1199.8,611.1l2.9,5.6h-5.8z" fill="#ff0000"/>
<path d="M1199.8,688.8l2.9,5.6h-5.8z" fill="#ff0000"/>
<path d="M1205.5,612.9l2.9,5.6h-5.8z" fill="#ff0000"/>
<path d="M1205.5,668.3l2.9,5.6h-5.8z" fill="#ff0000"/>
<path d="M1209.6,680.4l2.9,5.6h-5.8z" fill="#ff0000"/>
<path d="M1209.6,688.8l2.9,5.6h-5.8z" fill="#ff0000"/>
<path d="M1022.0,699.6l2.9,5.6h-5.8z" fill="#0000ff"/>
<path d="M1038.1,690.1l2.9,5.6h-5.8z" fill="#0000ff"/>
<path d="M1038.1,722.8l2.9,5.6h-5.8z" fill="#0000ff"/>
<path d="M1038.1,735.3l2.9,5.6h-5.8z" fill="#0000ff"/>
<path d="M1055.0,709.7l2.9,5.6h-5.8z" fill="#0000ff"/>
<path d="M1055.0,718.3l2.9,5.6h-5.8z" fill="#0000ff"/>
<path d="M1055.0,732.6l2.9,5.6h-5.8z" fill="#0000ff"/>
<path d="M1055.0,735.3l2.9,5.6h-5.8z" fill="#0000ff"/>
<path d="M1055.0,738.0l2.9,5.6h-5.8z" fill="#0000ff"/>
<path d="M1080.1,649.2l2.9,5.6h-5.8z" fill="#0000ff"/>
<path d="M1080.1,698.7l2.9,5.6h-5.8z" fill="#0000ff"/>
<path d="M1080.1,721.0l2.9,5.6h-5.8z" fill="#0000ff"/>
<path d="M1080.1,729.0l2.9,5.6h-5.8z" fill="#0000ff"/>
<path d="M1080.1,731.7l2.9,5.6h-5.8z" fill="#0000ff"/>
<path d="M1096.1,644.7l2.9,5.6h-5.8z" fill="#0000ff"/>
<path d="M1096.1,707.2l2.9,5.6h-5.8z" fill="#0000ff"/>
<path d="M1096.1,722.8l2.9,5.6h-5.8z" fill="#0000ff"/>
<path d="M1096.1,729.9l2.9,5.6h-5.8z" fill="#0000ff"/>
<path d="M1096.1,732.6l2.9,5.6h-5.8z" fill="#0000ff"/>
<path d="M1113.1,706.2l2.9,5.6h-5.8z" fill="#0000ff"/>
<path d="M1113.1,725.5l2.9,5.6h-5.8z" fill="#0000ff"/>
<path d="M1113.1,731.7l2.9,5.6h-5.8z" fill="#0000ff"/>
<path d="M1113.1,738.0l2.9,5.6h-5.8z" fill="#0000ff"/>
<path d="M1130.1,694.2l2.9,5.6h-5.8z" fill="#0000ff"/>
<path d="M1130.1,714.7l2.9,5.6h-5.8z" fill="#0000ff"/>
<path d="M1130.1,736.2l2.9,5.6h-5.8z" fill="#0000ff"/>
<path d="M1146.2,694.7l2.9,5.6h-5.8z" fill="#0000ff"/>
<path d="M1146.2,718.3l2.9,5.6h-5.8z" fill="#0000ff"/>
<path d="M1146.2,720.1l2.9,5.6h-5.8z" fill="#0000ff"/>
<path d="M1146.2,731.7l2.9,5.6h-5.8z" fill="#0000ff"/>
<path d="M1146.2,738.0l2.9,5.6h-5.8z" fill="#0000ff"/>
<path d="M1165.8,665.2l2.9,5.6h-5.8z" fill="#0000ff"/>
<path d="M1165.8,705.4l2.9,5.6h-5.8z" fill="#0000ff"/>
<path d="M1165.8,721.9l2.9,5.6h-5.8z" fill="#0000ff"/>
<path d="M1165.8,734.4l2.9,5.6h-5.8z" fill="#0000ff"/>
<path d="M1173.0,726.9l2.9,5.6h-5.8z" fill="#0000ff"/>
<path d="M1182.8,689.7l2.9,5.6h-5.8z" fill="#0000ff"/>
<path d="M1182.8,709.4l2.9,5.6h-5.8z" fill="#0000ff"/>
<path d="M1182.8,722.8l2.9,5.6h-5.8z" fill="#0000ff"/>
<path d="M1199.8,685.3l2.9,5.6h-5.8z" fill="#0000ff"/>
<path d="M1199.8,721.9l2.9,5.6h-5.8z" fill="#0000ff"/>
<path d="M1206.9,708.5l2.9,5.6h-5.8z" fill="#0000ff"/>
<path d="M1022.0,717.8l2.9,5.6h-5.8z" fill="#000000"/>
<path d="M1022.0,734.4l2.9,5.6h-5.8z" fill="#000000"/>
<path d="M1022.0,737.1l2.9,5.6h-5.8z" fill="#000000"/>
<path d="M1038.1,716.2l2.9,5.6h-5.8z" fill="#000000"/>
<path d="M1038.1,732.6l2.9,5.6h-5.8z" fill="#000000"/>
<path d="M1038.1,735.3l2.9,5.6h-5.8z" fill="#000000"/>
<path d="M1038.1,738.0l2.9,5.6h-5.8z" fill="#000000"/>
<path d="M1055.0,725.1l2.9,5.6h-5.8z" fill="#000000"/>
<path d="M1055.0,736.2l2.9,5.6h-5.8z" fill="#000000"/>
<path d="M1080.1,715.6l2.9,5.6h-5.8z" fill="#000000"/>
<path d="M1080.1,725.1l2.9,5.6h-5.8z" fill="#000000"/>
<path d="M1080.1,728.7l2.9,5.6h-5.8z" fill="#000000"/>
<path d="M1080.1,734.4l2.9,5.6h-5.8z" fill="#000000"/>
<path d="M1096.1,688.3l2.9,5.6h-5.8z" fill="#000000"/>
<path d="M1096.1,693.3l2.9,5.6h-5.8z" fill="#000000"/>
<path d="M1096.1,715.6l2.9,5.6h-5.8z" fill="#000000"/>
<path d="M1096.1,728.1l2.9,5.6h-5.8z" fill="#000000"/>
<path d="M1113.1,698.3l2.9,5.6h-5.8z" fill="#000000"/>
<path d="M1113.1,728.1l2.9,5.6h-5.8z" fill="#000000"/>
<path d="M1113.1,735.3l2.9,5.6h-5.8z" fill="#000000"/>
<path d="M1130.1,701.3l2.9,5.6h-5.8z" fill="#000000"/>
<path d="M1130.1,720.1l2.9,5.6h-5.8z" fill="#000000"/>
<path d="M1130.1,734.4l2.9,5.6h-5.8z" fill="#000000"/>
<path d="M1146.2,663.3l2.9,5.6h-5.8z" fill="#000000"/>
<path d="M1146.2,702.2l2.9,5.6h-5.8z" fill="#000000"/>
<path d="M1146.2,729.9l2.9,5.6h-5.8z" fill="#000000"/>
<path d="M1165.8,688.8l2.9,5.6h-5.8z" fill="#000000"/>
<path d="M1165.8,722.8l2.9,5.6h-5.8z" fill="#000000"/>
<path d="M1165.8,730.8l2.9,5.6h-5.8z" fill="#000000"/>
<path d="M1182.8,698.7l2.9,5.6h-5.8z" fill="#000000"/>
<path d="M1182.8,728.1l2.9,5.6h-5.8z" fill="#000000"/>
<path d="M1199.8,706.2l2.9,5.6h-5.8z" fill="#000000"/>
<path d="M1199.8,727.3l2.9,5.6h-5.8z" fill="#000000"/>
<path d="M1199.8,735.3l2.9,5.6h-5.8z" fill="#000000"/>
<path d="M1204.2,723.7l2.9,5.6h-5.8z" fill="#000000"/>
<g stroke="#000" stroke-width="2.7" fill="none">
<path d="M790.6,742.3H1224.8"/>
<path d="M802.5,742.3V753.8"/>
<path d="M844.6,742.3V753.8"/>
<path d="M886.7,742.3V753.8"/>
<path d="M928.8,742.3V753.8"/>
<path d="M970.9,742.3V753.8"/>
<path d="M1013.0,742.3V753.8"/>
<path d="M1055.1,742.3V753.8"/>
<path d="M1097.2,742.3V753.8"/>
<path d="M1139.3,742.3V753.8"/>
<path d="M1181.4,742.3V753.8"/>
<path d="M1223.5,742.3V753.8"/>
<path d="M802.6,742.3V536.5"/>
<path d="M790.6,691.0H802.6"/>
<path d="M790.6,639.5H802.6"/>
<path d="M790.6,588.0H802.6"/>
<path d="M794.6,536.5H810.6"/>
<path d="M802.6,512.0V461.0"/>
<path d="M794.6,512.0H810.6"/>
<path d="M787.6,506.2H802.6"/>
<path d="M787.6,475.7H802.6"/>
</g>
<text transform="translate(786.1,750.7) scale(1,1.090)" font-size="21.0" text-anchor="end" font-weight="bold">0.0</text>
<text transform="translate(786.1,699.2) scale(1,1.090)" font-size="21.0" text-anchor="end" font-weight="bold">0.2</text>
<text transform="translate(786.1,647.7) scale(1,1.090)" font-size="21.0" text-anchor="end" font-weight="bold">0.4</text>
<text transform="translate(786.1,596.2) scale(1,1.090)" font-size="21.0" text-anchor="end" font-weight="bold">0.6</text>
<text transform="translate(786.1,544.7) scale(1,1.090)" font-size="21.0" text-anchor="end" font-weight="bold">0.8</text>
<text transform="translate(783.1,514.4) scale(1,1.090)" font-size="21.0" text-anchor="end" font-weight="bold">1</text>
<text transform="translate(783.1,483.9) scale(1,1.090)" font-size="21.0" text-anchor="end" font-weight="bold">2</text>
<text transform="translate(802.5,778.1) scale(1,1.090)" font-size="21.0" text-anchor="middle" font-weight="bold">-10</text>
<text transform="translate(844.6,778.1) scale(1,1.090)" font-size="21.0" text-anchor="middle" font-weight="bold">-5</text>
<text transform="translate(886.7,778.1) scale(1,1.090)" font-size="21.0" text-anchor="middle" font-weight="bold">0</text>
<text transform="translate(928.8,778.1) scale(1,1.090)" font-size="21.0" text-anchor="middle" font-weight="bold">5</text>
<text transform="translate(970.9,778.1) scale(1,1.090)" font-size="21.0" text-anchor="middle" font-weight="bold">10</text>
<text transform="translate(1013.0,778.1) scale(1,1.090)" font-size="21.0" text-anchor="middle" font-weight="bold">15</text>
<text transform="translate(1055.1,778.1) scale(1,1.090)" font-size="21.0" text-anchor="middle" font-weight="bold">20</text>
<text transform="translate(1097.2,778.1) scale(1,1.090)" font-size="21.0" text-anchor="middle" font-weight="bold">25</text>
<text transform="translate(1139.3,778.1) scale(1,1.090)" font-size="21.0" text-anchor="middle" font-weight="bold">30</text>
<text transform="translate(1181.4,778.1) scale(1,1.090)" font-size="21.0" text-anchor="middle" font-weight="bold">35</text>
<text transform="translate(1223.5,778.1) scale(1,1.090)" font-size="21.0" text-anchor="middle" font-weight="bold">40</text>
<text transform="translate(742.5,600.7) rotate(-90) scale(1,1.035)" font-size="22.6" font-weight="bold" text-anchor="middle">Absorbance (450nm)</text>
<path d="M202.2,1101.0 L202.2,1011.9 C206.3,1013.9 217.2,1019.3 227.0,1023.8 C236.8,1028.3 249.7,1034.6 261.0,1039.1 C272.3,1043.6 283.6,1048.0 294.9,1051.0 C306.2,1054.0 317.6,1056.2 328.9,1056.8 C340.2,1057.4 351.6,1055.9 362.9,1054.4 C374.2,1052.9 385.6,1049.3 396.9,1047.6 C408.2,1045.9 419.5,1044.5 430.8,1044.2 C442.1,1043.9 453.5,1046.2 464.8,1045.9 C476.1,1045.6 487.5,1045.8 498.8,1042.5 C510.1,1039.2 523.2,1029.3 532.8,1026.2 C542.4,1023.1 549.8,1023.6 556.6,1023.8 C563.4,1024.0 570.8,1026.6 573.6,1027.2 L573.6,1101.0 Z" fill="#bfbfbf"/>
<path d="M202.2,1101.0 L202.2,1011.9 C206.3,1010.5 217.2,1005.9 227.0,1003.4 C236.8,1000.9 249.7,998.1 261.0,996.6 C272.3,995.1 283.6,994.1 294.9,994.3 C306.2,994.5 317.6,995.3 328.9,997.7 C340.2,1000.1 351.6,1004.4 362.9,1008.5 C374.2,1012.6 387.3,1019.0 396.9,1022.1 C406.5,1025.2 412.1,1026.9 420.6,1027.2 C429.1,1027.5 438.7,1026.3 447.8,1023.8 C456.9,1021.2 466.5,1016.0 475.0,1011.9 C483.5,1007.8 489.2,1002.9 498.8,999.0 C508.4,995.1 523.2,990.5 532.8,988.8 C542.4,987.1 548.7,988.4 556.6,988.8 C564.5,989.1 576.4,990.5 580.4,990.9 L580.4,1101.0 Z" fill="#ffc0c0"/>
<path d="M202.2,1101.0 L202.2,985.4 C209.2,985.4 231.4,985.4 244.0,985.4 C256.6,985.4 266.6,984.8 277.9,985.4 C289.2,986.0 300.6,987.3 311.9,988.8 C323.2,990.3 334.6,992.6 345.9,994.3 C357.2,996.0 368.6,997.2 379.9,999.0 C391.2,1000.8 402.6,1004.0 413.9,1005.1 C425.2,1006.2 436.5,1006.9 447.8,1005.8 C459.1,1004.7 471.6,1002.4 481.8,998.3 C492.0,994.2 500.5,986.7 509.0,981.4 C517.5,976.1 526.0,968.1 532.8,966.7 C539.6,965.3 544.7,968.8 549.8,972.9 C554.9,977.0 559.1,985.9 563.4,991.5 C567.6,997.1 573.3,1004.2 575.3,1006.8 L575.3,1101.0 Z" fill="#c0c0ff"/>
<path d="M202.2,1101.0 L202.2,1011.9 C206.3,1013.9 217.2,1019.3 227.0,1023.8 C236.8,1028.3 249.7,1034.6 261.0,1039.1 C272.3,1043.6 283.6,1048.0 294.9,1051.0 C306.2,1054.0 317.6,1056.2 328.9,1056.8 C340.2,1057.4 351.6,1055.9 362.9,1054.4 C374.2,1052.9 385.6,1049.3 396.9,1047.6 C408.2,1045.9 419.5,1044.5 430.8,1044.2 C442.1,1043.9 453.5,1046.2 464.8,1045.9 C476.1,1045.6 487.5,1045.8 498.8,1042.5 C510.1,1039.2 523.2,1029.3 532.8,1026.2 C542.4,1023.1 549.8,1023.6 556.6,1023.8 C563.4,1024.0 570.8,1026.6 573.6,1027.2 L573.6,1101.0 Z" fill="#ba9494" clip-path="url(#cA3LR)"/>
<path d="M202.2,1101.0 L202.2,1011.9 C206.3,1013.9 217.2,1019.3 227.0,1023.8 C236.8,1028.3 249.7,1034.6 261.0,1039.1 C272.3,1043.6 283.6,1048.0 294.9,1051.0 C306.2,1054.0 317.6,1056.2 328.9,1056.8 C340.2,1057.4 351.6,1055.9 362.9,1054.4 C374.2,1052.9 385.6,1049.3 396.9,1047.6 C408.2,1045.9 419.5,1044.5 430.8,1044.2 C442.1,1043.9 453.5,1046.2 464.8,1045.9 C476.1,1045.6 487.5,1045.8 498.8,1042.5 C510.1,1039.2 523.2,1029.3 532.8,1026.2 C542.4,1023.1 549.8,1023.6 556.6,1023.8 C563.4,1024.0 570.8,1026.6 573.6,1027.2 L573.6,1101.0 Z" fill="#9292ba" clip-path="url(#cA3LB)"/>
<path d="M202.2,1101.0 L202.2,1011.9 C206.3,1010.5 217.2,1005.9 227.0,1003.4 C236.8,1000.9 249.7,998.1 261.0,996.6 C272.3,995.1 283.6,994.1 294.9,994.3 C306.2,994.5 317.6,995.3 328.9,997.7 C340.2,1000.1 351.6,1004.4 362.9,1008.5 C374.2,1012.6 387.3,1019.0 396.9,1022.1 C406.5,1025.2 412.1,1026.9 420.6,1027.2 C429.1,1027.5 438.7,1026.3 447.8,1023.8 C456.9,1021.2 466.5,1016.0 475.0,1011.9 C483.5,1007.8 489.2,1002.9 498.8,999.0 C508.4,995.1 523.2,990.5 532.8,988.8 C542.4,987.1 548.7,988.4 556.6,988.8 C564.5,989.1 576.4,990.5 580.4,990.9 L580.4,1101.0 Z" fill="#ba9bcd" clip-path="url(#cA3LB)"/>
<g clip-path="url(#cA3LR)"><path d="M202.2,1101.0 L202.2,1011.9 C206.3,1013.9 217.2,1019.3 227.0,1023.8 C236.8,1028.3 249.7,1034.6 261.0,1039.1 C272.3,1043.6 283.6,1048.0 294.9,1051.0 C306.2,1054.0 317.6,1056.2 328.9,1056.8 C340.2,1057.4 351.6,1055.9 362.9,1054.4 C374.2,1052.9 385.6,1049.3 396.9,1047.6 C408.2,1045.9 419.5,1044.5 430.8,1044.2 C442.1,1043.9 453.5,1046.2 464.8,1045.9 C476.1,1045.6 487.5,1045.8 498.8,1042.5 C510.1,1039.2 523.2,1029.3 532.8,1026.2 C542.4,1023.1 549.8,1023.6 556.6,1023.8 C563.4,1024.0 570.8,1026.6 573.6,1027.2 L573.6,1101.0 Z" fill="#8a7798" clip-path="url(#cA3LB)"/></g>
<line x1="261.0" y1="840.0" x2="261.0" y2="1102.0" stroke="#000" stroke-width="4.3" stroke-linecap="round" stroke-dasharray="0 8.42"/>
<text transform="translate(261.0,826.0) scale(1,1.080)" font-size="19.0" text-anchor="middle">BCG</text>
<line x1="352.0" y1="840.0" x2="352.0" y2="1102.0" stroke="#000" stroke-width="4.3" stroke-linecap="round" stroke-dasharray="0 8.42"/>
<text transform="translate(352.0,826.0) scale(1,1.080)" font-size="19.0" text-anchor="middle">V1</text>
<line x1="385.5" y1="840.0" x2="385.5" y2="1102.0" stroke="#000" stroke-width="4.3" stroke-linecap="round" stroke-dasharray="0 8.42"/>
<text transform="translate(385.5,826.0) scale(1,1.080)" font-size="19.0" text-anchor="middle">V2</text>
<line x1="436.5" y1="840.0" x2="436.5" y2="1102.0" stroke="#000" stroke-width="4.3" stroke-linecap="round" stroke-dasharray="0 8.42"/>
<text transform="translate(436.5,826.0) scale(1,1.080)" font-size="19.0" text-anchor="middle">Mtb</text>
<path d="M201.9,918.0l2.9,5.6h-5.8z" fill="#0000ff"/>
<path d="M201.9,945.4l2.9,5.6h-5.8z" fill="#0000ff"/>
<path d="M252.4,937.9l2.9,5.6h-5.8z" fill="#0000ff"/>
<path d="M252.4,940.9l2.9,5.6h-5.8z" fill="#0000ff"/>
<path d="M252.4,972.9l2.9,5.6h-5.8z" fill="#0000ff"/>
<path d="M277.3,946.6l2.9,5.6h-5.8z" fill="#0000ff"/>
<path d="M277.3,950.5l2.9,5.6h-5.8z" fill="#0000ff"/>
<path d="M294.1,921.9l2.9,5.6h-5.8z" fill="#0000ff"/>
<path d="M294.1,969.8l2.9,5.6h-5.8z" fill="#0000ff"/>
<path d="M310.6,942.1l2.9,5.6h-5.8z" fill="#0000ff"/>
<path d="M310.6,961.4l2.9,5.6h-5.8z" fill="#0000ff"/>
<path d="M327.4,919.0l2.9,5.6h-5.8z" fill="#0000ff"/>
<path d="M327.4,961.4l2.9,5.6h-5.8z" fill="#0000ff"/>
<path d="M342.5,902.5l2.9,5.6h-5.8z" fill="#0000ff"/>
<path d="M342.5,925.2l2.9,5.6h-5.8z" fill="#0000ff"/>
<path d="M342.5,940.9l2.9,5.6h-5.8z" fill="#0000ff"/>
<path d="M342.5,945.4l2.9,5.6h-5.8z" fill="#0000ff"/>
<path d="M360.7,905.4l2.9,5.6h-5.8z" fill="#0000ff"/>
<path d="M360.7,970.2l2.9,5.6h-5.8z" fill="#0000ff"/>
<path d="M377.5,958.4l2.9,5.6h-5.8z" fill="#0000ff"/>
<path d="M377.5,975.7l2.9,5.6h-5.8z" fill="#0000ff"/>
<path d="M201.9,942.1l2.9,5.6h-5.8z" fill="#000000"/>
<path d="M252.4,958.4l2.9,5.6h-5.8z" fill="#000000"/>
<path d="M201.9,974.0l2.9,5.6h-5.8z" fill="#ff0000"/>
<path d="M252.4,925.2l2.9,5.6h-5.8z" fill="#ff0000"/>
<path d="M252.4,954.2l2.9,5.6h-5.8z" fill="#ff0000"/>
<path d="M252.4,971.8l2.9,5.6h-5.8z" fill="#ff0000"/>
<path d="M277.3,943.4l2.9,5.6h-5.8z" fill="#ff0000"/>
<path d="M277.3,969.0l2.9,5.6h-5.8z" fill="#ff0000"/>
<path d="M294.1,950.8l2.9,5.6h-5.8z" fill="#ff0000"/>
<path d="M294.1,960.1l2.9,5.6h-5.8z" fill="#ff0000"/>
<path d="M310.6,934.0l2.9,5.6h-5.8z" fill="#ff0000"/>
<path d="M310.6,972.3l2.9,5.6h-5.8z" fill="#ff0000"/>
<path d="M337.3,971.5l2.9,5.6h-5.8z" fill="#ff0000"/>
<path d="M348.3,968.6l2.9,5.6h-5.8z" fill="#ff0000"/>
<path d="M360.7,910.4l2.9,5.6h-5.8z" fill="#ff0000"/>
<path d="M360.7,940.7l2.9,5.6h-5.8z" fill="#ff0000"/>
<path d="M377.5,943.7l2.9,5.6h-5.8z" fill="#ff0000"/>
<path d="M201.9,997.9l2.9,5.6h-5.8z" fill="#0000ff"/>
<path d="M201.9,1024.9l2.9,5.6h-5.8z" fill="#0000ff"/>
<path d="M201.9,1031.6l2.9,5.6h-5.8z" fill="#0000ff"/>
<path d="M252.4,985.0l2.9,5.6h-5.8z" fill="#0000ff"/>
<path d="M252.4,1003.8l2.9,5.6h-5.8z" fill="#0000ff"/>
<path d="M252.4,1012.2l2.9,5.6h-5.8z" fill="#0000ff"/>
<path d="M277.3,982.3l2.9,5.6h-5.8z" fill="#0000ff"/>
<path d="M277.3,988.3l2.9,5.6h-5.8z" fill="#0000ff"/>
<path d="M277.3,1033.3l2.9,5.6h-5.8z" fill="#0000ff"/>
<path d="M277.3,1034.1l2.9,5.6h-5.8z" fill="#0000ff"/>
<path d="M294.1,995.4l2.9,5.6h-5.8z" fill="#0000ff"/>
<path d="M294.1,1028.2l2.9,5.6h-5.8z" fill="#0000ff"/>
<path d="M294.1,1054.3l2.9,5.6h-5.8z" fill="#0000ff"/>
<path d="M310.6,978.9l2.9,5.6h-5.8z" fill="#0000ff"/>
<path d="M310.6,997.1l2.9,5.6h-5.8z" fill="#0000ff"/>
<path d="M310.6,1020.3l2.9,5.6h-5.8z" fill="#0000ff"/>
<path d="M310.6,1032.4l2.9,5.6h-5.8z" fill="#0000ff"/>
<path d="M327.4,988.7l2.9,5.6h-5.8z" fill="#0000ff"/>
<path d="M327.4,995.7l2.9,5.6h-5.8z" fill="#0000ff"/>
<path d="M327.4,1035.8l2.9,5.6h-5.8z" fill="#0000ff"/>
<path d="M327.4,1045.0l2.9,5.6h-5.8z" fill="#0000ff"/>
<path d="M342.5,1036.6l2.9,5.6h-5.8z" fill="#0000ff"/>
<path d="M360.7,979.9l2.9,5.6h-5.8z" fill="#0000ff"/>
<path d="M360.7,984.5l2.9,5.6h-5.8z" fill="#0000ff"/>
<path d="M360.7,1039.2l2.9,5.6h-5.8z" fill="#0000ff"/>
<path d="M360.7,1040.8l2.9,5.6h-5.8z" fill="#0000ff"/>
<path d="M377.5,977.2l2.9,5.6h-5.8z" fill="#0000ff"/>
<path d="M377.5,982.3l2.9,5.6h-5.8z" fill="#0000ff"/>
<path d="M377.5,996.2l2.9,5.6h-5.8z" fill="#0000ff"/>
<path d="M377.5,1032.8l2.9,5.6h-5.8z" fill="#0000ff"/>
<path d="M377.5,1043.0l2.9,5.6h-5.8z" fill="#0000ff"/>
<path d="M201.9,1006.3l2.9,5.6h-5.8z" fill="#ff0000"/>
<path d="M201.9,1052.6l2.9,5.6h-5.8z" fill="#ff0000"/>
<path d="M252.4,987.0l2.9,5.6h-5.8z" fill="#ff0000"/>
<path d="M277.3,992.4l2.9,5.6h-5.8z" fill="#ff0000"/>
<path d="M277.3,1029.4l2.9,5.6h-5.8z" fill="#ff0000"/>
<path d="M277.3,1035.8l2.9,5.6h-5.8z" fill="#ff0000"/>
<path d="M294.1,990.4l2.9,5.6h-5.8z" fill="#ff0000"/>
<path d="M294.1,1020.3l2.9,5.6h-5.8z" fill="#ff0000"/>
<path d="M288.5,1043.4l2.9,5.6h-5.8z" fill="#ff0000"/>
<path d="M299.5,1043.4l2.9,5.6h-5.8z" fill="#ff0000"/>
<path d="M310.6,991.5l2.9,5.6h-5.8z" fill="#ff0000"/>
<path d="M310.6,1023.2l2.9,5.6h-5.8z" fill="#ff0000"/>
<path d="M310.6,1030.4l2.9,5.6h-5.8z" fill="#ff0000"/>
<path d="M310.6,1036.1l2.9,5.6h-5.8z" fill="#ff0000"/>
<path d="M321.8,988.7l2.9,5.6h-5.8z" fill="#ff0000"/>
<path d="M321.8,1013.1l2.9,5.6h-5.8z" fill="#ff0000"/>
<path d="M333.1,985.0l2.9,5.6h-5.8z" fill="#ff0000"/>
<path d="M333.1,1014.3l2.9,5.6h-5.8z" fill="#ff0000"/>
<path d="M342.5,983.1l2.9,5.6h-5.8z" fill="#ff0000"/>
<path d="M342.5,994.6l2.9,5.6h-5.8z" fill="#ff0000"/>
<path d="M342.5,1007.5l2.9,5.6h-5.8z" fill="#ff0000"/>
<path d="M342.5,1028.2l2.9,5.6h-5.8z" fill="#ff0000"/>
<path d="M355.0,1024.9l2.9,5.6h-5.8z" fill="#ff0000"/>
<path d="M366.4,1024.3l2.9,5.6h-5.8z" fill="#ff0000"/>
<path d="M360.7,997.1l2.9,5.6h-5.8z" fill="#ff0000"/>
<path d="M371.8,983.6l2.9,5.6h-5.8z" fill="#ff0000"/>
<path d="M371.8,1040.8l2.9,5.6h-5.8z" fill="#ff0000"/>
<path d="M377.5,1031.6l2.9,5.6h-5.8z" fill="#ff0000"/>
<path d="M382.8,987.0l2.9,5.6h-5.8z" fill="#ff0000"/>
<path d="M382.8,1039.2l2.9,5.6h-5.8z" fill="#ff0000"/>
<path d="M388.6,993.7l2.9,5.6h-5.8z" fill="#ff0000"/>
<path d="M388.6,1058.5l2.9,5.6h-5.8z" fill="#ff0000"/>
<path d="M201.9,1015.9l2.9,5.6h-5.8z" fill="#000000"/>
<path d="M201.9,1025.7l2.9,5.6h-5.8z" fill="#000000"/>
<path d="M201.9,1040.5l2.9,5.6h-5.8z" fill="#000000"/>
<path d="M201.9,1056.0l2.9,5.6h-5.8z" fill="#000000"/>
<path d="M252.4,993.4l2.9,5.6h-5.8z" fill="#000000"/>
<path d="M252.4,998.4l2.9,5.6h-5.8z" fill="#000000"/>
<path d="M252.4,1026.0l2.9,5.6h-5.8z" fill="#000000"/>
<path d="M252.4,1033.8l2.9,5.6h-5.8z" fill="#000000"/>
<path d="M252.4,1042.2l2.9,5.6h-5.8z" fill="#000000"/>
<path d="M277.3,1054.3l2.9,5.6h-5.8z" fill="#000000"/>
<path d="M294.1,1070.3l2.9,5.6h-5.8z" fill="#000000"/>
<path d="M327.4,1049.6l2.9,5.6h-5.8z" fill="#000000"/>
<path d="M395.3,943.4l2.9,5.6h-5.8z" fill="#0000ff"/>
<path d="M395.3,971.8l2.9,5.6h-5.8z" fill="#0000ff"/>
<path d="M453.9,924.6l2.9,5.6h-5.8z" fill="#0000ff"/>
<path d="M453.9,928.8l2.9,5.6h-5.8z" fill="#0000ff"/>
<path d="M453.9,937.0l2.9,5.6h-5.8z" fill="#0000ff"/>
<path d="M453.9,945.7l2.9,5.6h-5.8z" fill="#0000ff"/>
<path d="M468.2,951.7l2.9,5.6h-5.8z" fill="#0000ff"/>
<path d="M468.2,968.9l2.9,5.6h-5.8z" fill="#0000ff"/>
<path d="M487.5,967.2l2.9,5.6h-5.8z" fill="#0000ff"/>
<path d="M487.5,970.6l2.9,5.6h-5.8z" fill="#0000ff"/>
<path d="M487.5,974.9l2.9,5.6h-5.8z" fill="#0000ff"/>
<path d="M504.2,881.9l2.9,5.6h-5.8z" fill="#0000ff"/>
<path d="M504.2,933.1l2.9,5.6h-5.8z" fill="#0000ff"/>
<path d="M504.2,944.8l2.9,5.6h-5.8z" fill="#0000ff"/>
<path d="M504.2,960.7l2.9,5.6h-5.8z" fill="#0000ff"/>
<path d="M521.1,896.1l2.9,5.6h-5.8z" fill="#0000ff"/>
<path d="M521.1,926.7l2.9,5.6h-5.8z" fill="#0000ff"/>
<path d="M521.1,957.7l2.9,5.6h-5.8z" fill="#0000ff"/>
<path d="M537.5,912.9l2.9,5.6h-5.8z" fill="#0000ff"/>
<path d="M537.5,937.9l2.9,5.6h-5.8z" fill="#0000ff"/>
<path d="M537.5,974.1l2.9,5.6h-5.8z" fill="#0000ff"/>
<path d="M542.1,902.3l2.9,5.6h-5.8z" fill="#0000ff"/>
<path d="M544.9,947.4l2.9,5.6h-5.8z" fill="#0000ff"/>
<path d="M554.3,961.2l2.9,5.6h-5.8z" fill="#0000ff"/>
<path d="M554.3,972.4l2.9,5.6h-5.8z" fill="#0000ff"/>
<path d="M571.0,970.1l2.9,5.6h-5.8z" fill="#0000ff"/>
<path d="M578.3,953.4l2.9,5.6h-5.8z" fill="#0000ff"/>
<path d="M578.3,960.8l2.9,5.6h-5.8z" fill="#0000ff"/>
<path d="M451.3,947.4l2.9,5.6h-5.8z" fill="#ff0000"/>
<path d="M448.4,970.6l2.9,5.6h-5.8z" fill="#ff0000"/>
<path d="M459.4,974.9l2.9,5.6h-5.8z" fill="#ff0000"/>
<path d="M484.9,944.8l2.9,5.6h-5.8z" fill="#ff0000"/>
<path d="M487.5,971.5l2.9,5.6h-5.8z" fill="#ff0000"/>
<path d="M498.4,937.6l2.9,5.6h-5.8z" fill="#ff0000"/>
<path d="M504.2,962.9l2.9,5.6h-5.8z" fill="#ff0000"/>
<path d="M509.5,940.5l2.9,5.6h-5.8z" fill="#ff0000"/>
<path d="M513.3,915.0l2.9,5.6h-5.8z" fill="#ff0000"/>
<path d="M521.1,922.1l2.9,5.6h-5.8z" fill="#ff0000"/>
<path d="M521.1,935.0l2.9,5.6h-5.8z" fill="#ff0000"/>
<path d="M536.2,875.9l2.9,5.6h-5.8z" fill="#ff0000"/>
<path d="M536.2,928.4l2.9,5.6h-5.8z" fill="#ff0000"/>
<path d="M554.3,924.1l2.9,5.6h-5.8z" fill="#ff0000"/>
<path d="M571.0,909.1l2.9,5.6h-5.8z" fill="#ff0000"/>
<path d="M571.0,946.5l2.9,5.6h-5.8z" fill="#ff0000"/>
<path d="M576.7,895.2l2.9,5.6h-5.8z" fill="#ff0000"/>
<path d="M580.5,966.3l2.9,5.6h-5.8z" fill="#ff0000"/>
<path d="M395.3,982.6l2.9,5.6h-5.8z" fill="#0000ff"/>
<path d="M395.3,1041.2l2.9,5.6h-5.8z" fill="#0000ff"/>
<path d="M412.2,1000.4l2.9,5.6h-5.8z" fill="#0000ff"/>
<path d="M412.2,1002.1l2.9,5.6h-5.8z" fill="#0000ff"/>
<path d="M412.2,1018.1l2.9,5.6h-5.8z" fill="#0000ff"/>
<path d="M412.2,1062.4l2.9,5.6h-5.8z" fill="#0000ff"/>
<path d="M412.2,1065.0l2.9,5.6h-5.8z" fill="#0000ff"/>
<path d="M428.9,982.3l2.9,5.6h-5.8z" fill="#0000ff"/>
<path d="M428.9,984.0l2.9,5.6h-5.8z" fill="#0000ff"/>
<path d="M428.9,990.9l2.9,5.6h-5.8z" fill="#0000ff"/>
<path d="M428.9,1046.0l2.9,5.6h-5.8z" fill="#0000ff"/>
<path d="M428.9,1047.8l2.9,5.6h-5.8z" fill="#0000ff"/>
<path d="M453.9,1030.5l2.9,5.6h-5.8z" fill="#0000ff"/>
<path d="M453.9,1061.2l2.9,5.6h-5.8z" fill="#0000ff"/>
<path d="M468.2,981.4l2.9,5.6h-5.8z" fill="#0000ff"/>
<path d="M468.2,1049.1l2.9,5.6h-5.8z" fill="#0000ff"/>
<path d="M468.2,1050.3l2.9,5.6h-5.8z" fill="#0000ff"/>
<path d="M487.5,984.9l2.9,5.6h-5.8z" fill="#0000ff"/>
<path d="M487.5,1053.8l2.9,5.6h-5.8z" fill="#0000ff"/>
<path d="M487.5,1071.0l2.9,5.6h-5.8z" fill="#0000ff"/>
<path d="M504.2,1018.1l2.9,5.6h-5.8z" fill="#0000ff"/>
<path d="M504.2,1057.8l2.9,5.6h-5.8z" fill="#0000ff"/>
<path d="M518.5,1020.5l2.9,5.6h-5.8z" fill="#0000ff"/>
<path d="M521.1,1059.5l2.9,5.6h-5.8z" fill="#0000ff"/>
<path d="M537.5,1032.8l2.9,5.6h-5.8z" fill="#0000ff"/>
<path d="M537.5,1056.7l2.9,5.6h-5.8z" fill="#0000ff"/>
<path d="M554.3,1053.8l2.9,5.6h-5.8z" fill="#0000ff"/>
<path d="M570.2,989.5l2.9,5.6h-5.8z" fill="#0000ff"/>
<path d="M570.2,1060.7l2.9,5.6h-5.8z" fill="#0000ff"/>
<path d="M572.4,1057.2l2.9,5.6h-5.8z" fill="#0000ff"/>
<path d="M395.3,991.8l2.9,5.6h-5.8z" fill="#000000"/>
<path d="M395.3,1004.7l2.9,5.6h-5.8z" fill="#000000"/>
<path d="M395.3,1021.6l2.9,5.6h-5.8z" fill="#000000"/>
<path d="M395.3,1037.1l2.9,5.6h-5.8z" fill="#000000"/>
<path d="M395.3,1050.3l2.9,5.6h-5.8z" fill="#000000"/>
<path d="M395.3,1057.2l2.9,5.6h-5.8z" fill="#000000"/>
<path d="M410.0,1021.6l2.9,5.6h-5.8z" fill="#000000"/>
<path d="M410.0,1034.8l2.9,5.6h-5.8z" fill="#000000"/>
<path d="M410.0,1045.7l2.9,5.6h-5.8z" fill="#000000"/>
<path d="M410.0,1059.8l2.9,5.6h-5.8z" fill="#000000"/>
<path d="M426.3,1026.2l2.9,5.6h-5.8z" fill="#000000"/>
<path d="M426.3,1052.1l2.9,5.6h-5.8z" fill="#000000"/>
<path d="M426.3,1058.1l2.9,5.6h-5.8z" fill="#000000"/>
<path d="M426.3,1071.0l2.9,5.6h-5.8z" fill="#000000"/>
<path d="M426.3,1075.3l2.9,5.6h-5.8z" fill="#000000"/>
<path d="M451.3,1024.5l2.9,5.6h-5.8z" fill="#000000"/>
<path d="M451.3,1030.5l2.9,5.6h-5.8z" fill="#000000"/>
<path d="M451.3,1046.9l2.9,5.6h-5.8z" fill="#000000"/>
<path d="M451.3,1058.1l2.9,5.6h-5.8z" fill="#000000"/>
<path d="M451.3,1062.4l2.9,5.6h-5.8z" fill="#000000"/>
<path d="M470.6,1013.3l2.9,5.6h-5.8z" fill="#000000"/>
<path d="M470.6,1023.6l2.9,5.6h-5.8z" fill="#000000"/>
<path d="M470.6,1036.6l2.9,5.6h-5.8z" fill="#000000"/>
<path d="M470.6,1040.9l2.9,5.6h-5.8z" fill="#000000"/>
<path d="M470.6,1044.3l2.9,5.6h-5.8z" fill="#000000"/>
<path d="M484.9,1028.0l2.9,5.6h-5.8z" fill="#000000"/>
<path d="M484.9,1031.9l2.9,5.6h-5.8z" fill="#000000"/>
<path d="M484.9,1040.5l2.9,5.6h-5.8z" fill="#000000"/>
<path d="M484.9,1048.1l2.9,5.6h-5.8z" fill="#000000"/>
<path d="M484.9,1056.4l2.9,5.6h-5.8z" fill="#000000"/>
<path d="M501.8,1033.6l2.9,5.6h-5.8z" fill="#000000"/>
<path d="M501.8,1037.8l2.9,5.6h-5.8z" fill="#000000"/>
<path d="M501.8,1046.4l2.9,5.6h-5.8z" fill="#000000"/>
<path d="M501.8,1056.4l2.9,5.6h-5.8z" fill="#000000"/>
<path d="M518.5,1015.9l2.9,5.6h-5.8z" fill="#000000"/>
<path d="M518.5,1033.6l2.9,5.6h-5.8z" fill="#000000"/>
<path d="M518.5,1045.7l2.9,5.6h-5.8z" fill="#000000"/>
<path d="M518.5,1049.8l2.9,5.6h-5.8z" fill="#000000"/>
<path d="M534.0,998.3l2.9,5.6h-5.8z" fill="#000000"/>
<path d="M534.0,1016.8l2.9,5.6h-5.8z" fill="#000000"/>
<path d="M537.5,1009.0l2.9,5.6h-5.8z" fill="#000000"/>
<path d="M537.5,1015.9l2.9,5.6h-5.8z" fill="#000000"/>
<path d="M537.5,1043.5l2.9,5.6h-5.8z" fill="#000000"/>
<path d="M554.3,1032.3l2.9,5.6h-5.8z" fill="#000000"/>
<path d="M554.3,1041.7l2.9,5.6h-5.8z" fill="#000000"/>
<path d="M570.2,998.7l2.9,5.6h-5.8z" fill="#000000"/>
<path d="M570.2,1020.2l2.9,5.6h-5.8z" fill="#000000"/>
<path d="M570.2,1048.6l2.9,5.6h-5.8z" fill="#000000"/>
<path d="M575.4,1027.1l2.9,5.6h-5.8z" fill="#000000"/>
<path d="M394.5,1007.8l2.9,5.6h-5.8z" fill="#ff0000"/>
<path d="M394.5,1046.0l2.9,5.6h-5.8z" fill="#ff0000"/>
<path d="M388.8,993.5l2.9,5.6h-5.8z" fill="#ff0000"/>
<path d="M388.8,1058.4l2.9,5.6h-5.8z" fill="#ff0000"/>
<path d="M400.2,991.4l2.9,5.6h-5.8z" fill="#ff0000"/>
<path d="M400.2,1054.3l2.9,5.6h-5.8z" fill="#ff0000"/>
<path d="M406.5,993.5l2.9,5.6h-5.8z" fill="#ff0000"/>
<path d="M409.6,997.8l2.9,5.6h-5.8z" fill="#ff0000"/>
<path d="M410.0,1047.8l2.9,5.6h-5.8z" fill="#ff0000"/>
<path d="M412.2,1055.5l2.9,5.6h-5.8z" fill="#ff0000"/>
<path d="M417.7,991.3l2.9,5.6h-5.8z" fill="#ff0000"/>
<path d="M426.3,1016.8l2.9,5.6h-5.8z" fill="#ff0000"/>
<path d="M426.3,1055.5l2.9,5.6h-5.8z" fill="#ff0000"/>
<path d="M423.2,1030.9l2.9,5.6h-5.8z" fill="#ff0000"/>
<path d="M428.9,1025.0l2.9,5.6h-5.8z" fill="#ff0000"/>
<path d="M434.6,1035.7l2.9,5.6h-5.8z" fill="#ff0000"/>
<path d="M451.3,1042.6l2.9,5.6h-5.8z" fill="#ff0000"/>
<path d="M453.9,1040.0l2.9,5.6h-5.8z" fill="#ff0000"/>
<path d="M468.2,999.5l2.9,5.6h-5.8z" fill="#ff0000"/>
<path d="M468.2,1019.9l2.9,5.6h-5.8z" fill="#ff0000"/>
<path d="M468.2,1026.2l2.9,5.6h-5.8z" fill="#ff0000"/>
<path d="M468.2,1044.3l2.9,5.6h-5.8z" fill="#ff0000"/>
<path d="M470.6,979.7l2.9,5.6h-5.8z" fill="#ff0000"/>
<path d="M487.5,1032.3l2.9,5.6h-5.8z" fill="#ff0000"/>
<path d="M487.5,1060.7l2.9,5.6h-5.8z" fill="#ff0000"/>
<path d="M487.5,991.8l2.9,5.6h-5.8z" fill="#ff0000"/>
<path d="M501.8,1038.3l2.9,5.6h-5.8z" fill="#ff0000"/>
<path d="M504.2,1049.5l2.9,5.6h-5.8z" fill="#ff0000"/>
<path d="M504.2,1009.0l2.9,5.6h-5.8z" fill="#ff0000"/>
<path d="M518.5,1030.9l2.9,5.6h-5.8z" fill="#ff0000"/>
<path d="M521.1,1040.9l2.9,5.6h-5.8z" fill="#ff0000"/>
<path d="M521.1,982.0l2.9,5.6h-5.8z" fill="#ff0000"/>
<path d="M537.5,982.6l2.9,5.6h-5.8z" fill="#ff0000"/>
<path d="M537.5,1020.7l2.9,5.6h-5.8z" fill="#ff0000"/>
<path d="M537.5,1047.4l2.9,5.6h-5.8z" fill="#ff0000"/>
<path d="M548.7,1050.7l2.9,5.6h-5.8z" fill="#ff0000"/>
<path d="M551.8,1022.3l2.9,5.6h-5.8z" fill="#ff0000"/>
<path d="M559.8,1046.4l2.9,5.6h-5.8z" fill="#ff0000"/>
<path d="M570.2,1036.2l2.9,5.6h-5.8z" fill="#ff0000"/>
<path d="M576.7,1016.8l2.9,5.6h-5.8z" fill="#ff0000"/>
<path d="M580.5,1040.5l2.9,5.6h-5.8z" fill="#ff0000"/>
<g stroke="#000" stroke-width="2.7" fill="none">
<path d="M165.5,1102.0H596.3"/>
<path d="M177.5,1102.0V1113.5"/>
<path d="M219.2,1102.0V1113.5"/>
<path d="M261.0,1102.0V1113.5"/>
<path d="M302.8,1102.0V1113.5"/>
<path d="M344.5,1102.0V1113.5"/>
<path d="M386.2,1102.0V1113.5"/>
<path d="M428.0,1102.0V1113.5"/>
<path d="M469.8,1102.0V1113.5"/>
<path d="M511.5,1102.0V1113.5"/>
<path d="M553.2,1102.0V1113.5"/>
<path d="M595.0,1102.0V1113.5"/>
<path d="M177.5,1102.0V822.2"/>
<path d="M165.5,1046.3H177.5"/>
<path d="M165.5,990.6H177.5"/>
<path d="M165.5,934.9H177.5"/>
<path d="M165.5,879.2H177.5"/>
<path d="M165.5,823.5H177.5"/>
</g>
<text transform="translate(161.0,1110.2) scale(1,1.090)" font-size="21.0" text-anchor="end" font-weight="bold">0.0</text>
<text transform="translate(161.0,1054.5) scale(1,1.090)" font-size="21.0" text-anchor="end" font-weight="bold">0.2</text>
<text transform="translate(161.0,998.8) scale(1,1.090)" font-size="21.0" text-anchor="end" font-weight="bold">0.4</text>
<text transform="translate(161.0,943.1) scale(1,1.090)" font-size="21.0" text-anchor="end" font-weight="bold">0.6</text>
<text transform="translate(161.0,887.4) scale(1,1.090)" font-size="21.0" text-anchor="end" font-weight="bold">0.8</text>
<text transform="translate(161.0,831.7) scale(1,1.090)" font-size="21.0" text-anchor="end" font-weight="bold">1.0</text>
<text transform="translate(177.5,1137.8) scale(1,1.090)" font-size="21.0" text-anchor="middle" font-weight="bold">-10</text>
<text transform="translate(219.2,1137.8) scale(1,1.090)" font-size="21.0" text-anchor="middle" font-weight="bold">-5</text>
<text transform="translate(261.0,1137.8) scale(1,1.090)" font-size="21.0" text-anchor="middle" font-weight="bold">0</text>
<text transform="translate(302.8,1137.8) scale(1,1.090)" font-size="21.0" text-anchor="middle" font-weight="bold">5</text>
<text transform="translate(344.5,1137.8) scale(1,1.090)" font-size="21.0" text-anchor="middle" font-weight="bold">10</text>
<text transform="translate(386.2,1137.8) scale(1,1.090)" font-size="21.0" text-anchor="middle" font-weight="bold">15</text>
<text transform="translate(428.0,1137.8) scale(1,1.090)" font-size="21.0" text-anchor="middle" font-weight="bold">20</text>
<text transform="translate(469.8,1137.8) scale(1,1.090)" font-size="21.0" text-anchor="middle" font-weight="bold">25</text>
<text transform="translate(511.5,1137.8) scale(1,1.090)" font-size="21.0" text-anchor="middle" font-weight="bold">30</text>
<text transform="translate(553.2,1137.8) scale(1,1.090)" font-size="21.0" text-anchor="middle" font-weight="bold">35</text>
<text transform="translate(595.0,1137.8) scale(1,1.090)" font-size="21.0" text-anchor="middle" font-weight="bold">40</text>
<text transform="translate(117.3,962.5) rotate(-90) scale(1,1.035)" font-size="22.6" font-weight="bold" text-anchor="middle">Absorbance (450nm)</text>
<path d="M831.1,1108.0 L831.1,1076.2 C833.0,1077.5 838.5,1081.4 842.2,1084.1 C845.9,1086.8 849.7,1089.5 853.4,1092.2 C857.1,1094.9 860.8,1097.8 864.5,1100.4 C868.2,1103.0 872.3,1106.7 875.7,1108.0 C879.1,1108.0 867.6,1108.0 885.0,1108.0 C902.4,1108.0 962.5,1108.0 980.0,1108.0 C997.5,1108.0 984.2,1108.0 990.0,1108.0 C995.8,1105.7 1006.7,1099.9 1015.0,1094.4 C1023.3,1088.9 1031.7,1081.4 1040.0,1075.0 C1048.3,1068.6 1055.7,1062.2 1065.0,1055.8 C1074.3,1049.4 1087.9,1042.0 1096.0,1036.8 C1104.1,1031.6 1107.6,1028.5 1113.4,1024.8 C1119.2,1021.1 1124.9,1018.3 1130.6,1014.5 C1136.3,1010.7 1142.1,1006.1 1147.8,1002.0 C1153.5,997.9 1159.2,994.2 1165.0,990.0 C1170.8,985.8 1176.3,981.7 1182.3,977.0 C1188.3,972.3 1198.0,964.5 1201.2,962.0 L1201.2,1108.0 Z" fill="#bfbfbf"/>
<path d="M831.0,1108.0 L831.0,1108.0 C835.8,1107.8 850.3,1107.9 860.0,1107.0 C869.7,1106.1 877.2,1105.5 889.0,1102.8 C900.8,1100.1 917.0,1095.5 931.0,1091.0 C945.0,1086.5 959.8,1080.7 973.0,1076.0 C986.2,1071.3 999.5,1066.5 1010.0,1063.0 C1020.5,1059.5 1027.2,1056.8 1035.8,1055.0 C1044.4,1053.2 1051.7,1052.8 1061.7,1052.3 C1071.7,1051.8 1087.4,1053.1 1096.0,1052.0 C1104.6,1050.9 1107.6,1049.2 1113.4,1045.5 C1119.2,1041.8 1124.9,1035.2 1130.6,1030.0 C1136.3,1024.8 1142.1,1019.1 1147.8,1014.5 C1153.5,1009.9 1159.2,1006.3 1165.0,1002.4 C1170.8,998.5 1176.3,994.8 1182.3,991.2 C1188.3,987.6 1196.8,983.0 1201.2,981.0 C1205.7,979.0 1207.7,979.3 1209.0,979.0 L1209.0,1108.0 Z" fill="#ffc0c0"/>
<path d="M831.0,1108.0 L831.0,1108.0 C843.5,1108.0 887.9,1108.0 906.0,1107.9 C924.1,1106.2 928.4,1101.7 939.6,1097.8 C950.8,1093.9 961.6,1089.6 973.3,1084.3 C985.0,1079.0 999.6,1070.4 1010.0,1066.0 C1020.4,1061.6 1027.2,1060.0 1035.8,1058.0 C1044.4,1056.0 1051.7,1054.8 1061.7,1054.0 C1071.7,1053.2 1087.4,1055.3 1096.0,1053.0 C1104.6,1050.7 1107.6,1045.5 1113.4,1040.0 C1119.2,1034.5 1124.9,1026.5 1130.6,1020.0 C1136.3,1013.5 1143.2,1006.4 1147.8,1000.7 C1152.4,995.0 1154.9,989.7 1158.0,986.0 C1161.1,982.3 1163.2,979.1 1166.5,978.3 C1169.8,977.5 1173.9,977.4 1178.0,981.0 C1182.1,984.6 1186.7,991.8 1190.9,1000.0 C1195.2,1008.2 1201.4,1025.0 1203.5,1030.0 L1203.5,1108.0 Z" fill="#c0c0ff"/>
<path d="M831.1,1108.0 L831.1,1076.2 C833.0,1077.5 838.5,1081.4 842.2,1084.1 C845.9,1086.8 849.7,1089.5 853.4,1092.2 C857.1,1094.9 860.8,1097.8 864.5,1100.4 C868.2,1103.0 872.3,1106.7 875.7,1108.0 C879.1,1108.0 867.6,1108.0 885.0,1108.0 C902.4,1108.0 962.5,1108.0 980.0,1108.0 C997.5,1108.0 984.2,1108.0 990.0,1108.0 C995.8,1105.7 1006.7,1099.9 1015.0,1094.4 C1023.3,1088.9 1031.7,1081.4 1040.0,1075.0 C1048.3,1068.6 1055.7,1062.2 1065.0,1055.8 C1074.3,1049.4 1087.9,1042.0 1096.0,1036.8 C1104.1,1031.6 1107.6,1028.5 1113.4,1024.8 C1119.2,1021.1 1124.9,1018.3 1130.6,1014.5 C1136.3,1010.7 1142.1,1006.1 1147.8,1002.0 C1153.5,997.9 1159.2,994.2 1165.0,990.0 C1170.8,985.8 1176.3,981.7 1182.3,977.0 C1188.3,972.3 1198.0,964.5 1201.2,962.0 L1201.2,1108.0 Z" fill="#ba9494" clip-path="url(#cA3RR)"/>
<path d="M831.1,1108.0 L831.1,1076.2 C833.0,1077.5 838.5,1081.4 842.2,1084.1 C845.9,1086.8 849.7,1089.5 853.4,1092.2 C857.1,1094.9 860.8,1097.8 864.5,1100.4 C868.2,1103.0 872.3,1106.7 875.7,1108.0 C879.1,1108.0 867.6,1108.0 885.0,1108.0 C902.4,1108.0 962.5,1108.0 980.0,1108.0 C997.5,1108.0 984.2,1108.0 990.0,1108.0 C995.8,1105.7 1006.7,1099.9 1015.0,1094.4 C1023.3,1088.9 1031.7,1081.4 1040.0,1075.0 C1048.3,1068.6 1055.7,1062.2 1065.0,1055.8 C1074.3,1049.4 1087.9,1042.0 1096.0,1036.8 C1104.1,1031.6 1107.6,1028.5 1113.4,1024.8 C1119.2,1021.1 1124.9,1018.3 1130.6,1014.5 C1136.3,1010.7 1142.1,1006.1 1147.8,1002.0 C1153.5,997.9 1159.2,994.2 1165.0,990.0 C1170.8,985.8 1176.3,981.7 1182.3,977.0 C1188.3,972.3 1198.0,964.5 1201.2,962.0 L1201.2,1108.0 Z" fill="#9292ba" clip-path="url(#cA3RB)"/>
<path d="M831.0,1108.0 L831.0,1108.0 C835.8,1107.8 850.3,1107.9 860.0,1107.0 C869.7,1106.1 877.2,1105.5 889.0,1102.8 C900.8,1100.1 917.0,1095.5 931.0,1091.0 C945.0,1086.5 959.8,1080.7 973.0,1076.0 C986.2,1071.3 999.5,1066.5 1010.0,1063.0 C1020.5,1059.5 1027.2,1056.8 1035.8,1055.0 C1044.4,1053.2 1051.7,1052.8 1061.7,1052.3 C1071.7,1051.8 1087.4,1053.1 1096.0,1052.0 C1104.6,1050.9 1107.6,1049.2 1113.4,1045.5 C1119.2,1041.8 1124.9,1035.2 1130.6,1030.0 C1136.3,1024.8 1142.1,1019.1 1147.8,1014.5 C1153.5,1009.9 1159.2,1006.3 1165.0,1002.4 C1170.8,998.5 1176.3,994.8 1182.3,991.2 C1188.3,987.6 1196.8,983.0 1201.2,981.0 C1205.7,979.0 1207.7,979.3 1209.0,979.0 L1209.0,1108.0 Z" fill="#ba9bcd" clip-path="url(#cA3RB)"/>
<g clip-path="url(#cA3RR)"><path d="M831.1,1108.0 L831.1,1076.2 C833.0,1077.5 838.5,1081.4 842.2,1084.1 C845.9,1086.8 849.7,1089.5 853.4,1092.2 C857.1,1094.9 860.8,1097.8 864.5,1100.4 C868.2,1103.0 872.3,1106.7 875.7,1108.0 C879.1,1108.0 867.6,1108.0 885.0,1108.0 C902.4,1108.0 962.5,1108.0 980.0,1108.0 C997.5,1108.0 984.2,1108.0 990.0,1108.0 C995.8,1105.7 1006.7,1099.9 1015.0,1094.4 C1023.3,1088.9 1031.7,1081.4 1040.0,1075.0 C1048.3,1068.6 1055.7,1062.2 1065.0,1055.8 C1074.3,1049.4 1087.9,1042.0 1096.0,1036.8 C1104.1,1031.6 1107.6,1028.5 1113.4,1024.8 C1119.2,1021.1 1124.9,1018.3 1130.6,1014.5 C1136.3,1010.7 1142.1,1006.1 1147.8,1002.0 C1153.5,997.9 1159.2,994.2 1165.0,990.0 C1170.8,985.8 1176.3,981.7 1182.3,977.0 C1188.3,972.3 1198.0,964.5 1201.2,962.0 L1201.2,1108.0 Z" fill="#8a7798" clip-path="url(#cA3RB)"/></g>
<line x1="890.0" y1="848.5" x2="890.0" y2="1109.0" stroke="#000" stroke-width="4.3" stroke-linecap="round" stroke-dasharray="0 8.37"/>
<text transform="translate(890.0,833.5) scale(1,1.080)" font-size="19.0" text-anchor="middle">BCG</text>
<line x1="980.5" y1="848.5" x2="980.5" y2="1109.0" stroke="#000" stroke-width="4.3" stroke-linecap="round" stroke-dasharray="0 8.37"/>
<text transform="translate(980.5,833.5) scale(1,1.080)" font-size="19.0" text-anchor="middle">V1</text>
<line x1="1014.0" y1="848.5" x2="1014.0" y2="1109.0" stroke="#000" stroke-width="4.3" stroke-linecap="round" stroke-dasharray="0 8.37"/>
<text transform="translate(1014.0,833.5) scale(1,1.080)" font-size="19.0" text-anchor="middle">V2</text>
<line x1="1065.5" y1="848.5" x2="1065.5" y2="1109.0" stroke="#000" stroke-width="4.3" stroke-linecap="round" stroke-dasharray="0 8.37"/>
<text transform="translate(1065.5,833.5) scale(1,1.080)" font-size="19.0" text-anchor="middle">Mtb</text>
<path d="M1006.4,843.5l2.9,5.6h-5.8z" fill="#ff0000"/>
<path d="M989.6,972.8l2.9,5.6h-5.8z" fill="#ff0000"/>
<path d="M830.7,999.5l2.9,5.6h-5.8z" fill="#000000"/>
<path d="M830.7,1079.4l2.9,5.6h-5.8z" fill="#000000"/>
<path d="M830.7,1083.6l2.9,5.6h-5.8z" fill="#000000"/>
<path d="M830.7,1096.3l2.9,5.6h-5.8z" fill="#000000"/>
<path d="M881.1,1088.7l2.9,5.6h-5.8z" fill="#000000"/>
<path d="M881.1,1093.7l2.9,5.6h-5.8z" fill="#000000"/>
<path d="M881.1,1096.6l2.9,5.6h-5.8z" fill="#000000"/>
<path d="M881.1,1099.6l2.9,5.6h-5.8z" fill="#000000"/>
<path d="M830.7,1018.5l2.9,5.6h-5.8z" fill="#ff0000"/>
<path d="M830.7,1085.3l2.9,5.6h-5.8z" fill="#ff0000"/>
<path d="M836.5,1105.5l2.9,5.6h-5.8z" fill="#ff0000"/>
<path d="M881.1,1076.6l2.9,5.6h-5.8z" fill="#ff0000"/>
<path d="M895.0,1088.4l2.9,5.6h-5.8z" fill="#ff0000"/>
<path d="M911.5,1081.5l2.9,5.6h-5.8z" fill="#ff0000"/>
<path d="M917.2,1092.6l2.9,5.6h-5.8z" fill="#ff0000"/>
<path d="M922.8,1080.3l2.9,5.6h-5.8z" fill="#ff0000"/>
<path d="M933.7,1084.0l2.9,5.6h-5.8z" fill="#ff0000"/>
<path d="M933.7,1103.0l2.9,5.6h-5.8z" fill="#ff0000"/>
<path d="M939.3,1064.3l2.9,5.6h-5.8z" fill="#ff0000"/>
<path d="M939.3,1095.4l2.9,5.6h-5.8z" fill="#ff0000"/>
<path d="M956.1,1059.8l2.9,5.6h-5.8z" fill="#ff0000"/>
<path d="M956.1,1072.7l2.9,5.6h-5.8z" fill="#ff0000"/>
<path d="M956.1,1090.4l2.9,5.6h-5.8z" fill="#ff0000"/>
<path d="M956.1,1103.0l2.9,5.6h-5.8z" fill="#ff0000"/>
<path d="M965.7,1083.6l2.9,5.6h-5.8z" fill="#ff0000"/>
<path d="M971.6,1055.0l2.9,5.6h-5.8z" fill="#ff0000"/>
<path d="M971.6,1076.1l2.9,5.6h-5.8z" fill="#ff0000"/>
<path d="M971.6,1101.3l2.9,5.6h-5.8z" fill="#ff0000"/>
<path d="M976.6,1086.2l2.9,5.6h-5.8z" fill="#ff0000"/>
<path d="M989.6,1021.9l2.9,5.6h-5.8z" fill="#ff0000"/>
<path d="M989.6,1077.4l2.9,5.6h-5.8z" fill="#ff0000"/>
<path d="M989.6,1090.9l2.9,5.6h-5.8z" fill="#ff0000"/>
<path d="M1000.7,1072.4l2.9,5.6h-5.8z" fill="#ff0000"/>
<path d="M1006.4,991.6l2.9,5.6h-5.8z" fill="#ff0000"/>
<path d="M1006.4,1080.3l2.9,5.6h-5.8z" fill="#ff0000"/>
<path d="M1006.4,1087.0l2.9,5.6h-5.8z" fill="#ff0000"/>
<path d="M1012.0,1067.2l2.9,5.6h-5.8z" fill="#ff0000"/>
<path d="M830.7,1095.4l2.9,5.6h-5.8z" fill="#0000ff"/>
<path d="M906.0,1082.0l2.9,5.6h-5.8z" fill="#0000ff"/>
<path d="M906.0,1087.9l2.9,5.6h-5.8z" fill="#0000ff"/>
<path d="M906.0,1092.6l2.9,5.6h-5.8z" fill="#0000ff"/>
<path d="M922.8,1082.5l2.9,5.6h-5.8z" fill="#0000ff"/>
<path d="M922.8,1090.4l2.9,5.6h-5.8z" fill="#0000ff"/>
<path d="M922.8,1095.4l2.9,5.6h-5.8z" fill="#0000ff"/>
<path d="M922.8,1099.6l2.9,5.6h-5.8z" fill="#0000ff"/>
<path d="M939.3,1068.2l2.9,5.6h-5.8z" fill="#0000ff"/>
<path d="M939.3,1078.3l2.9,5.6h-5.8z" fill="#0000ff"/>
<path d="M956.1,1069.3l2.9,5.6h-5.8z" fill="#0000ff"/>
<path d="M956.1,1087.0l2.9,5.6h-5.8z" fill="#0000ff"/>
<path d="M956.1,1097.1l2.9,5.6h-5.8z" fill="#0000ff"/>
<path d="M971.6,1043.8l2.9,5.6h-5.8z" fill="#0000ff"/>
<path d="M971.6,1060.9l2.9,5.6h-5.8z" fill="#0000ff"/>
<path d="M971.6,1063.5l2.9,5.6h-5.8z" fill="#0000ff"/>
<path d="M971.6,1066.8l2.9,5.6h-5.8z" fill="#0000ff"/>
<path d="M971.6,1070.2l2.9,5.6h-5.8z" fill="#0000ff"/>
<path d="M971.6,1073.6l2.9,5.6h-5.8z" fill="#0000ff"/>
<path d="M989.6,1044.4l2.9,5.6h-5.8z" fill="#0000ff"/>
<path d="M989.6,1058.1l2.9,5.6h-5.8z" fill="#0000ff"/>
<path d="M989.6,1067.7l2.9,5.6h-5.8z" fill="#0000ff"/>
<path d="M989.6,1071.0l2.9,5.6h-5.8z" fill="#0000ff"/>
<path d="M989.6,1074.4l2.9,5.6h-5.8z" fill="#0000ff"/>
<path d="M1006.4,1038.7l2.9,5.6h-5.8z" fill="#0000ff"/>
<path d="M1006.4,1054.7l2.9,5.6h-5.8z" fill="#0000ff"/>
<path d="M1006.4,1058.4l2.9,5.6h-5.8z" fill="#0000ff"/>
<path d="M1006.4,1066.8l2.9,5.6h-5.8z" fill="#0000ff"/>
<path d="M1006.4,1071.0l2.9,5.6h-5.8z" fill="#0000ff"/>
<path d="M1006.4,1075.2l2.9,5.6h-5.8z" fill="#0000ff"/>
<path d="M1023.3,967.4l2.9,5.6h-5.8z" fill="#ff0000"/>
<path d="M1199.5,880.7l2.9,5.6h-5.8z" fill="#ff0000"/>
<path d="M1199.5,903.1l2.9,5.6h-5.8z" fill="#ff0000"/>
<path d="M1199.5,984.6l2.9,5.6h-5.8z" fill="#ff0000"/>
<path d="M1205.5,917.4l2.9,5.6h-5.8z" fill="#ff0000"/>
<path d="M1182.8,929.8l2.9,5.6h-5.8z" fill="#ff0000"/>
<path d="M1182.8,952.6l2.9,5.6h-5.8z" fill="#ff0000"/>
<path d="M1165.0,947.9l2.9,5.6h-5.8z" fill="#ff0000"/>
<path d="M1165.0,958.2l2.9,5.6h-5.8z" fill="#ff0000"/>
<path d="M1165.0,964.6l2.9,5.6h-5.8z" fill="#ff0000"/>
<path d="M1155.2,957.9l2.9,5.6h-5.8z" fill="#ff0000"/>
<path d="M1144.0,962.6l2.9,5.6h-5.8z" fill="#ff0000"/>
<path d="M1132.7,968.6l2.9,5.6h-5.8z" fill="#ff0000"/>
<path d="M1149.5,970.0l2.9,5.6h-5.8z" fill="#ff0000"/>
<path d="M1115.9,983.7l2.9,5.6h-5.8z" fill="#ff0000"/>
<path d="M1082.4,898.0l2.9,5.6h-5.8z" fill="#0000ff"/>
<path d="M1096.6,909.7l2.9,5.6h-5.8z" fill="#0000ff"/>
<path d="M1166.2,907.4l2.9,5.6h-5.8z" fill="#0000ff"/>
<path d="M1166.2,935.9l2.9,5.6h-5.8z" fill="#0000ff"/>
<path d="M1170.7,916.4l2.9,5.6h-5.8z" fill="#0000ff"/>
<path d="M1149.5,935.9l2.9,5.6h-5.8z" fill="#0000ff"/>
<path d="M1149.5,976.0l2.9,5.6h-5.8z" fill="#0000ff"/>
<path d="M1180.2,965.1l2.9,5.6h-5.8z" fill="#0000ff"/>
<path d="M1173.3,972.9l2.9,5.6h-5.8z" fill="#0000ff"/>
<path d="M1132.7,978.4l2.9,5.6h-5.8z" fill="#0000ff"/>
<path d="M1199.5,960.5l2.9,5.6h-5.8z" fill="#0000ff"/>
<path d="M1099.2,939.8l2.9,5.6h-5.8z" fill="#000000"/>
<path d="M1199.5,920.9l2.9,5.6h-5.8z" fill="#000000"/>
<path d="M1199.5,955.3l2.9,5.6h-5.8z" fill="#000000"/>
<path d="M1204.3,948.8l2.9,5.6h-5.8z" fill="#000000"/>
<path d="M1204.3,960.8l2.9,5.6h-5.8z" fill="#000000"/>
<path d="M1162.5,957.9l2.9,5.6h-5.8z" fill="#000000"/>
<path d="M1166.2,971.2l2.9,5.6h-5.8z" fill="#000000"/>
<path d="M1198.6,970.0l2.9,5.6h-5.8z" fill="#000000"/>
<path d="M1079.8,979.8l2.9,5.6h-5.8z" fill="#000000"/>
<path d="M1182.8,978.9l2.9,5.6h-5.8z" fill="#000000"/>
<path d="M1023.3,1019.0l2.9,5.6h-5.8z" fill="#ff0000"/>
<path d="M1023.3,1025.0l2.9,5.6h-5.8z" fill="#ff0000"/>
<path d="M1023.3,1054.3l2.9,5.6h-5.8z" fill="#ff0000"/>
<path d="M1017.2,1064.7l2.9,5.6h-5.8z" fill="#ff0000"/>
<path d="M1011.7,1067.2l2.9,5.6h-5.8z" fill="#ff0000"/>
<path d="M1028.6,1062.1l2.9,5.6h-5.8z" fill="#ff0000"/>
<path d="M1035.5,1087.0l2.9,5.6h-5.8z" fill="#ff0000"/>
<path d="M1038.4,1038.8l2.9,5.6h-5.8z" fill="#ff0000"/>
<path d="M1038.4,1046.6l2.9,5.6h-5.8z" fill="#ff0000"/>
<path d="M1038.4,1088.4l2.9,5.6h-5.8z" fill="#ff0000"/>
<path d="M1046.2,1082.2l2.9,5.6h-5.8z" fill="#ff0000"/>
<path d="M1055.1,1087.9l2.9,5.6h-5.8z" fill="#ff0000"/>
<path d="M1055.1,1057.8l2.9,5.6h-5.8z" fill="#ff0000"/>
<path d="M1057.4,997.8l2.9,5.6h-5.8z" fill="#ff0000"/>
<path d="M1063.4,1105.7l2.9,5.6h-5.8z" fill="#ff0000"/>
<path d="M1079.8,1048.3l2.9,5.6h-5.8z" fill="#ff0000"/>
<path d="M1079.8,1061.2l2.9,5.6h-5.8z" fill="#ff0000"/>
<path d="M1082.4,989.7l2.9,5.6h-5.8z" fill="#ff0000"/>
<path d="M1082.4,1028.1l2.9,5.6h-5.8z" fill="#ff0000"/>
<path d="M1096.6,994.5l2.9,5.6h-5.8z" fill="#ff0000"/>
<path d="M1096.6,1045.7l2.9,5.6h-5.8z" fill="#ff0000"/>
<path d="M1096.6,1066.4l2.9,5.6h-5.8z" fill="#ff0000"/>
<path d="M1099.2,1068.1l2.9,5.6h-5.8z" fill="#ff0000"/>
<path d="M1099.2,1037.1l2.9,5.6h-5.8z" fill="#ff0000"/>
<path d="M1113.4,1013.3l2.9,5.6h-5.8z" fill="#ff0000"/>
<path d="M1113.4,1069.0l2.9,5.6h-5.8z" fill="#ff0000"/>
<path d="M1115.9,983.7l2.9,5.6h-5.8z" fill="#ff0000"/>
<path d="M1115.9,1030.2l2.9,5.6h-5.8z" fill="#ff0000"/>
<path d="M1115.9,1079.3l2.9,5.6h-5.8z" fill="#ff0000"/>
<path d="M1127.1,1010.4l2.9,5.6h-5.8z" fill="#ff0000"/>
<path d="M1127.1,1059.8l2.9,5.6h-5.8z" fill="#ff0000"/>
<path d="M1132.7,1003.0l2.9,5.6h-5.8z" fill="#ff0000"/>
<path d="M1132.7,1060.3l2.9,5.6h-5.8z" fill="#ff0000"/>
<path d="M1138.3,1013.8l2.9,5.6h-5.8z" fill="#ff0000"/>
<path d="M1142.3,1013.0l2.9,5.6h-5.8z" fill="#ff0000"/>
<path d="M1147.0,1047.1l2.9,5.6h-5.8z" fill="#ff0000"/>
<path d="M1147.0,1041.4l2.9,5.6h-5.8z" fill="#ff0000"/>
<path d="M1165.9,1044.8l2.9,5.6h-5.8z" fill="#ff0000"/>
<path d="M1165.9,1051.7l2.9,5.6h-5.8z" fill="#ff0000"/>
<path d="M1182.8,1018.1l2.9,5.6h-5.8z" fill="#ff0000"/>
<path d="M1182.8,1035.4l2.9,5.6h-5.8z" fill="#ff0000"/>
<path d="M1199.5,985.4l2.9,5.6h-5.8z" fill="#ff0000"/>
<path d="M1199.5,991.4l2.9,5.6h-5.8z" fill="#ff0000"/>
<path d="M1206.9,1043.1l2.9,5.6h-5.8z" fill="#ff0000"/>
<path d="M1209.0,996.1l2.9,5.6h-5.8z" fill="#ff0000"/>
<path d="M1209.0,1015.6l2.9,5.6h-5.8z" fill="#ff0000"/>
<path d="M1024.1,1065.5l2.9,5.6h-5.8z" fill="#000000"/>
<path d="M1024.1,1069.8l2.9,5.6h-5.8z" fill="#000000"/>
<path d="M1024.1,1087.0l2.9,5.6h-5.8z" fill="#000000"/>
<path d="M1024.1,1091.4l2.9,5.6h-5.8z" fill="#000000"/>
<path d="M1038.4,1046.6l2.9,5.6h-5.8z" fill="#000000"/>
<path d="M1038.4,1056.9l2.9,5.6h-5.8z" fill="#000000"/>
<path d="M1038.4,1065.5l2.9,5.6h-5.8z" fill="#000000"/>
<path d="M1038.4,1093.6l2.9,5.6h-5.8z" fill="#000000"/>
<path d="M1038.4,1095.7l2.9,5.6h-5.8z" fill="#000000"/>
<path d="M1055.1,1056.4l2.9,5.6h-5.8z" fill="#000000"/>
<path d="M1055.1,1065.5l2.9,5.6h-5.8z" fill="#000000"/>
<path d="M1055.1,1070.7l2.9,5.6h-5.8z" fill="#000000"/>
<path d="M1055.1,1097.4l2.9,5.6h-5.8z" fill="#000000"/>
<path d="M1079.8,1018.1l2.9,5.6h-5.8z" fill="#000000"/>
<path d="M1079.8,1036.2l2.9,5.6h-5.8z" fill="#000000"/>
<path d="M1079.8,1044.0l2.9,5.6h-5.8z" fill="#000000"/>
<path d="M1079.8,1071.5l2.9,5.6h-5.8z" fill="#000000"/>
<path d="M1079.8,1075.0l2.9,5.6h-5.8z" fill="#000000"/>
<path d="M1099.2,990.9l2.9,5.6h-5.8z" fill="#000000"/>
<path d="M1099.2,1006.9l2.9,5.6h-5.8z" fill="#000000"/>
<path d="M1099.2,1016.4l2.9,5.6h-5.8z" fill="#000000"/>
<path d="M1099.2,1024.7l2.9,5.6h-5.8z" fill="#000000"/>
<path d="M1113.4,1013.3l2.9,5.6h-5.8z" fill="#000000"/>
<path d="M1113.4,1026.8l2.9,5.6h-5.8z" fill="#000000"/>
<path d="M1113.4,1028.5l2.9,5.6h-5.8z" fill="#000000"/>
<path d="M1113.4,1036.2l2.9,5.6h-5.8z" fill="#000000"/>
<path d="M1113.4,1038.0l2.9,5.6h-5.8z" fill="#000000"/>
<path d="M1130.2,1016.8l2.9,5.6h-5.8z" fill="#000000"/>
<path d="M1130.2,1031.6l2.9,5.6h-5.8z" fill="#000000"/>
<path d="M1130.2,1043.6l2.9,5.6h-5.8z" fill="#000000"/>
<path d="M1147.0,994.9l2.9,5.6h-5.8z" fill="#000000"/>
<path d="M1147.0,998.3l2.9,5.6h-5.8z" fill="#000000"/>
<path d="M1147.0,1017.3l2.9,5.6h-5.8z" fill="#000000"/>
<path d="M1147.0,1031.6l2.9,5.6h-5.8z" fill="#000000"/>
<path d="M1147.0,1038.5l2.9,5.6h-5.8z" fill="#000000"/>
<path d="M1162.5,992.0l2.9,5.6h-5.8z" fill="#000000"/>
<path d="M1165.9,1000.6l2.9,5.6h-5.8z" fill="#000000"/>
<path d="M1182.8,990.6l2.9,5.6h-5.8z" fill="#000000"/>
<path d="M1024.1,1073.3l2.9,5.6h-5.8z" fill="#0000ff"/>
<path d="M1024.1,1075.9l2.9,5.6h-5.8z" fill="#0000ff"/>
<path d="M1024.1,1080.2l2.9,5.6h-5.8z" fill="#0000ff"/>
<path d="M1024.1,1082.7l2.9,5.6h-5.8z" fill="#0000ff"/>
<path d="M1024.1,1084.5l2.9,5.6h-5.8z" fill="#0000ff"/>
<path d="M1038.4,1039.7l2.9,5.6h-5.8z" fill="#0000ff"/>
<path d="M1038.4,1043.1l2.9,5.6h-5.8z" fill="#0000ff"/>
<path d="M1038.4,1049.2l2.9,5.6h-5.8z" fill="#0000ff"/>
<path d="M1038.4,1060.3l2.9,5.6h-5.8z" fill="#0000ff"/>
<path d="M1038.4,1070.7l2.9,5.6h-5.8z" fill="#0000ff"/>
<path d="M1040.7,1016.8l2.9,5.6h-5.8z" fill="#0000ff"/>
<path d="M1055.1,1068.1l2.9,5.6h-5.8z" fill="#0000ff"/>
<path d="M1055.1,1071.5l2.9,5.6h-5.8z" fill="#0000ff"/>
<path d="M1055.1,1074.1l2.9,5.6h-5.8z" fill="#0000ff"/>
<path d="M1055.1,1081.0l2.9,5.6h-5.8z" fill="#0000ff"/>
<path d="M1055.1,1093.6l2.9,5.6h-5.8z" fill="#0000ff"/>
<path d="M1082.4,997.8l2.9,5.6h-5.8z" fill="#0000ff"/>
<path d="M1082.4,1028.1l2.9,5.6h-5.8z" fill="#0000ff"/>
<path d="M1082.4,1049.2l2.9,5.6h-5.8z" fill="#0000ff"/>
<path d="M1082.4,1059.5l2.9,5.6h-5.8z" fill="#0000ff"/>
<path d="M1082.4,1065.5l2.9,5.6h-5.8z" fill="#0000ff"/>
<path d="M1096.6,1000.6l2.9,5.6h-5.8z" fill="#0000ff"/>
<path d="M1096.6,1035.0l2.9,5.6h-5.8z" fill="#0000ff"/>
<path d="M1096.6,1036.2l2.9,5.6h-5.8z" fill="#0000ff"/>
<path d="M1096.6,1052.6l2.9,5.6h-5.8z" fill="#0000ff"/>
<path d="M1096.6,1056.9l2.9,5.6h-5.8z" fill="#0000ff"/>
<path d="M1115.9,1020.2l2.9,5.6h-5.8z" fill="#0000ff"/>
<path d="M1115.9,1022.5l2.9,5.6h-5.8z" fill="#0000ff"/>
<path d="M1115.9,1044.8l2.9,5.6h-5.8z" fill="#0000ff"/>
<path d="M1115.9,1045.7l2.9,5.6h-5.8z" fill="#0000ff"/>
<path d="M1115.9,1050.9l2.9,5.6h-5.8z" fill="#0000ff"/>
<path d="M1115.9,1072.1l2.9,5.6h-5.8z" fill="#0000ff"/>
<path d="M1132.7,1010.9l2.9,5.6h-5.8z" fill="#0000ff"/>
<path d="M1132.7,1016.4l2.9,5.6h-5.8z" fill="#0000ff"/>
<path d="M1132.7,1021.9l2.9,5.6h-5.8z" fill="#0000ff"/>
<path d="M1132.7,1065.2l2.9,5.6h-5.8z" fill="#0000ff"/>
<path d="M1147.0,1026.8l2.9,5.6h-5.8z" fill="#0000ff"/>
<path d="M1147.0,1031.9l2.9,5.6h-5.8z" fill="#0000ff"/>
<path d="M1149.5,1015.0l2.9,5.6h-5.8z" fill="#0000ff"/>
<path d="M1149.5,1032.3l2.9,5.6h-5.8z" fill="#0000ff"/>
<path d="M1165.9,1020.4l2.9,5.6h-5.8z" fill="#0000ff"/>
<path d="M1165.9,1037.4l2.9,5.6h-5.8z" fill="#0000ff"/>
<path d="M1165.9,1046.6l2.9,5.6h-5.8z" fill="#0000ff"/>
<path d="M1182.8,1009.2l2.9,5.6h-5.8z" fill="#0000ff"/>
<path d="M1182.8,1011.6l2.9,5.6h-5.8z" fill="#0000ff"/>
<path d="M1182.8,1013.3l2.9,5.6h-5.8z" fill="#0000ff"/>
<path d="M1182.8,1050.0l2.9,5.6h-5.8z" fill="#0000ff"/>
<path d="M1199.5,1001.4l2.9,5.6h-5.8z" fill="#0000ff"/>
<path d="M1199.5,1006.9l2.9,5.6h-5.8z" fill="#0000ff"/>
<path d="M1199.5,1028.5l2.9,5.6h-5.8z" fill="#0000ff"/>
<path d="M1206.9,1034.5l2.9,5.6h-5.8z" fill="#0000ff"/>
<path d="M1206.9,1056.6l2.9,5.6h-5.8z" fill="#0000ff"/>
<g stroke="#000" stroke-width="2.7" fill="none">
<path d="M793.5,1109.0H1224.3"/>
<path d="M805.5,1109.0V1120.5"/>
<path d="M847.2,1109.0V1120.5"/>
<path d="M889.0,1109.0V1120.5"/>
<path d="M930.8,1109.0V1120.5"/>
<path d="M972.5,1109.0V1120.5"/>
<path d="M1014.2,1109.0V1120.5"/>
<path d="M1056.0,1109.0V1120.5"/>
<path d="M1097.8,1109.0V1120.5"/>
<path d="M1139.5,1109.0V1120.5"/>
<path d="M1181.2,1109.0V1120.5"/>
<path d="M1223.0,1109.0V1120.5"/>
<path d="M805.5,1109.0V829.7"/>
<path d="M793.5,1039.5H805.5"/>
<path d="M793.5,970.0H805.5"/>
<path d="M793.5,900.5H805.5"/>
<path d="M793.5,831.0H805.5"/>
</g>
<text transform="translate(789.0,1117.2) scale(1,1.090)" font-size="21.0" text-anchor="end" font-weight="bold">0.0</text>
<text transform="translate(789.0,1047.7) scale(1,1.090)" font-size="21.0" text-anchor="end" font-weight="bold">0.2</text>
<text transform="translate(789.0,978.2) scale(1,1.090)" font-size="21.0" text-anchor="end" font-weight="bold">0.4</text>
<text transform="translate(789.0,908.7) scale(1,1.090)" font-size="21.0" text-anchor="end" font-weight="bold">0.6</text>
<text transform="translate(789.0,839.2) scale(1,1.090)" font-size="21.0" text-anchor="end" font-weight="bold">0.8</text>
<text transform="translate(805.5,1144.8) scale(1,1.090)" font-size="21.0" text-anchor="middle" font-weight="bold">-10</text>
<text transform="translate(847.2,1144.8) scale(1,1.090)" font-size="21.0" text-anchor="middle" font-weight="bold">-5</text>
<text transform="translate(889.0,1144.8) scale(1,1.090)" font-size="21.0" text-anchor="middle" font-weight="bold">0</text>
<text transform="translate(930.8,1144.8) scale(1,1.090)" font-size="21.0" text-anchor="middle" font-weight="bold">5</text>
<text transform="translate(972.5,1144.8) scale(1,1.090)" font-size="21.0" text-anchor="middle" font-weight="bold">10</text>
<text transform="translate(1014.2,1144.8) scale(1,1.090)" font-size="21.0" text-anchor="middle" font-weight="bold">15</text>
<text transform="translate(1056.0,1144.8) scale(1,1.090)" font-size="21.0" text-anchor="middle" font-weight="bold">20</text>
<text transform="translate(1097.8,1144.8) scale(1,1.090)" font-size="21.0" text-anchor="middle" font-weight="bold">25</text>
<text transform="translate(1139.5,1144.8) scale(1,1.090)" font-size="21.0" text-anchor="middle" font-weight="bold">30</text>
<text transform="translate(1181.2,1144.8) scale(1,1.090)" font-size="21.0" text-anchor="middle" font-weight="bold">35</text>
<text transform="translate(1223.0,1144.8) scale(1,1.090)" font-size="21.0" text-anchor="middle" font-weight="bold">40</text>
<text transform="translate(746.6,970.4) rotate(-90) scale(1,1.035)" font-size="22.6" font-weight="bold" text-anchor="middle">Absorbance (450nm)</text>
<path d="M240.4,1512.0 L240.4,1469.6 C248.7,1469.2 273.4,1467.9 290.0,1467.0 C306.6,1466.1 322.5,1465.1 340.0,1464.0 C357.5,1462.9 377.2,1461.5 395.0,1460.3 C412.8,1459.1 429.8,1458.2 447.0,1457.0 C464.2,1455.8 485.6,1455.4 498.4,1453.4 C511.2,1451.5 515.2,1448.0 524.0,1445.3 C532.8,1442.6 546.4,1438.4 550.9,1437.0 L550.9,1512.0 Z" fill="#bfbfbf"/>
<path d="M240.4,1512.0 L240.4,1459.4 C248.3,1459.2 275.0,1459.3 288.0,1458.1 C301.0,1456.9 308.9,1457.5 318.5,1452.0 C328.1,1446.5 336.6,1431.6 345.7,1424.8 C354.8,1418.0 364.4,1415.5 372.9,1411.2 C381.4,1407.0 388.2,1402.7 396.7,1399.3 C405.2,1395.9 413.7,1393.9 423.9,1390.8 C434.1,1387.7 446.5,1385.7 457.8,1380.6 C469.1,1375.5 482.2,1365.3 491.8,1360.2 C501.4,1355.1 508.8,1351.1 515.6,1350.0 C522.4,1348.9 527.5,1350.0 532.6,1353.4 C537.7,1356.8 541.7,1363.6 546.2,1370.4 C550.7,1377.2 557.5,1390.2 559.8,1394.2 L559.8,1512.0 Z" fill="#ffc0c0"/>
<path d="M240.4,1512.0 L240.4,1408.4 C243.8,1412.2 252.9,1425.1 260.8,1431.5 C268.7,1437.9 278.9,1445.5 288.0,1446.8 C297.1,1448.0 305.5,1442.6 315.1,1439.0 C324.7,1435.4 337.2,1427.2 345.7,1425.4 C354.2,1423.6 357.6,1426.3 366.1,1428.2 C374.6,1430.1 387.1,1434.3 396.7,1436.6 C406.3,1438.8 413.7,1442.0 423.9,1441.7 C434.1,1441.4 446.5,1439.1 457.8,1434.9 C469.1,1430.7 480.5,1423.7 491.8,1416.3 C503.1,1408.9 514.8,1398.9 525.8,1390.8 C536.8,1382.7 552.7,1371.5 558.1,1367.7 L558.1,1512.0 Z" fill="#c0c0ff"/>
<path d="M240.4,1512.0 L240.4,1469.6 C248.7,1469.2 273.4,1467.9 290.0,1467.0 C306.6,1466.1 322.5,1465.1 340.0,1464.0 C357.5,1462.9 377.2,1461.5 395.0,1460.3 C412.8,1459.1 429.8,1458.2 447.0,1457.0 C464.2,1455.8 485.6,1455.4 498.4,1453.4 C511.2,1451.5 515.2,1448.0 524.0,1445.3 C532.8,1442.6 546.4,1438.4 550.9,1437.0 L550.9,1512.0 Z" fill="#c09aa0" clip-path="url(#cB1LR)"/>
<path d="M240.4,1512.0 L240.4,1469.6 C248.7,1469.2 273.4,1467.9 290.0,1467.0 C306.6,1466.1 322.5,1465.1 340.0,1464.0 C357.5,1462.9 377.2,1461.5 395.0,1460.3 C412.8,1459.1 429.8,1458.2 447.0,1457.0 C464.2,1455.8 485.6,1455.4 498.4,1453.4 C511.2,1451.5 515.2,1448.0 524.0,1445.3 C532.8,1442.6 546.4,1438.4 550.9,1437.0 L550.9,1512.0 Z" fill="#9092c4" clip-path="url(#cB1LB)"/>
<path d="M240.4,1512.0 L240.4,1459.4 C248.3,1459.2 275.0,1459.3 288.0,1458.1 C301.0,1456.9 308.9,1457.5 318.5,1452.0 C328.1,1446.5 336.6,1431.6 345.7,1424.8 C354.8,1418.0 364.4,1415.5 372.9,1411.2 C381.4,1407.0 388.2,1402.7 396.7,1399.3 C405.2,1395.9 413.7,1393.9 423.9,1390.8 C434.1,1387.7 446.5,1385.7 457.8,1380.6 C469.1,1375.5 482.2,1365.3 491.8,1360.2 C501.4,1355.1 508.8,1351.1 515.6,1350.0 C522.4,1348.9 527.5,1350.0 532.6,1353.4 C537.7,1356.8 541.7,1363.6 546.2,1370.4 C550.7,1377.2 557.5,1390.2 559.8,1394.2 L559.8,1512.0 Z" fill="#ba9bcd" clip-path="url(#cB1LB)"/>
<g clip-path="url(#cB1LR)"><path d="M240.4,1512.0 L240.4,1469.6 C248.7,1469.2 273.4,1467.9 290.0,1467.0 C306.6,1466.1 322.5,1465.1 340.0,1464.0 C357.5,1462.9 377.2,1461.5 395.0,1460.3 C412.8,1459.1 429.8,1458.2 447.0,1457.0 C464.2,1455.8 485.6,1455.4 498.4,1453.4 C511.2,1451.5 515.2,1448.0 524.0,1445.3 C532.8,1442.6 546.4,1438.4 550.9,1437.0 L550.9,1512.0 Z" fill="#957aa6" clip-path="url(#cB1LB)"/></g>
<line x1="318.5" y1="1251.5" x2="318.5" y2="1513.0" stroke="#000" stroke-width="4.3" stroke-linecap="round" stroke-dasharray="0 8.40"/>
<text transform="translate(318.5,1237.0) scale(1,1.080)" font-size="19.0" text-anchor="middle">V1</text>
<line x1="424.0" y1="1251.5" x2="424.0" y2="1513.0" stroke="#000" stroke-width="4.3" stroke-linecap="round" stroke-dasharray="0 8.40"/>
<text transform="translate(424.0,1237.0) scale(1,1.080)" font-size="19.0" text-anchor="middle">V2</text>
<path d="M240.7,1267.4l2.9,5.6h-5.8z" fill="#0000ff"/>
<path d="M289.4,1328.5l2.9,5.6h-5.8z" fill="#0000ff"/>
<path d="M397.8,1370.1l2.9,5.6h-5.8z" fill="#0000ff"/>
<path d="M345.5,1276.7l2.9,5.6h-5.8z" fill="#ff0000"/>
<path d="M345.5,1358.8l2.9,5.6h-5.8z" fill="#ff0000"/>
<path d="M289.4,1358.8l2.9,5.6h-5.8z" fill="#ff0000"/>
<path d="M240.7,1390.8l2.9,5.6h-5.8z" fill="#0000ff"/>
<path d="M240.7,1425.8l2.9,5.6h-5.8z" fill="#0000ff"/>
<path d="M240.7,1457.6l2.9,5.6h-5.8z" fill="#0000ff"/>
<path d="M240.7,1483.1l2.9,5.6h-5.8z" fill="#0000ff"/>
<path d="M289.4,1447.4l2.9,5.6h-5.8z" fill="#0000ff"/>
<path d="M289.4,1450.8l2.9,5.6h-5.8z" fill="#0000ff"/>
<path d="M289.4,1453.3l2.9,5.6h-5.8z" fill="#0000ff"/>
<path d="M289.4,1477.1l2.9,5.6h-5.8z" fill="#0000ff"/>
<path d="M289.4,1503.4l2.9,5.6h-5.8z" fill="#0000ff"/>
<path d="M345.6,1383.4l2.9,5.6h-5.8z" fill="#0000ff"/>
<path d="M345.6,1401.5l2.9,5.6h-5.8z" fill="#0000ff"/>
<path d="M345.6,1410.5l2.9,5.6h-5.8z" fill="#0000ff"/>
<path d="M345.6,1420.2l2.9,5.6h-5.8z" fill="#0000ff"/>
<path d="M345.6,1449.9l2.9,5.6h-5.8z" fill="#0000ff"/>
<path d="M345.6,1469.5l2.9,5.6h-5.8z" fill="#0000ff"/>
<path d="M397.8,1425.0l2.9,5.6h-5.8z" fill="#0000ff"/>
<path d="M397.8,1435.5l2.9,5.6h-5.8z" fill="#0000ff"/>
<path d="M397.8,1439.7l2.9,5.6h-5.8z" fill="#0000ff"/>
<path d="M397.8,1465.2l2.9,5.6h-5.8z" fill="#0000ff"/>
<path d="M397.8,1481.4l2.9,5.6h-5.8z" fill="#0000ff"/>
<path d="M240.7,1395.2l2.9,5.6h-5.8z" fill="#ff0000"/>
<path d="M240.7,1489.0l2.9,5.6h-5.8z" fill="#ff0000"/>
<path d="M240.7,1495.0l2.9,5.6h-5.8z" fill="#ff0000"/>
<path d="M234.7,1454.7l2.9,5.6h-5.8z" fill="#ff0000"/>
<path d="M246.3,1456.2l2.9,5.6h-5.8z" fill="#ff0000"/>
<path d="M289.4,1387.4l2.9,5.6h-5.8z" fill="#ff0000"/>
<path d="M289.4,1426.7l2.9,5.6h-5.8z" fill="#ff0000"/>
<path d="M289.4,1475.8l2.9,5.6h-5.8z" fill="#ff0000"/>
<path d="M283.6,1457.6l2.9,5.6h-5.8z" fill="#ff0000"/>
<path d="M294.7,1462.3l2.9,5.6h-5.8z" fill="#ff0000"/>
<path d="M318.8,1423.6l2.9,5.6h-5.8z" fill="#ff0000"/>
<path d="M318.8,1453.0l2.9,5.6h-5.8z" fill="#ff0000"/>
<path d="M318.8,1464.4l2.9,5.6h-5.8z" fill="#ff0000"/>
<path d="M313.4,1506.8l2.9,5.6h-5.8z" fill="#ff0000"/>
<path d="M324.4,1505.1l2.9,5.6h-5.8z" fill="#ff0000"/>
<path d="M345.6,1427.0l2.9,5.6h-5.8z" fill="#ff0000"/>
<path d="M345.6,1452.5l2.9,5.6h-5.8z" fill="#ff0000"/>
<path d="M345.6,1464.9l2.9,5.6h-5.8z" fill="#ff0000"/>
<path d="M345.6,1488.7l2.9,5.6h-5.8z" fill="#ff0000"/>
<path d="M386.4,1384.0l2.9,5.6h-5.8z" fill="#ff0000"/>
<path d="M397.8,1387.9l2.9,5.6h-5.8z" fill="#ff0000"/>
<path d="M397.8,1397.3l2.9,5.6h-5.8z" fill="#ff0000"/>
<path d="M397.8,1420.2l2.9,5.6h-5.8z" fill="#ff0000"/>
<path d="M397.8,1460.1l2.9,5.6h-5.8z" fill="#ff0000"/>
<path d="M240.7,1472.0l2.9,5.6h-5.8z" fill="#000000"/>
<path d="M558.3,1244.6l2.9,5.6h-5.8z" fill="#0000ff"/>
<path d="M506.1,1329.5l2.9,5.6h-5.8z" fill="#0000ff"/>
<path d="M506.1,1362.9l2.9,5.6h-5.8z" fill="#0000ff"/>
<path d="M450.1,1267.8l2.9,5.6h-5.8z" fill="#ff0000"/>
<path d="M450.1,1274.4l2.9,5.6h-5.8z" fill="#ff0000"/>
<path d="M506.1,1264.9l2.9,5.6h-5.8z" fill="#ff0000"/>
<path d="M506.1,1282.5l2.9,5.6h-5.8z" fill="#ff0000"/>
<path d="M506.1,1344.1l2.9,5.6h-5.8z" fill="#ff0000"/>
<path d="M506.1,1356.9l2.9,5.6h-5.8z" fill="#ff0000"/>
<path d="M550.9,1273.8l2.9,5.6h-5.8z" fill="#ff0000"/>
<path d="M550.9,1353.9l2.9,5.6h-5.8z" fill="#ff0000"/>
<path d="M550.9,1276.8l2.9,5.6h-5.8z" fill="#000000"/>
<path d="M498.4,1374.6l2.9,5.6h-5.8z" fill="#000000"/>
<path d="M409.1,1383.5l2.9,5.6h-5.8z" fill="#ff0000"/>
<path d="M450.1,1382.5l2.9,5.6h-5.8z" fill="#ff0000"/>
<path d="M450.1,1444.2l2.9,5.6h-5.8z" fill="#ff0000"/>
<path d="M444.4,1399.4l2.9,5.6h-5.8z" fill="#ff0000"/>
<path d="M455.3,1403.3l2.9,5.6h-5.8z" fill="#ff0000"/>
<path d="M498.4,1431.2l2.9,5.6h-5.8z" fill="#ff0000"/>
<path d="M498.4,1446.2l2.9,5.6h-5.8z" fill="#ff0000"/>
<path d="M558.3,1379.0l2.9,5.6h-5.8z" fill="#ff0000"/>
<path d="M558.3,1457.9l2.9,5.6h-5.8z" fill="#ff0000"/>
<path d="M558.3,1493.2l2.9,5.6h-5.8z" fill="#ff0000"/>
<path d="M558.3,1504.1l2.9,5.6h-5.8z" fill="#ff0000"/>
<path d="M498.4,1374.9l2.9,5.6h-5.8z" fill="#000000"/>
<path d="M498.4,1454.5l2.9,5.6h-5.8z" fill="#000000"/>
<path d="M498.4,1468.3l2.9,5.6h-5.8z" fill="#000000"/>
<path d="M498.4,1477.7l2.9,5.6h-5.8z" fill="#000000"/>
<path d="M498.4,1488.9l2.9,5.6h-5.8z" fill="#000000"/>
<path d="M498.4,1491.0l2.9,5.6h-5.8z" fill="#000000"/>
<path d="M550.9,1382.1l2.9,5.6h-5.8z" fill="#000000"/>
<path d="M550.9,1404.5l2.9,5.6h-5.8z" fill="#000000"/>
<path d="M550.9,1483.4l2.9,5.6h-5.8z" fill="#000000"/>
<path d="M550.9,1490.7l2.9,5.6h-5.8z" fill="#000000"/>
<path d="M550.9,1501.3l2.9,5.6h-5.8z" fill="#000000"/>
<path d="M506.1,1416.2l2.9,5.6h-5.8z" fill="#0000ff"/>
<path d="M506.1,1426.6l2.9,5.6h-5.8z" fill="#0000ff"/>
<path d="M506.1,1429.5l2.9,5.6h-5.8z" fill="#0000ff"/>
<path d="M506.1,1440.4l2.9,5.6h-5.8z" fill="#0000ff"/>
<path d="M558.3,1392.8l2.9,5.6h-5.8z" fill="#0000ff"/>
<path d="M558.3,1402.8l2.9,5.6h-5.8z" fill="#0000ff"/>
<path d="M558.3,1418.7l2.9,5.6h-5.8z" fill="#0000ff"/>
<path d="M558.3,1432.4l2.9,5.6h-5.8z" fill="#0000ff"/>
<path d="M558.3,1488.1l2.9,5.6h-5.8z" fill="#0000ff"/>
<g stroke="#000" stroke-width="2.7" fill="none">
<path d="M176.5,1513.0H608.8"/>
<path d="M188.5,1513.0V1524.5"/>
<path d="M240.9,1513.0V1524.5"/>
<path d="M293.2,1513.0V1524.5"/>
<path d="M345.6,1513.0V1524.5"/>
<path d="M398.0,1513.0V1524.5"/>
<path d="M450.4,1513.0V1524.5"/>
<path d="M502.8,1513.0V1524.5"/>
<path d="M555.1,1513.0V1524.5"/>
<path d="M607.5,1513.0V1524.5"/>
<path d="M188.5,1513.0V1309.0"/>
<path d="M176.5,1445.3H188.5"/>
<path d="M176.5,1377.2H188.5"/>
<path d="M180.5,1309.0H196.5"/>
<path d="M188.5,1285.0V1233.7"/>
<path d="M180.5,1285.0H196.5"/>
<path d="M173.5,1275.0H188.5"/>
<path d="M173.5,1235.0H188.5"/>
</g>
<text transform="translate(172.0,1521.7) scale(1,1.090)" font-size="21.0" text-anchor="end" font-weight="bold">0.00</text>
<text transform="translate(172.0,1453.5) scale(1,1.090)" font-size="21.0" text-anchor="end" font-weight="bold">0.05</text>
<text transform="translate(172.0,1385.3) scale(1,1.090)" font-size="21.0" text-anchor="end" font-weight="bold">0.10</text>
<text transform="translate(172.0,1317.2) scale(1,1.090)" font-size="21.0" text-anchor="end" font-weight="bold">0.15</text>
<text transform="translate(169.0,1283.2) scale(1,1.090)" font-size="21.0" text-anchor="end" font-weight="bold">0.2</text>
<text transform="translate(169.0,1243.2) scale(1,1.090)" font-size="21.0" text-anchor="end" font-weight="bold">0.4</text>
<text transform="translate(188.5,1548.8) scale(1,1.090)" font-size="21.0" text-anchor="middle" font-weight="bold">6</text>
<text transform="translate(240.9,1548.8) scale(1,1.090)" font-size="21.0" text-anchor="middle" font-weight="bold">8</text>
<text transform="translate(293.2,1548.8) scale(1,1.090)" font-size="21.0" text-anchor="middle" font-weight="bold">10</text>
<text transform="translate(345.6,1548.8) scale(1,1.090)" font-size="21.0" text-anchor="middle" font-weight="bold">12</text>
<text transform="translate(398.0,1548.8) scale(1,1.090)" font-size="21.0" text-anchor="middle" font-weight="bold">14</text>
<text transform="translate(450.4,1548.8) scale(1,1.090)" font-size="21.0" text-anchor="middle" font-weight="bold">16</text>
<text transform="translate(502.8,1548.8) scale(1,1.090)" font-size="21.0" text-anchor="middle" font-weight="bold">18</text>
<text transform="translate(555.1,1548.8) scale(1,1.090)" font-size="21.0" text-anchor="middle" font-weight="bold">20</text>
<text transform="translate(607.5,1548.8) scale(1,1.090)" font-size="21.0" text-anchor="middle" font-weight="bold">22</text>
<text transform="translate(117.3,1373.7) rotate(-90) scale(1,1.035)" font-size="22.6" font-weight="bold" text-anchor="middle">Absorbance (450nm)</text>
<path d="M859.6,1513.0 L859.6,1497.5 C883.0,1497.5 947.6,1497.4 1000.0,1497.4 C1052.4,1497.4 1144.9,1497.3 1173.9,1497.3 L1173.9,1513.0 Z" fill="#bfbfbf"/>
<path d="M859.6,1513.0 L859.6,1496.6 C861.8,1498.0 868.5,1502.3 873.0,1505.0 C877.5,1507.7 880.4,1511.2 886.6,1512.5 C892.8,1513.0 903.4,1513.0 910.0,1513.0 C916.6,1512.9 920.8,1513.0 926.0,1512.0 C931.2,1510.2 936.1,1507.8 941.5,1502.0 C946.9,1496.2 952.9,1488.6 958.6,1477.0 C964.3,1465.4 969.4,1448.5 975.6,1432.6 C981.9,1416.7 989.3,1395.6 996.1,1381.4 C1002.9,1367.2 1009.2,1355.3 1016.6,1347.3 C1024.0,1339.3 1033.1,1334.2 1040.3,1333.3 C1047.5,1332.4 1053.5,1334.2 1060.0,1342.0 C1066.5,1349.8 1073.5,1369.3 1079.0,1380.0 C1084.5,1390.7 1087.7,1395.0 1092.9,1406.0 C1098.1,1417.0 1104.7,1433.7 1110.2,1445.8 C1115.7,1457.9 1121.5,1471.7 1125.8,1478.6 C1130.1,1485.5 1131.5,1484.3 1136.1,1487.3 C1140.7,1490.3 1147.7,1495.5 1153.5,1496.8 C1159.3,1498.1 1166.2,1495.7 1170.8,1495.1 C1175.4,1494.5 1179.4,1493.7 1181.1,1493.4 L1181.1,1513.0 Z" fill="#ffc0c0"/>
<path d="M859.6,1513.0 L859.6,1490.6 C867.6,1488.6 890.9,1483.8 907.4,1478.7 C923.9,1473.6 941.5,1464.5 958.6,1459.9 C975.7,1455.4 996.2,1452.7 1009.8,1451.4 C1023.4,1450.1 1030.5,1450.9 1040.0,1452.0 C1049.5,1453.1 1056.7,1454.6 1066.9,1457.9 C1077.2,1461.2 1091.7,1468.1 1101.5,1471.7 C1111.3,1475.3 1116.9,1477.1 1125.8,1479.5 C1134.7,1481.9 1145.8,1484.1 1155.0,1486.0 C1164.2,1487.9 1176.8,1490.0 1181.1,1490.8 L1181.1,1513.0 Z" fill="#c0c0ff"/>
<path d="M859.6,1513.0 L859.6,1497.5 C883.0,1497.5 947.6,1497.4 1000.0,1497.4 C1052.4,1497.4 1144.9,1497.3 1173.9,1497.3 L1173.9,1513.0 Z" fill="#c09aa0" clip-path="url(#cB1RR)"/>
<path d="M859.6,1513.0 L859.6,1497.5 C883.0,1497.5 947.6,1497.4 1000.0,1497.4 C1052.4,1497.4 1144.9,1497.3 1173.9,1497.3 L1173.9,1513.0 Z" fill="#9092c4" clip-path="url(#cB1RB)"/>
<path d="M859.6,1513.0 L859.6,1496.6 C861.8,1498.0 868.5,1502.3 873.0,1505.0 C877.5,1507.7 880.4,1511.2 886.6,1512.5 C892.8,1513.0 903.4,1513.0 910.0,1513.0 C916.6,1512.9 920.8,1513.0 926.0,1512.0 C931.2,1510.2 936.1,1507.8 941.5,1502.0 C946.9,1496.2 952.9,1488.6 958.6,1477.0 C964.3,1465.4 969.4,1448.5 975.6,1432.6 C981.9,1416.7 989.3,1395.6 996.1,1381.4 C1002.9,1367.2 1009.2,1355.3 1016.6,1347.3 C1024.0,1339.3 1033.1,1334.2 1040.3,1333.3 C1047.5,1332.4 1053.5,1334.2 1060.0,1342.0 C1066.5,1349.8 1073.5,1369.3 1079.0,1380.0 C1084.5,1390.7 1087.7,1395.0 1092.9,1406.0 C1098.1,1417.0 1104.7,1433.7 1110.2,1445.8 C1115.7,1457.9 1121.5,1471.7 1125.8,1478.6 C1130.1,1485.5 1131.5,1484.3 1136.1,1487.3 C1140.7,1490.3 1147.7,1495.5 1153.5,1496.8 C1159.3,1498.1 1166.2,1495.7 1170.8,1495.1 C1175.4,1494.5 1179.4,1493.7 1181.1,1493.4 L1181.1,1513.0 Z" fill="#ba9bcd" clip-path="url(#cB1RB)"/>
<g clip-path="url(#cB1RR)"><path d="M859.6,1513.0 L859.6,1497.5 C883.0,1497.5 947.6,1497.4 1000.0,1497.4 C1052.4,1497.4 1144.9,1497.3 1173.9,1497.3 L1173.9,1513.0 Z" fill="#957aa6" clip-path="url(#cB1RB)"/></g>
<line x1="938.0" y1="1249.0" x2="938.0" y2="1514.0" stroke="#000" stroke-width="4.3" stroke-linecap="round" stroke-dasharray="0 8.52"/>
<text transform="translate(938.0,1234.5) scale(1,1.080)" font-size="19.0" text-anchor="middle">V1</text>
<line x1="1045.5" y1="1249.0" x2="1045.5" y2="1514.0" stroke="#000" stroke-width="4.3" stroke-linecap="round" stroke-dasharray="0 8.52"/>
<text transform="translate(1045.5,1234.5) scale(1,1.080)" font-size="19.0" text-anchor="middle">V2</text>
<path d="M965.5,1274.5l2.9,5.6h-5.8z" fill="#0000ff"/>
<path d="M859.7,1466.5l2.9,5.6h-5.8z" fill="#0000ff"/>
<path d="M859.7,1492.0l2.9,5.6h-5.8z" fill="#0000ff"/>
<path d="M859.7,1493.4l2.9,5.6h-5.8z" fill="#0000ff"/>
<path d="M859.7,1499.4l2.9,5.6h-5.8z" fill="#0000ff"/>
<path d="M908.9,1457.0l2.9,5.6h-5.8z" fill="#0000ff"/>
<path d="M908.9,1481.1l2.9,5.6h-5.8z" fill="#0000ff"/>
<path d="M908.9,1490.0l2.9,5.6h-5.8z" fill="#0000ff"/>
<path d="M908.9,1492.0l2.9,5.6h-5.8z" fill="#0000ff"/>
<path d="M908.9,1499.9l2.9,5.6h-5.8z" fill="#0000ff"/>
<path d="M965.5,1469.9l2.9,5.6h-5.8z" fill="#0000ff"/>
<path d="M965.5,1493.1l2.9,5.6h-5.8z" fill="#0000ff"/>
<path d="M965.5,1495.1l2.9,5.6h-5.8z" fill="#0000ff"/>
<path d="M1018.1,1416.6l2.9,5.6h-5.8z" fill="#0000ff"/>
<path d="M1018.1,1450.9l2.9,5.6h-5.8z" fill="#0000ff"/>
<path d="M1018.1,1457.0l2.9,5.6h-5.8z" fill="#0000ff"/>
<path d="M1018.1,1463.9l2.9,5.6h-5.8z" fill="#0000ff"/>
<path d="M1018.1,1474.2l2.9,5.6h-5.8z" fill="#0000ff"/>
<path d="M1018.1,1490.3l2.9,5.6h-5.8z" fill="#0000ff"/>
<path d="M859.7,1486.5l2.9,5.6h-5.8z" fill="#ff0000"/>
<path d="M865.2,1500.3l2.9,5.6h-5.8z" fill="#ff0000"/>
<path d="M865.2,1506.3l2.9,5.6h-5.8z" fill="#ff0000"/>
<path d="M876.3,1502.3l2.9,5.6h-5.8z" fill="#ff0000"/>
<path d="M842.5,1504.0l2.9,5.6h-5.8z" fill="#ff0000"/>
<path d="M854.0,1509.7l2.9,5.6h-5.8z" fill="#ff0000"/>
<path d="M908.9,1469.0l2.9,5.6h-5.8z" fill="#ff0000"/>
<path d="M908.9,1494.3l2.9,5.6h-5.8z" fill="#ff0000"/>
<path d="M903.2,1487.4l2.9,5.6h-5.8z" fill="#ff0000"/>
<path d="M903.2,1501.1l2.9,5.6h-5.8z" fill="#ff0000"/>
<path d="M914.5,1486.9l2.9,5.6h-5.8z" fill="#ff0000"/>
<path d="M914.5,1498.2l2.9,5.6h-5.8z" fill="#ff0000"/>
<path d="M927.4,1503.7l2.9,5.6h-5.8z" fill="#ff0000"/>
<path d="M927.4,1510.5l2.9,5.6h-5.8z" fill="#ff0000"/>
<path d="M938.9,1471.6l2.9,5.6h-5.8z" fill="#ff0000"/>
<path d="M938.9,1505.1l2.9,5.6h-5.8z" fill="#ff0000"/>
<path d="M950.5,1508.0l2.9,5.6h-5.8z" fill="#ff0000"/>
<path d="M965.5,1462.5l2.9,5.6h-5.8z" fill="#ff0000"/>
<path d="M965.5,1479.2l2.9,5.6h-5.8z" fill="#ff0000"/>
<path d="M965.5,1485.7l2.9,5.6h-5.8z" fill="#ff0000"/>
<path d="M960.0,1471.5l2.9,5.6h-5.8z" fill="#ff0000"/>
<path d="M971.1,1472.8l2.9,5.6h-5.8z" fill="#ff0000"/>
<path d="M1018.1,1403.9l2.9,5.6h-5.8z" fill="#ff0000"/>
<path d="M1018.1,1414.9l2.9,5.6h-5.8z" fill="#ff0000"/>
<path d="M1018.1,1435.1l2.9,5.6h-5.8z" fill="#ff0000"/>
<path d="M859.7,1495.1l2.9,5.6h-5.8z" fill="#000000"/>
<path d="M1018.5,1253.6l2.9,5.6h-5.8z" fill="#ff0000"/>
<path d="M1018.5,1323.7l2.9,5.6h-5.8z" fill="#ff0000"/>
<path d="M1018.5,1369.6l2.9,5.6h-5.8z" fill="#ff0000"/>
<path d="M1071.2,1257.6l2.9,5.6h-5.8z" fill="#ff0000"/>
<path d="M1071.2,1265.7l2.9,5.6h-5.8z" fill="#ff0000"/>
<path d="M1071.2,1383.4l2.9,5.6h-5.8z" fill="#ff0000"/>
<path d="M1071.2,1461.3l2.9,5.6h-5.8z" fill="#ff0000"/>
<path d="M1065.5,1453.0l2.9,5.6h-5.8z" fill="#ff0000"/>
<path d="M1077.0,1454.7l2.9,5.6h-5.8z" fill="#ff0000"/>
<path d="M1120.6,1491.0l2.9,5.6h-5.8z" fill="#ff0000"/>
<path d="M1120.6,1501.1l2.9,5.6h-5.8z" fill="#ff0000"/>
<path d="M1123.2,1483.8l2.9,5.6h-5.8z" fill="#ff0000"/>
<path d="M1128.4,1412.3l2.9,5.6h-5.8z" fill="#ff0000"/>
<path d="M1128.4,1475.8l2.9,5.6h-5.8z" fill="#ff0000"/>
<path d="M1133.9,1483.8l2.9,5.6h-5.8z" fill="#ff0000"/>
<path d="M1167.8,1473.7l2.9,5.6h-5.8z" fill="#ff0000"/>
<path d="M1179.4,1473.7l2.9,5.6h-5.8z" fill="#ff0000"/>
<path d="M1181.1,1483.8l2.9,5.6h-5.8z" fill="#ff0000"/>
<path d="M1120.6,1455.5l2.9,5.6h-5.8z" fill="#000000"/>
<path d="M1120.6,1485.8l2.9,5.6h-5.8z" fill="#000000"/>
<path d="M1120.6,1496.6l2.9,5.6h-5.8z" fill="#000000"/>
<path d="M1120.6,1506.3l2.9,5.6h-5.8z" fill="#000000"/>
<path d="M1173.7,1440.5l2.9,5.6h-5.8z" fill="#000000"/>
<path d="M1173.7,1481.5l2.9,5.6h-5.8z" fill="#000000"/>
<path d="M1173.7,1507.5l2.9,5.6h-5.8z" fill="#000000"/>
<path d="M1128.4,1459.9l2.9,5.6h-5.8z" fill="#0000ff"/>
<path d="M1128.4,1464.2l2.9,5.6h-5.8z" fill="#0000ff"/>
<path d="M1128.4,1470.3l2.9,5.6h-5.8z" fill="#0000ff"/>
<path d="M1128.4,1480.6l2.9,5.6h-5.8z" fill="#0000ff"/>
<path d="M1128.4,1495.4l2.9,5.6h-5.8z" fill="#0000ff"/>
<path d="M1181.1,1460.4l2.9,5.6h-5.8z" fill="#0000ff"/>
<path d="M1181.1,1484.4l2.9,5.6h-5.8z" fill="#0000ff"/>
<path d="M1181.1,1495.9l2.9,5.6h-5.8z" fill="#0000ff"/>
<path d="M1181.1,1507.5l2.9,5.6h-5.8z" fill="#0000ff"/>
<g stroke="#000" stroke-width="2.7" fill="none">
<path d="M794.5,1514.0H1231.8"/>
<path d="M806.5,1514.0V1525.5"/>
<path d="M859.5,1514.0V1525.5"/>
<path d="M912.5,1514.0V1525.5"/>
<path d="M965.5,1514.0V1525.5"/>
<path d="M1018.5,1514.0V1525.5"/>
<path d="M1071.5,1514.0V1525.5"/>
<path d="M1124.5,1514.0V1525.5"/>
<path d="M1177.5,1514.0V1525.5"/>
<path d="M1230.5,1514.0V1525.5"/>
<path d="M806.5,1514.0V1309.0"/>
<path d="M794.5,1445.7H806.5"/>
<path d="M794.5,1377.3H806.5"/>
<path d="M798.5,1309.0H814.5"/>
<path d="M806.5,1284.0V1232.7"/>
<path d="M798.5,1284.0H814.5"/>
<path d="M791.5,1275.0H806.5"/>
<path d="M791.5,1254.5H806.5"/>
<path d="M791.5,1234.0H806.5"/>
</g>
<text transform="translate(790.0,1522.2) scale(1,1.090)" font-size="21.0" text-anchor="end" font-weight="bold">0.0</text>
<text transform="translate(790.0,1453.8) scale(1,1.090)" font-size="21.0" text-anchor="end" font-weight="bold">0.1</text>
<text transform="translate(790.0,1385.5) scale(1,1.090)" font-size="21.0" text-anchor="end" font-weight="bold">0.2</text>
<text transform="translate(790.0,1317.2) scale(1,1.090)" font-size="21.0" text-anchor="end" font-weight="bold">0.3</text>
<text transform="translate(787.0,1283.2) scale(1,1.090)" font-size="21.0" text-anchor="end" font-weight="bold">0.4</text>
<text transform="translate(787.0,1262.7) scale(1,1.090)" font-size="21.0" text-anchor="end" font-weight="bold">0.6</text>
<text transform="translate(787.0,1242.2) scale(1,1.090)" font-size="21.0" text-anchor="end" font-weight="bold">0.8</text>
<text transform="translate(806.5,1549.8) scale(1,1.090)" font-size="21.0" text-anchor="middle" font-weight="bold">6</text>
<text transform="translate(859.5,1549.8) scale(1,1.090)" font-size="21.0" text-anchor="middle" font-weight="bold">8</text>
<text transform="translate(912.5,1549.8) scale(1,1.090)" font-size="21.0" text-anchor="middle" font-weight="bold">10</text>
<text transform="translate(965.5,1549.8) scale(1,1.090)" font-size="21.0" text-anchor="middle" font-weight="bold">12</text>
<text transform="translate(1018.5,1549.8) scale(1,1.090)" font-size="21.0" text-anchor="middle" font-weight="bold">14</text>
<text transform="translate(1071.5,1549.8) scale(1,1.090)" font-size="21.0" text-anchor="middle" font-weight="bold">16</text>
<text transform="translate(1124.5,1549.8) scale(1,1.090)" font-size="21.0" text-anchor="middle" font-weight="bold">18</text>
<text transform="translate(1177.5,1549.8) scale(1,1.090)" font-size="21.0" text-anchor="middle" font-weight="bold">20</text>
<text transform="translate(1230.5,1549.8) scale(1,1.090)" font-size="21.0" text-anchor="middle" font-weight="bold">22</text>
<text transform="translate(746.7,1372.8) rotate(-90) scale(1,1.035)" font-size="22.6" font-weight="bold" text-anchor="middle">Absorbance (450nm)</text>
<path d="M239.5,1867.0 L239.5,1826.6 C252.4,1826.8 287.9,1827.2 316.9,1827.5 C345.9,1827.8 386.7,1828.1 413.5,1828.5 C440.3,1828.9 457.7,1829.3 477.9,1830.1 C498.1,1830.9 525.3,1832.9 534.8,1833.4 L534.8,1867.0 Z" fill="#bfbfbf"/>
<path d="M239.3,1867.0 L239.3,1826.6 C243.3,1827.6 255.2,1830.8 263.3,1832.4 C271.4,1834.0 281.1,1835.9 288.0,1836.0 C294.9,1836.1 299.1,1835.2 304.6,1833.2 C310.1,1831.2 315.5,1827.5 321.0,1824.1 C326.5,1820.7 332.1,1816.7 337.6,1812.6 C343.1,1808.5 348.5,1804.6 354.0,1799.4 C359.5,1794.2 365.1,1787.8 370.6,1781.2 C376.1,1774.6 379.9,1768.5 387.0,1759.8 C394.1,1751.0 403.2,1736.2 413.5,1728.7 C423.8,1721.2 438.3,1715.2 449.0,1714.5 C459.7,1713.8 467.7,1718.2 477.9,1724.4 C488.1,1730.7 499.6,1741.9 510.2,1752.0 C520.8,1762.1 536.5,1779.5 541.7,1785.0 L541.7,1867.0 Z" fill="#ffc0c0"/>
<path d="M239.3,1867.0 L239.3,1764.4 C243.3,1766.8 255.2,1773.8 263.3,1778.7 C271.4,1783.6 279.8,1788.6 288.0,1793.6 C296.2,1798.6 305.6,1804.5 312.8,1808.5 C320.0,1812.5 324.1,1814.8 331.0,1817.5 C337.9,1820.2 347.4,1823.2 354.0,1825.0 C360.6,1826.8 363.8,1827.6 370.6,1828.3 C377.4,1829.0 385.1,1830.5 395.0,1829.4 C404.9,1828.4 418.9,1824.8 430.0,1822.0 C441.1,1819.2 451.1,1816.0 461.8,1812.4 C472.5,1808.8 480.6,1804.9 494.0,1800.5 C507.4,1796.1 533.9,1788.6 541.9,1786.2 L541.9,1867.0 Z" fill="#c0c0ff"/>
<path d="M239.5,1867.0 L239.5,1826.6 C252.4,1826.8 287.9,1827.2 316.9,1827.5 C345.9,1827.8 386.7,1828.1 413.5,1828.5 C440.3,1828.9 457.7,1829.3 477.9,1830.1 C498.1,1830.9 525.3,1832.9 534.8,1833.4 L534.8,1867.0 Z" fill="#c09aa0" clip-path="url(#cB2LR)"/>
<path d="M239.5,1867.0 L239.5,1826.6 C252.4,1826.8 287.9,1827.2 316.9,1827.5 C345.9,1827.8 386.7,1828.1 413.5,1828.5 C440.3,1828.9 457.7,1829.3 477.9,1830.1 C498.1,1830.9 525.3,1832.9 534.8,1833.4 L534.8,1867.0 Z" fill="#9092c4" clip-path="url(#cB2LB)"/>
<path d="M239.3,1867.0 L239.3,1826.6 C243.3,1827.6 255.2,1830.8 263.3,1832.4 C271.4,1834.0 281.1,1835.9 288.0,1836.0 C294.9,1836.1 299.1,1835.2 304.6,1833.2 C310.1,1831.2 315.5,1827.5 321.0,1824.1 C326.5,1820.7 332.1,1816.7 337.6,1812.6 C343.1,1808.5 348.5,1804.6 354.0,1799.4 C359.5,1794.2 365.1,1787.8 370.6,1781.2 C376.1,1774.6 379.9,1768.5 387.0,1759.8 C394.1,1751.0 403.2,1736.2 413.5,1728.7 C423.8,1721.2 438.3,1715.2 449.0,1714.5 C459.7,1713.8 467.7,1718.2 477.9,1724.4 C488.1,1730.7 499.6,1741.9 510.2,1752.0 C520.8,1762.1 536.5,1779.5 541.7,1785.0 L541.7,1867.0 Z" fill="#ba9bcd" clip-path="url(#cB2LB)"/>
<g clip-path="url(#cB2LR)"><path d="M239.5,1867.0 L239.5,1826.6 C252.4,1826.8 287.9,1827.2 316.9,1827.5 C345.9,1827.8 386.7,1828.1 413.5,1828.5 C440.3,1828.9 457.7,1829.3 477.9,1830.1 C498.1,1830.9 525.3,1832.9 534.8,1833.4 L534.8,1867.0 Z" fill="#957aa6" clip-path="url(#cB2LB)"/></g>
<line x1="313.5" y1="1618.5" x2="313.5" y2="1868.0" stroke="#000" stroke-width="4.3" stroke-linecap="round" stroke-dasharray="0 8.02"/>
<text transform="translate(313.5,1604.5) scale(1,1.080)" font-size="19.0" text-anchor="middle">V1</text>
<line x1="414.5" y1="1618.5" x2="414.5" y2="1868.0" stroke="#000" stroke-width="4.3" stroke-linecap="round" stroke-dasharray="0 8.02"/>
<text transform="translate(414.5,1604.5) scale(1,1.080)" font-size="19.0" text-anchor="middle">V2</text>
<path d="M239.3,1616.9l2.9,5.6h-5.8z" fill="#0000ff"/>
<path d="M285.9,1648.8l2.9,5.6h-5.8z" fill="#0000ff"/>
<path d="M339.2,1646.0l2.9,5.6h-5.8z" fill="#ff0000"/>
<path d="M389.2,1646.3l2.9,5.6h-5.8z" fill="#ff0000"/>
<path d="M239.3,1788.7l2.9,5.6h-5.8z" fill="#ff0000"/>
<path d="M239.3,1826.7l2.9,5.6h-5.8z" fill="#ff0000"/>
<path d="M233.9,1839.1l2.9,5.6h-5.8z" fill="#ff0000"/>
<path d="M233.9,1847.3l2.9,5.6h-5.8z" fill="#ff0000"/>
<path d="M244.8,1843.7l2.9,5.6h-5.8z" fill="#ff0000"/>
<path d="M285.9,1777.2l2.9,5.6h-5.8z" fill="#ff0000"/>
<path d="M285.9,1785.4l2.9,5.6h-5.8z" fill="#ff0000"/>
<path d="M285.9,1803.1l2.9,5.6h-5.8z" fill="#ff0000"/>
<path d="M285.9,1822.6l2.9,5.6h-5.8z" fill="#ff0000"/>
<path d="M285.9,1831.7l2.9,5.6h-5.8z" fill="#ff0000"/>
<path d="M285.9,1840.7l2.9,5.6h-5.8z" fill="#ff0000"/>
<path d="M303.4,1843.7l2.9,5.6h-5.8z" fill="#ff0000"/>
<path d="M314.0,1835.5l2.9,5.6h-5.8z" fill="#ff0000"/>
<path d="M314.0,1847.3l2.9,5.6h-5.8z" fill="#ff0000"/>
<path d="M314.0,1857.3l2.9,5.6h-5.8z" fill="#ff0000"/>
<path d="M324.7,1844.5l2.9,5.6h-5.8z" fill="#ff0000"/>
<path d="M328.5,1839.9l2.9,5.6h-5.8z" fill="#ff0000"/>
<path d="M339.2,1797.0l2.9,5.6h-5.8z" fill="#ff0000"/>
<path d="M349.9,1839.9l2.9,5.6h-5.8z" fill="#ff0000"/>
<path d="M378.5,1798.2l2.9,5.6h-5.8z" fill="#ff0000"/>
<path d="M389.2,1753.3l2.9,5.6h-5.8z" fill="#ff0000"/>
<path d="M389.2,1776.0l2.9,5.6h-5.8z" fill="#ff0000"/>
<path d="M389.2,1793.2l2.9,5.6h-5.8z" fill="#ff0000"/>
<path d="M239.3,1812.7l2.9,5.6h-5.8z" fill="#0000ff"/>
<path d="M239.3,1822.6l2.9,5.6h-5.8z" fill="#0000ff"/>
<path d="M239.3,1828.4l2.9,5.6h-5.8z" fill="#0000ff"/>
<path d="M239.3,1830.0l2.9,5.6h-5.8z" fill="#0000ff"/>
<path d="M239.3,1833.3l2.9,5.6h-5.8z" fill="#0000ff"/>
<path d="M285.9,1769.4l2.9,5.6h-5.8z" fill="#0000ff"/>
<path d="M285.9,1806.1l2.9,5.6h-5.8z" fill="#0000ff"/>
<path d="M285.9,1815.7l2.9,5.6h-5.8z" fill="#0000ff"/>
<path d="M285.9,1827.5l2.9,5.6h-5.8z" fill="#0000ff"/>
<path d="M285.9,1839.1l2.9,5.6h-5.8z" fill="#0000ff"/>
<path d="M339.2,1759.0l2.9,5.6h-5.8z" fill="#0000ff"/>
<path d="M339.2,1818.5l2.9,5.6h-5.8z" fill="#0000ff"/>
<path d="M339.2,1829.2l2.9,5.6h-5.8z" fill="#0000ff"/>
<path d="M339.2,1831.7l2.9,5.6h-5.8z" fill="#0000ff"/>
<path d="M339.2,1835.0l2.9,5.6h-5.8z" fill="#0000ff"/>
<path d="M339.2,1837.1l2.9,5.6h-5.8z" fill="#0000ff"/>
<path d="M339.2,1840.7l2.9,5.6h-5.8z" fill="#0000ff"/>
<path d="M389.2,1791.6l2.9,5.6h-5.8z" fill="#0000ff"/>
<path d="M389.2,1805.3l2.9,5.6h-5.8z" fill="#0000ff"/>
<path d="M389.2,1828.9l2.9,5.6h-5.8z" fill="#0000ff"/>
<path d="M389.2,1839.1l2.9,5.6h-5.8z" fill="#0000ff"/>
<path d="M389.2,1842.1l2.9,5.6h-5.8z" fill="#0000ff"/>
<path d="M389.2,1845.7l2.9,5.6h-5.8z" fill="#0000ff"/>
<path d="M239.3,1820.1l2.9,5.6h-5.8z" fill="#000000"/>
<path d="M438.8,1626.0l2.9,5.6h-5.8z" fill="#ff0000"/>
<path d="M438.8,1644.9l2.9,5.6h-5.8z" fill="#ff0000"/>
<path d="M438.8,1685.2l2.9,5.6h-5.8z" fill="#ff0000"/>
<path d="M438.8,1696.7l2.9,5.6h-5.8z" fill="#ff0000"/>
<path d="M492.3,1636.2l2.9,5.6h-5.8z" fill="#ff0000"/>
<path d="M492.3,1649.0l2.9,5.6h-5.8z" fill="#ff0000"/>
<path d="M492.3,1681.9l2.9,5.6h-5.8z" fill="#ff0000"/>
<path d="M529.6,1707.2l2.9,5.6h-5.8z" fill="#ff0000"/>
<path d="M540.6,1707.2l2.9,5.6h-5.8z" fill="#ff0000"/>
<path d="M542.4,1626.0l2.9,5.6h-5.8z" fill="#0000ff"/>
<path d="M438.8,1754.8l2.9,5.6h-5.8z" fill="#ff0000"/>
<path d="M438.8,1805.7l2.9,5.6h-5.8z" fill="#ff0000"/>
<path d="M399.9,1796.7l2.9,5.6h-5.8z" fill="#ff0000"/>
<path d="M485.3,1789.3l2.9,5.6h-5.8z" fill="#ff0000"/>
<path d="M485.3,1821.3l2.9,5.6h-5.8z" fill="#ff0000"/>
<path d="M492.3,1763.3l2.9,5.6h-5.8z" fill="#ff0000"/>
<path d="M542.4,1826.2l2.9,5.6h-5.8z" fill="#ff0000"/>
<path d="M542.4,1859.1l2.9,5.6h-5.8z" fill="#ff0000"/>
<path d="M537.0,1844.8l2.9,5.6h-5.8z" fill="#ff0000"/>
<path d="M547.7,1849.7l2.9,5.6h-5.8z" fill="#ff0000"/>
<path d="M485.3,1797.2l2.9,5.6h-5.8z" fill="#000000"/>
<path d="M485.3,1831.2l2.9,5.6h-5.8z" fill="#000000"/>
<path d="M485.3,1837.7l2.9,5.6h-5.8z" fill="#000000"/>
<path d="M485.3,1840.2l2.9,5.6h-5.8z" fill="#000000"/>
<path d="M485.3,1842.7l2.9,5.6h-5.8z" fill="#000000"/>
<path d="M485.3,1845.1l2.9,5.6h-5.8z" fill="#000000"/>
<path d="M485.3,1849.7l2.9,5.6h-5.8z" fill="#000000"/>
<path d="M535.0,1777.0l2.9,5.6h-5.8z" fill="#000000"/>
<path d="M535.0,1796.7l2.9,5.6h-5.8z" fill="#000000"/>
<path d="M535.0,1831.2l2.9,5.6h-5.8z" fill="#000000"/>
<path d="M535.0,1854.2l2.9,5.6h-5.8z" fill="#000000"/>
<path d="M535.0,1856.6l2.9,5.6h-5.8z" fill="#000000"/>
<path d="M535.0,1860.7l2.9,5.6h-5.8z" fill="#000000"/>
<path d="M492.3,1737.1l2.9,5.6h-5.8z" fill="#0000ff"/>
<path d="M492.3,1784.4l2.9,5.6h-5.8z" fill="#0000ff"/>
<path d="M492.3,1800.0l2.9,5.6h-5.8z" fill="#0000ff"/>
<path d="M492.3,1807.0l2.9,5.6h-5.8z" fill="#0000ff"/>
<path d="M492.3,1824.1l2.9,5.6h-5.8z" fill="#0000ff"/>
<path d="M492.3,1842.7l2.9,5.6h-5.8z" fill="#0000ff"/>
<path d="M542.4,1808.2l2.9,5.6h-5.8z" fill="#0000ff"/>
<path d="M542.4,1833.3l2.9,5.6h-5.8z" fill="#0000ff"/>
<path d="M542.4,1838.6l2.9,5.6h-5.8z" fill="#0000ff"/>
<path d="M542.4,1841.0l2.9,5.6h-5.8z" fill="#0000ff"/>
<path d="M542.4,1853.7l2.9,5.6h-5.8z" fill="#0000ff"/>
<g stroke="#000" stroke-width="2.7" fill="none">
<path d="M178.7,1868.0H590.3"/>
<path d="M189.4,1868.0V1879.5"/>
<path d="M239.4,1868.0V1879.5"/>
<path d="M289.3,1868.0V1879.5"/>
<path d="M339.2,1868.0V1879.5"/>
<path d="M389.2,1868.0V1879.5"/>
<path d="M439.1,1868.0V1879.5"/>
<path d="M489.1,1868.0V1879.5"/>
<path d="M539.1,1868.0V1879.5"/>
<path d="M589.0,1868.0V1879.5"/>
<path d="M189.4,1868.0V1675.2"/>
<path d="M178.7,1803.7H189.4"/>
<path d="M178.7,1739.5H189.4"/>
<path d="M181.4,1675.2H197.4"/>
<path d="M189.4,1651.5V1602.7"/>
<path d="M181.4,1651.5H197.4"/>
<path d="M174.4,1642.5H189.4"/>
<path d="M174.4,1623.2H189.4"/>
<path d="M174.4,1604.0H189.4"/>
</g>
<text transform="translate(174.2,1876.2) scale(1,1.090)" font-size="21.0" text-anchor="end" font-weight="bold">0.0</text>
<text transform="translate(174.2,1811.9) scale(1,1.090)" font-size="21.0" text-anchor="end" font-weight="bold">0.1</text>
<text transform="translate(174.2,1747.6) scale(1,1.090)" font-size="21.0" text-anchor="end" font-weight="bold">0.2</text>
<text transform="translate(174.2,1683.4) scale(1,1.090)" font-size="21.0" text-anchor="end" font-weight="bold">0.3</text>
<text transform="translate(169.9,1650.7) scale(1,1.090)" font-size="21.0" text-anchor="end" font-weight="bold">0.4</text>
<text transform="translate(169.9,1631.4) scale(1,1.090)" font-size="21.0" text-anchor="end" font-weight="bold">0.6</text>
<text transform="translate(169.9,1612.2) scale(1,1.090)" font-size="21.0" text-anchor="end" font-weight="bold">0.8</text>
<text transform="translate(189.4,1902.0) scale(1,1.090)" font-size="21.0" text-anchor="middle" font-weight="bold">6</text>
<text transform="translate(239.4,1902.0) scale(1,1.090)" font-size="21.0" text-anchor="middle" font-weight="bold">8</text>
<text transform="translate(289.3,1902.0) scale(1,1.090)" font-size="21.0" text-anchor="middle" font-weight="bold">10</text>
<text transform="translate(339.2,1902.0) scale(1,1.090)" font-size="21.0" text-anchor="middle" font-weight="bold">12</text>
<text transform="translate(389.2,1902.0) scale(1,1.090)" font-size="21.0" text-anchor="middle" font-weight="bold">14</text>
<text transform="translate(439.1,1902.0) scale(1,1.090)" font-size="21.0" text-anchor="middle" font-weight="bold">16</text>
<text transform="translate(489.1,1902.0) scale(1,1.090)" font-size="21.0" text-anchor="middle" font-weight="bold">18</text>
<text transform="translate(539.1,1902.0) scale(1,1.090)" font-size="21.0" text-anchor="middle" font-weight="bold">20</text>
<text transform="translate(589.0,1902.0) scale(1,1.090)" font-size="21.0" text-anchor="middle" font-weight="bold">22</text>
<text transform="translate(132.9,1740.7) rotate(-90) scale(1,1.035)" font-size="22.6" font-weight="bold" text-anchor="middle">Absorbance (450nm)</text>
<path d="M875.8,1867.0 L875.8,1815.2 C888.8,1815.5 928.6,1816.5 953.5,1817.0 C978.4,1817.5 1004.9,1818.0 1025.0,1818.5 C1045.1,1819.0 1057.9,1819.1 1074.3,1819.7 C1090.7,1820.3 1107.3,1821.2 1123.6,1822.1 C1139.9,1823.0 1163.9,1824.6 1172.0,1825.1 L1172.0,1867.0 Z" fill="#bfbfbf"/>
<path d="M875.9,1867.0 L875.9,1804.6 C879.9,1806.1 892.9,1811.6 899.6,1813.6 C906.3,1815.6 909.1,1816.0 915.9,1816.5 C922.7,1817.0 934.1,1816.9 940.4,1816.8 C946.7,1816.7 949.4,1817.1 953.5,1816.0 C957.6,1814.9 960.3,1813.4 964.9,1810.3 C969.5,1807.2 975.8,1802.4 981.3,1797.2 C986.8,1792.0 992.1,1786.0 997.6,1779.2 C1003.1,1772.4 1008.6,1762.8 1014.0,1756.3 C1019.4,1749.8 1023.9,1744.0 1030.0,1740.0 C1036.1,1736.0 1043.2,1731.8 1050.6,1732.3 C1058.0,1732.8 1067.6,1738.7 1074.3,1743.3 C1081.0,1747.9 1085.2,1754.0 1090.7,1759.7 C1096.2,1765.5 1101.1,1772.0 1107.1,1777.8 C1113.1,1783.5 1119.9,1790.4 1126.8,1794.2 C1133.7,1798.0 1141.9,1800.0 1148.2,1800.8 C1154.5,1801.6 1159.5,1799.9 1164.6,1799.1 C1169.7,1798.3 1176.3,1796.3 1178.6,1795.8 L1178.6,1867.0 Z" fill="#ffc0c0"/>
<path d="M875.9,1867.0 L875.9,1801.3 C879.9,1802.8 891.6,1807.0 899.6,1810.3 C907.6,1813.6 918.4,1818.6 924.1,1820.9 C929.8,1823.2 929.5,1824.9 933.9,1824.2 C938.2,1823.5 943.7,1818.2 950.2,1816.8 C956.7,1815.4 965.2,1816.5 973.1,1816.0 C981.0,1815.5 988.1,1814.8 997.6,1813.6 C1007.1,1812.4 1017.2,1809.7 1030.0,1808.6 C1042.8,1807.5 1058.7,1806.9 1074.3,1807.0 C1089.9,1807.1 1106.2,1808.1 1123.6,1809.0 C1141.0,1809.9 1169.4,1811.8 1178.6,1812.3 L1178.6,1867.0 Z" fill="#c0c0ff"/>
<path d="M875.8,1867.0 L875.8,1815.2 C888.8,1815.5 928.6,1816.5 953.5,1817.0 C978.4,1817.5 1004.9,1818.0 1025.0,1818.5 C1045.1,1819.0 1057.9,1819.1 1074.3,1819.7 C1090.7,1820.3 1107.3,1821.2 1123.6,1822.1 C1139.9,1823.0 1163.9,1824.6 1172.0,1825.1 L1172.0,1867.0 Z" fill="#c09aa0" clip-path="url(#cB2RR)"/>
<path d="M875.8,1867.0 L875.8,1815.2 C888.8,1815.5 928.6,1816.5 953.5,1817.0 C978.4,1817.5 1004.9,1818.0 1025.0,1818.5 C1045.1,1819.0 1057.9,1819.1 1074.3,1819.7 C1090.7,1820.3 1107.3,1821.2 1123.6,1822.1 C1139.9,1823.0 1163.9,1824.6 1172.0,1825.1 L1172.0,1867.0 Z" fill="#9092c4" clip-path="url(#cB2RB)"/>
<path d="M875.9,1867.0 L875.9,1804.6 C879.9,1806.1 892.9,1811.6 899.6,1813.6 C906.3,1815.6 909.1,1816.0 915.9,1816.5 C922.7,1817.0 934.1,1816.9 940.4,1816.8 C946.7,1816.7 949.4,1817.1 953.5,1816.0 C957.6,1814.9 960.3,1813.4 964.9,1810.3 C969.5,1807.2 975.8,1802.4 981.3,1797.2 C986.8,1792.0 992.1,1786.0 997.6,1779.2 C1003.1,1772.4 1008.6,1762.8 1014.0,1756.3 C1019.4,1749.8 1023.9,1744.0 1030.0,1740.0 C1036.1,1736.0 1043.2,1731.8 1050.6,1732.3 C1058.0,1732.8 1067.6,1738.7 1074.3,1743.3 C1081.0,1747.9 1085.2,1754.0 1090.7,1759.7 C1096.2,1765.5 1101.1,1772.0 1107.1,1777.8 C1113.1,1783.5 1119.9,1790.4 1126.8,1794.2 C1133.7,1798.0 1141.9,1800.0 1148.2,1800.8 C1154.5,1801.6 1159.5,1799.9 1164.6,1799.1 C1169.7,1798.3 1176.3,1796.3 1178.6,1795.8 L1178.6,1867.0 Z" fill="#ba9bcd" clip-path="url(#cB2RB)"/>
<g clip-path="url(#cB2RR)"><path d="M875.8,1867.0 L875.8,1815.2 C888.8,1815.5 928.6,1816.5 953.5,1817.0 C978.4,1817.5 1004.9,1818.0 1025.0,1818.5 C1045.1,1819.0 1057.9,1819.1 1074.3,1819.7 C1090.7,1820.3 1107.3,1821.2 1123.6,1822.1 C1139.9,1823.0 1163.9,1824.6 1172.0,1825.1 L1172.0,1867.0 Z" fill="#957aa6" clip-path="url(#cB2RB)"/></g>
<line x1="950.0" y1="1618.5" x2="950.0" y2="1868.0" stroke="#000" stroke-width="4.3" stroke-linecap="round" stroke-dasharray="0 8.02"/>
<text transform="translate(950.0,1604.5) scale(1,1.080)" font-size="19.0" text-anchor="middle">V1</text>
<line x1="1050.5" y1="1618.5" x2="1050.5" y2="1868.0" stroke="#000" stroke-width="4.3" stroke-linecap="round" stroke-dasharray="0 8.02"/>
<text transform="translate(1050.5,1604.5) scale(1,1.080)" font-size="19.0" text-anchor="middle">V2</text>
<path d="M1025.4,1622.5l2.9,5.6h-5.8z" fill="#ff0000"/>
<path d="M1025.4,1690.0l2.9,5.6h-5.8z" fill="#ff0000"/>
<path d="M875.9,1780.9l2.9,5.6h-5.8z" fill="#0000ff"/>
<path d="M875.9,1782.6l2.9,5.6h-5.8z" fill="#0000ff"/>
<path d="M875.9,1795.3l2.9,5.6h-5.8z" fill="#0000ff"/>
<path d="M875.9,1798.1l2.9,5.6h-5.8z" fill="#0000ff"/>
<path d="M875.9,1811.2l2.9,5.6h-5.8z" fill="#0000ff"/>
<path d="M922.4,1803.5l2.9,5.6h-5.8z" fill="#0000ff"/>
<path d="M922.4,1813.6l2.9,5.6h-5.8z" fill="#0000ff"/>
<path d="M922.4,1816.6l2.9,5.6h-5.8z" fill="#0000ff"/>
<path d="M922.4,1822.1l2.9,5.6h-5.8z" fill="#0000ff"/>
<path d="M922.4,1826.7l2.9,5.6h-5.8z" fill="#0000ff"/>
<path d="M975.6,1804.1l2.9,5.6h-5.8z" fill="#0000ff"/>
<path d="M975.6,1806.8l2.9,5.6h-5.8z" fill="#0000ff"/>
<path d="M975.6,1811.2l2.9,5.6h-5.8z" fill="#0000ff"/>
<path d="M975.6,1813.6l2.9,5.6h-5.8z" fill="#0000ff"/>
<path d="M975.6,1815.3l2.9,5.6h-5.8z" fill="#0000ff"/>
<path d="M1025.7,1801.9l2.9,5.6h-5.8z" fill="#0000ff"/>
<path d="M1025.7,1807.9l2.9,5.6h-5.8z" fill="#0000ff"/>
<path d="M1025.7,1820.5l2.9,5.6h-5.8z" fill="#0000ff"/>
<path d="M875.9,1787.1l2.9,5.6h-5.8z" fill="#ff0000"/>
<path d="M875.9,1817.2l2.9,5.6h-5.8z" fill="#ff0000"/>
<path d="M870.5,1796.5l2.9,5.6h-5.8z" fill="#ff0000"/>
<path d="M870.5,1804.6l2.9,5.6h-5.8z" fill="#ff0000"/>
<path d="M881.2,1798.6l2.9,5.6h-5.8z" fill="#ff0000"/>
<path d="M881.2,1806.8l2.9,5.6h-5.8z" fill="#ff0000"/>
<path d="M916.7,1798.9l2.9,5.6h-5.8z" fill="#ff0000"/>
<path d="M916.7,1807.6l2.9,5.6h-5.8z" fill="#ff0000"/>
<path d="M927.3,1795.6l2.9,5.6h-5.8z" fill="#ff0000"/>
<path d="M927.3,1803.5l2.9,5.6h-5.8z" fill="#ff0000"/>
<path d="M927.3,1809.2l2.9,5.6h-5.8z" fill="#ff0000"/>
<path d="M939.9,1812.3l2.9,5.6h-5.8z" fill="#ff0000"/>
<path d="M950.2,1810.8l2.9,5.6h-5.8z" fill="#ff0000"/>
<path d="M950.2,1817.4l2.9,5.6h-5.8z" fill="#ff0000"/>
<path d="M950.2,1833.2l2.9,5.6h-5.8z" fill="#ff0000"/>
<path d="M960.8,1814.4l2.9,5.6h-5.8z" fill="#ff0000"/>
<path d="M964.9,1815.7l2.9,5.6h-5.8z" fill="#ff0000"/>
<path d="M975.6,1788.3l2.9,5.6h-5.8z" fill="#ff0000"/>
<path d="M975.6,1803.5l2.9,5.6h-5.8z" fill="#ff0000"/>
<path d="M975.6,1818.0l2.9,5.6h-5.8z" fill="#ff0000"/>
<path d="M975.6,1825.6l2.9,5.6h-5.8z" fill="#ff0000"/>
<path d="M986.2,1815.3l2.9,5.6h-5.8z" fill="#ff0000"/>
<path d="M1020.2,1777.7l2.9,5.6h-5.8z" fill="#ff0000"/>
<path d="M1025.7,1788.3l2.9,5.6h-5.8z" fill="#ff0000"/>
<path d="M1025.7,1797.3l2.9,5.6h-5.8z" fill="#ff0000"/>
<path d="M875.9,1807.1l2.9,5.6h-5.8z" fill="#000000"/>
<path d="M1075.4,1625.5l2.9,5.6h-5.8z" fill="#ff0000"/>
<path d="M1075.4,1735.6l2.9,5.6h-5.8z" fill="#ff0000"/>
<path d="M1128.8,1683.4l2.9,5.6h-5.8z" fill="#ff0000"/>
<path d="M1075.4,1752.4l2.9,5.6h-5.8z" fill="#ff0000"/>
<path d="M1075.4,1766.4l2.9,5.6h-5.8z" fill="#ff0000"/>
<path d="M1075.4,1790.7l2.9,5.6h-5.8z" fill="#ff0000"/>
<path d="M1075.4,1797.2l2.9,5.6h-5.8z" fill="#ff0000"/>
<path d="M1031.1,1776.7l2.9,5.6h-5.8z" fill="#ff0000"/>
<path d="M1121.9,1833.4l2.9,5.6h-5.8z" fill="#ff0000"/>
<path d="M1123.6,1781.1l2.9,5.6h-5.8z" fill="#ff0000"/>
<path d="M1128.8,1792.6l2.9,5.6h-5.8z" fill="#ff0000"/>
<path d="M1134.2,1786.1l2.9,5.6h-5.8z" fill="#ff0000"/>
<path d="M1173.7,1804.5l2.9,5.6h-5.8z" fill="#ff0000"/>
<path d="M1178.9,1825.2l2.9,5.6h-5.8z" fill="#ff0000"/>
<path d="M1178.9,1836.2l2.9,5.6h-5.8z" fill="#ff0000"/>
<path d="M1184.3,1803.0l2.9,5.6h-5.8z" fill="#ff0000"/>
<path d="M1166.3,1768.8l2.9,5.6h-5.8z" fill="#ff0000"/>
<path d="M1176.9,1765.5l2.9,5.6h-5.8z" fill="#ff0000"/>
<path d="M1121.9,1809.1l2.9,5.6h-5.8z" fill="#000000"/>
<path d="M1121.9,1817.3l2.9,5.6h-5.8z" fill="#000000"/>
<path d="M1121.9,1821.4l2.9,5.6h-5.8z" fill="#000000"/>
<path d="M1121.9,1823.0l2.9,5.6h-5.8z" fill="#000000"/>
<path d="M1121.9,1837.8l2.9,5.6h-5.8z" fill="#000000"/>
<path d="M1172.0,1812.4l2.9,5.6h-5.8z" fill="#000000"/>
<path d="M1172.0,1817.3l2.9,5.6h-5.8z" fill="#000000"/>
<path d="M1172.0,1825.5l2.9,5.6h-5.8z" fill="#000000"/>
<path d="M1172.0,1829.6l2.9,5.6h-5.8z" fill="#000000"/>
<path d="M1172.0,1833.7l2.9,5.6h-5.8z" fill="#000000"/>
<path d="M1128.8,1788.0l2.9,5.6h-5.8z" fill="#0000ff"/>
<path d="M1128.8,1805.0l2.9,5.6h-5.8z" fill="#0000ff"/>
<path d="M1128.8,1806.6l2.9,5.6h-5.8z" fill="#0000ff"/>
<path d="M1128.8,1810.7l2.9,5.6h-5.8z" fill="#0000ff"/>
<path d="M1128.8,1816.5l2.9,5.6h-5.8z" fill="#0000ff"/>
<path d="M1178.9,1806.6l2.9,5.6h-5.8z" fill="#0000ff"/>
<path d="M1178.9,1809.1l2.9,5.6h-5.8z" fill="#0000ff"/>
<path d="M1178.9,1811.5l2.9,5.6h-5.8z" fill="#0000ff"/>
<path d="M1178.9,1814.0l2.9,5.6h-5.8z" fill="#0000ff"/>
<g stroke="#000" stroke-width="2.7" fill="none">
<path d="M815.3,1868.0H1226.8"/>
<path d="M826.0,1868.0V1879.5"/>
<path d="M875.9,1868.0V1879.5"/>
<path d="M925.9,1868.0V1879.5"/>
<path d="M975.8,1868.0V1879.5"/>
<path d="M1025.8,1868.0V1879.5"/>
<path d="M1075.7,1868.0V1879.5"/>
<path d="M1125.6,1868.0V1879.5"/>
<path d="M1175.6,1868.0V1879.5"/>
<path d="M1225.5,1868.0V1879.5"/>
<path d="M826.0,1868.0V1675.4"/>
<path d="M815.3,1829.5H826.0"/>
<path d="M815.3,1791.0H826.0"/>
<path d="M815.3,1752.4H826.0"/>
<path d="M815.3,1713.9H826.0"/>
<path d="M818.0,1675.4H834.0"/>
<path d="M826.0,1651.5V1602.7"/>
<path d="M818.0,1651.5H834.0"/>
<path d="M811.0,1604.0H826.0"/>
</g>
<text transform="translate(810.8,1876.2) scale(1,1.090)" font-size="21.0" text-anchor="end" font-weight="bold">0.00</text>
<text transform="translate(810.8,1837.7) scale(1,1.090)" font-size="21.0" text-anchor="end" font-weight="bold">0.02</text>
<text transform="translate(810.8,1799.1) scale(1,1.090)" font-size="21.0" text-anchor="end" font-weight="bold">0.04</text>
<text transform="translate(810.8,1760.6) scale(1,1.090)" font-size="21.0" text-anchor="end" font-weight="bold">0.06</text>
<text transform="translate(810.8,1722.1) scale(1,1.090)" font-size="21.0" text-anchor="end" font-weight="bold">0.08</text>
<text transform="translate(810.8,1683.6) scale(1,1.090)" font-size="21.0" text-anchor="end" font-weight="bold">0.10</text>
<text transform="translate(806.5,1659.7) scale(1,1.090)" font-size="21.0" text-anchor="end" font-weight="bold">0.1</text>
<text transform="translate(806.5,1612.2) scale(1,1.090)" font-size="21.0" text-anchor="end" font-weight="bold">0.2</text>
<text transform="translate(826.0,1902.0) scale(1,1.090)" font-size="21.0" text-anchor="middle" font-weight="bold">6</text>
<text transform="translate(875.9,1902.0) scale(1,1.090)" font-size="21.0" text-anchor="middle" font-weight="bold">8</text>
<text transform="translate(925.9,1902.0) scale(1,1.090)" font-size="21.0" text-anchor="middle" font-weight="bold">10</text>
<text transform="translate(975.8,1902.0) scale(1,1.090)" font-size="21.0" text-anchor="middle" font-weight="bold">12</text>
<text transform="translate(1025.8,1902.0) scale(1,1.090)" font-size="21.0" text-anchor="middle" font-weight="bold">14</text>
<text transform="translate(1075.7,1902.0) scale(1,1.090)" font-size="21.0" text-anchor="middle" font-weight="bold">16</text>
<text transform="translate(1125.6,1902.0) scale(1,1.090)" font-size="21.0" text-anchor="middle" font-weight="bold">18</text>
<text transform="translate(1175.6,1902.0) scale(1,1.090)" font-size="21.0" text-anchor="middle" font-weight="bold">20</text>
<text transform="translate(1225.5,1902.0) scale(1,1.090)" font-size="21.0" text-anchor="middle" font-weight="bold">22</text>
<text transform="translate(758.5,1741.0) rotate(-90) scale(1,1.035)" font-size="22.6" font-weight="bold" text-anchor="middle">Absorbance (450nm)</text>
</svg>
</body></html>
